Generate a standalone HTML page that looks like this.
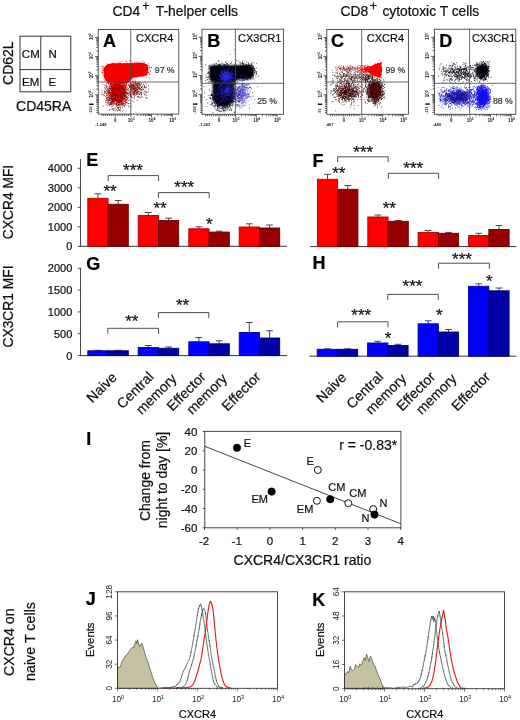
<!DOCTYPE html>
<html><head><meta charset="utf-8"><title>Figure</title>
<style>
html,body{margin:0;padding:0;background:#fff;}
body{width:520px;height:720px;overflow:hidden;font-family:"Liberation Sans",sans-serif;}
svg{display:block;font-family:"Liberation Sans",sans-serif;}
</style></head><body>
<svg width="520" height="720" viewBox="0 0 520 720">
<defs>
<filter id="b1" x="-10%" y="-10%" width="120%" height="120%"><feGaussianBlur stdDeviation="0.5"/></filter>
<filter id="b2" x="-10%" y="-10%" width="120%" height="120%"><feGaussianBlur stdDeviation="0.9"/></filter>
<filter id="soft" x="0" y="0" width="520" height="720" filterUnits="userSpaceOnUse"><feGaussianBlur stdDeviation="0.32"/></filter>
</defs>
<rect width="520" height="720" fill="#fff"/>
<g filter="url(#soft)">
<rect x="20" y="36.2" width="50.8" height="55.6" fill="none" stroke="#2a2a2a" stroke-width="0.95"/>
<line x1="40.8" y1="36.2" x2="40.8" y2="91.8" stroke="#2a2a2a" stroke-width="0.95"/>
<line x1="20" y1="69.6" x2="70.8" y2="69.6" stroke="#2a2a2a" stroke-width="0.95"/>
<text x="30.8" y="58.2" font-size="11.5" text-anchor="middle" fill="#111" stroke="#111" stroke-width="0.22">CM</text>
<text x="52.7" y="58.2" font-size="11.5" text-anchor="middle" fill="#111" stroke="#111" stroke-width="0.22">N</text>
<text x="30.7" y="85.9" font-size="11.5" text-anchor="middle" fill="#111" stroke="#111" stroke-width="0.22">EM</text>
<text x="52.4" y="85.9" font-size="11.5" text-anchor="middle" fill="#111" stroke="#111" stroke-width="0.22">E</text>
<text x="12.8" y="63.2" font-size="14" text-anchor="middle" fill="#111" transform="rotate(-90 12.8 63.2)" stroke="#111" stroke-width="0.22">CD62L</text>
<text x="43.7" y="110.6" font-size="14" text-anchor="middle" fill="#111" stroke="#111" stroke-width="0.22">CD45RA</text>
<text x="112.6" y="15.7" font-size="13.8" text-anchor="start" fill="#111" stroke="#111" stroke-width="0.22">CD4</text>
<text x="142.2" y="9.6" font-size="12.5" text-anchor="start" fill="#111" stroke="#111" stroke-width="0.3">+</text>
<text x="155.8" y="15.7" font-size="13.8" text-anchor="start" fill="#111" stroke="#111" stroke-width="0.22">T-helper cells</text>
<text x="340.6" y="15.7" font-size="13.8" text-anchor="start" fill="#111" stroke="#111" stroke-width="0.22">CD8</text>
<text x="369.8" y="9.6" font-size="12.5" text-anchor="start" fill="#111" stroke="#111" stroke-width="0.3">+</text>
<text x="382.4" y="15.7" font-size="13.8" text-anchor="start" fill="#111" stroke="#111" stroke-width="0.22">cytotoxic T cells</text>
<path transform="scale(.1)" d="m1015 903h8m-7 25h8m-7 18h8m3-3h8m-7 117h8m-1-103h8m-5-48h8m-5 6h8m-8 18h8m-7-56h8m-4 9h8m-6 38h8m-4 97h8m-6-107h8m-6-64h8m-8 43h8m-7 113h8m-8 22h8m-7-25h8m-7-100h8m-7 83h8m-7-217h8m-8 108h8m-8 55h8m-8 7h8m-7-76h8m-8 96h8m-7 30h8m-7-200h8m-7 76h8m-8 4h8m-8 85h8m-6-13h8m-7 89h8m-7 23h8m-6-42h8m-7-191h8m-8 92h8m-8 5h8m-6 74h8m-7-95h8m-8 17h8m-8 78h8m-6-77h8m-7 65h8m-8 28h8m-7-114h8m-8 127h8m-8 21h8m-7-42h8m-7-164h8m-8 73h8m-8 19h8m-6-99h8m-8 93h8m-8 15h8m-8 12h8m-8 81h8m-7-143h8m-8 90h8m-7-161h8m-8 136h8m-8 39h8m-6-62h8m-8 3h8m-8 73h8m-7-227h8m-8 114h8m-8 42h8m-7-110h8m-7 103h8m-8 172h8m-7-235h8m-8 121h8m-8 12h8m-6 9h8m-7-103h8m-8 20h8m-8 57h8m-8 62h8m-7-65h8m-8 123h8m-7-214h8m-8 66h8m-8 1h8m-7-109h8m-7-47h8m-8 137h8m-8 1h8m-7 23h8m-8 70h8m-7-181h8m-7 93h8m-8 20h8m-7-111h8m-8 99h8m-8 30h8m-8 54h8m-7-148h8m-8 47h8m-7-125h8m-8 146h8m-8 23h8m-8 26h8m-7-73h8m-7-165h8m-8 105h8m-8 154h8m-8 16h8m-6-176h8m-8 3h8m-8 30h8m-8 74h8m-8 8h8m-8 70h8m-7-247h8m-8 14h8m-8 60h8m-8 166h8m-7-201h8m-8 7h8m-8 13h8m-8 28h8m-8 25h8m-8 1h8m-8 46h8m-7-120h8m-8 148h8m-7-58h8m-8 5h8m-8 4h8m-8 32h8m-7-143h8m-8 11h8m-8 63h8m-7-104h8m-7 68h8m-8 48h8m-8 9h8m-8 60h8m-8 3h8m-7-176h8m-8 76h8m-8 45h8m-8 17h8m-7-42h8m-8 116h8m-8 18h8m-7-129h8m-8 24h8m-8 19h8m-8 25h8m-8 20h8m-8 91h8m-7-245h8m-8 36h8m-8 33h8m-8 98h8m-8 19h8m-6-83h8m-8 27h8m-8 19h8m-7-110h8m-8 52h8m-8 17h8m-8 1h8m-7-64h8m-8 19h8m-8 70h8m-7-66h8m-8 58h8m-8 82h8m-7-170h8m-8 7h8m-8 63h8m-8 40h8m-8 11h8m-7-85h8m-8 10h8m-8 6h8m-8 5h8m-8 46h8m-7-138h8m-8 70h8m-7-37h8m-8 19h8m-8 38h8m-8 28h8m-8 18h8m-7-95h8m-8 37h8m-8 10h8m-8 26h8m-8 13h8m-8 16h8m-8 4h8m-8 98h8m-7-276h8m-8 63h8m-8 30h8m-8 140h8m-7-241h8m-8 5h8m-8 78h8m-8 42h8m-8 4h8m-8 29h8m-8 12h8m-8 12h8m-7-147h8m-8 44h8m-8 2h8m-8 47h8m-8 23h8m-8 19h8m-7-31h8m-8 16h8m-7-67h8m-8 35h8m-8 20h8m-8 0h8m-8 28h8m-7-153h8m-8 86h8m-8 34h8m-8 9h8m-8 14h8m-7-155h8m-8 59h8m-8 23h8m-8 33h8m-8 15h8m-8 27h8m-8 24h8m-8 12h8m-7-173h8m-8 49h8m-8 82h8m-8 1h8m-8 56h8m-7-139h8m-8 9h8m-8 8h8m-8 47h8m-8 37h8m-8 33h8m-8 70h8m-7-239h8m-8 33h8m-8 45h8m-8 89h8m-7-72h8m-8 96h8m-7-149h8m-8 51h8m-8 37h8m-7-126h8m-8 1h8m-8 20h8m-8 126h8m-8 1h8m-7-197h8m-8 91h8m-8 6h8m-8 11h8m-8 58h8m-8 10h8m-8 2h8m-8 5h8m-7-123h8m-8 157h8m-7-148h8m-8 28h8m-8 52h8m-8 41h8m-7-284h8m-8 137h8m-8 16h8m-8 25h8m-7-85h8m-8 204h8m-8 1h8m-7-210h8m-8 132h8m-8 5h8m-8 3h8m-8 24h8m-8 16h8m-8 17h8m-8 7h8m-7-63h8m-8 29h8m-8 17h8m-8 4h8m-8 50h8m-7-133h8m-8 61h8m-8 8h8m-8 14h8m-8 19h8m-7-162h8m-8 50h8m-8 3h8m-8 16h8m-8 21h8m-7-69h8m-8 30h8m-8 11h8m-8 8h8m-7 0h8m-8 55h8m-8 7h8m-8 4h8m-7-139h8m-8 73h8m-8 17h8m-8 5h8m-8 23h8m-7-144h8m-8 138h8m-8 150h8m-7-251h8m-8 33h8m-8 29h8m-8 19h8m-8 13h8m-7-191h8m-8 60h8m-8 6h8m-8 132h8m-8 42h8m-8 7h8m-7-1h8m-8 92h8m-7-241h8m-8 63h8m-8 16h8m-8 17h8m-8 32h8m-8 3h8m-8 1h8m-8 45h8m-7-166h8m-8 61h8m-8 2h8m-8 3h8m-8 111h8m-7-175h8m-8 16h8m-8 64h8m-8 39h8m-8 65h8m-7-273h8m-8 115h8m-8 0h8m-8 4h8m-8 40h8m-8 101h8m-7-151h8m-8 63h8m-8 7h8m-8 14h8m-8 29h8m-7-135h8m-8 28h8m-8 23h8m-8 42h8m-8 14h8m-8 13h8m-8 21h8m-7-210h8m-8 67h8m-8 18h8m-8 43h8m-8 41h8m-8 61h8m-7-217h8m-8 69h8m-8 38h8m-8 20h8m-8 5h8m-8 35h8m-8 16h8m-8 6h8m-7-158h8m-8 22h8m-8 7h8m-8 51h8m-8 29h8m-8 12h8m-8 28h8m-8 1h8m-7-148h8m-8 56h8m-8 21h8m-8 56h8m-8 12h8m-8 9h8m-8 84h8m-7-238h8m-8 50h8m-8 15h8m-8 11h8m-8 23h8m-8 12h8m-8 1h8m-8 1h8m-7-73h8m-8 91h8m-8 15h8m-8 35h8m-7-55h8m-8 18h8m-8 39h8m-7-114h8m-8 197h8m-7-163h8m-8 8h8m-8 52h8m-8 5h8m-8 2h8m-7-161h8m-8 78h8m-8 55h8m-8 29h8m-7-190h8m-8 23h8m-8 81h8m-8 22h8m-8 132h8m-7-222h8m-8 32h8m-8 73h8m-8 5h8m-8 6h8m-7-102h8m-8 54h8m-8 78h8m-8 11h8m-8 35h8m-7-200h8m-8 76h8m-8 21h8m-8 6h8m-8 33h8m-8 12h8m-8 3h8m-7-247h8m-8 148h8m-8 24h8m-8 5h8m-8 9h8m-8 38h8m-8 8h8m-8 36h8m-7-187h8m-8 52h8m-8 11h8m-7 67h8m-8 111h8m-8 7h8m-7-184h8m-8 2h8m-8 7h8m-8 0h8m-8 96h8m-8 39h8m-7-185h8m-8 44h8m-8 4h8m-8 8h8m-8 25h8m-8 9h8m-8 4h8m-8 38h8m-7-97h8m-8 6h8m-8 34h8m-8 29h8m-8 8h8m-8 18h8m-8 58h8m-7-212h8m-8 0h8m-8 56h8m-8 0h8m-8 6h8m-8 22h8m-8 50h8m-8 11h8m-8 41h8m-7-228h8m-8 153h8m-8 50h8m-8 31h8m-7-170h8m-8 31h8m-8 54h8m-8 70h8m-8 41h8m-7-122h8m-8 24h8m-8 79h8m-7-146h8m-8 61h8m-8 4h8m-8 11h8m-8 141h8m-6-266h8m-8 86h8m-8 24h8m-8 23h8m-8 35h8m-8 16h8m-7-224h8m-8 15h8m-8 59h8m-8 18h8m-8 11h8m-8 25h8m-8 32h8m-8 2h8m-7-87h8m-8 10h8m-8 11h8m-8 27h8m-8 13h8m-8 27h8m-8 15h8m-8 31h8m-8 18h8m-8 71h8m-7-265h8m-8 1h8m-8 24h8m-8 21h8m-8 67h8m-8 21h8m-8 6h8m-7-44h8m-8 2h8m-8 3h8m-8 16h8m-8 21h8m-8 10h8m-8 53h8m-7-186h8m-8 3h8m-8 16h8m-8 29h8m-8 15h8m-8 7h8m-8 7h8m-8 2h8m-8 1h8m-8 46h8m-8 26h8m-7-164h8m-8 130h8m-8 0h8m-8 7h8m-8 1h8m-8 30h8m-8 38h8m-7-252h8m-8 116h8m-8 22h8m-8 18h8m-8 52h8m-8 19h8m-7-149h8m-8 52h8m-8 14h8m-8 4h8m-8 139h8m-7-92h8m-8 13h8m-8 28h8m-7-152h8m-8 24h8m-8 92h8m-8 102h8m-7-270h8m-8 126h8m-8 6h8m-8 16h8m-8 142h8m-7-345h8m-8 131h8m-8 8h8m-8 34h8m-8 12h8m-8 32h8m-7-56h8m-8 32h8m-8 40h8m-7-160h8m-8 66h8m-8 8h8m-8 14h8m-8 10h8m-7 23h8m-6-77h8m-8 36h8m-8 37h8m-8 19h8m-8 13h8m-7-60h8m-8 29h8m-7-130h8m-8 6h8m-8 2h8m-8 94h8m-8 15h8m-8 30h8m-8 26h8m-8 42h8m-7-103h8m-8 37h8m-8 10h8m-8 3h8m-8 10h8m-7-87h8m-8 34h8m-8 5h8m-8 3h8m-8 70h8m-7-161h8m-7-46h8m-8 70h8m-7 39h8m-8 36h8m-8 11h8m-8 4h8m-8 30h8m-8 28h8m-8 3h8m-7-263h8m-8 135h8m-7-99h8m-8 11h8m-8 55h8m-8 14h8m-8 8h8m-8 9h8m-8 33h8m-8 3h8m-8 41h8m-8 38h8m-7-166h8m-8 62h8m-8 57h8m-7-76h8m-8 38h8m-8 23h8m-8 30h8m-8 44h8m-8 44h8m-7-197h8m-8 20h8m-8 70h8m-7-80h8m-8 89h8m-7-56h8m-8 12h8m-8 6h8m-8 169h8m-7-252h8m-8 129h8m-7-123h8m-8 84h8m-7-11h8m-8 4h8m-8 10h8m-8 105h8m-7-220h8m-8 80h8m-8 70h8m-7-28h8m-8 82h8m-7-282h8m-8 81h8m-8 38h8m-8 118h8m-7-52h8m-8 2h8m-8 18h8m-7-185h8m-8 128h8m-8 20h8m-8 66h8m-7-109h8m-8 22h8m-8 128h8m-7-147h8m-8 31h8m-8 20h8m-8 0h8m-7-69h8m-8 37h8m-8 52h8m-8 27h8m-8 4h8m-8 60h8m-7-236h8m-8 40h8m-8 166h8m-8 13h8m-7-139h8m-8 63h8m-8 9h8m-7-76h8m-8 33h8m-8 32h8m-8 17h8m-7-13h8m-8 109h8m-7-215h8m-8 90h8m-8 2h8m-8 41h8m-7-183h8m-7 119h8m-8 10h8m-7 124h8m-7-143h8m-8 23h8m-8 45h8m-7-124h8m-8 96h8m-7-3h8m-7-37h8m-7-44h8m-8 21h8m-7 30h8m-8 24h8m-7-71h8m-8 52h8m-8 36h8m-8 14h8m-7-104h8m-8 4h8m-8 33h8m-7 76h8m-7-114h8m-8 26h8m-8 3h8m-8 115h8m-8 29h8m-7-131h8m-8 100h8m-7-54h8m-8 36h8m-7-31h8m-8 90h8m-6-133h8m-8 58h8m-7-39h8m-7 39h8m-6-123h8m-8 83h8m-8 63h8m-7-61h8m-8 25h8m-7 0h8m-8 37h8m-5-22h8m-7-99h8m-8 44h8m-7 15h8m-7 91h8m-7-60h8m-8 19h8m-7-222h8m-8 222h8m-7-90h8m-6 29h8m-7 13h8m-7 0h8m-7-121h8m-8 184h8m-5-26h8m-7-21h8m-6 80h8m-7-273h8m-8 91h8m-8 213h8m-5-64h8m-6-63h8m-5-173h8m-8 37h8m-2 110h8m-4-23h8m-6 67h8m-6-11h8m-6 115h8m-5-190h8m-2 138h8m-3-151h8m-6-47h8" stroke="#1a0000" stroke-width="8" fill="none"/>
<path transform="scale(.1)" d="m1290 924h8m-5-65h8m-8 5h8m-8 9h8m-6 0h8m-7-21h8m-8 22h8m-7-9h8m-7 84h8m-8 12h8m-7-64h8m-8 22h8m-7-64h8m-8 180h8m-6-70h8m-7-71h8m-6 5h8m-7-64h8m-8 29h8m-8 20h8m-7 78h8m-6-103h8m-8 99h8m-7-112h8m-8 32h8m-8 10h8m-8 85h8m-6-68h8m-5 7h8m-7-68h8m-8 26h8m-7-18h8m-8 27h8m-8 7h8m-7-32h8m-8 38h8m-7-32h8m-5-32h8m-7 97h8m-8 14h8m-6-32h8m-6-48h8m-8 30h8m-7-10h8m-8 9h8m-7 2h8m-8 36h8m-7-68h8m-7-9h8m-8 4h8m-7-4h8m-8 9h8m-8 10h8m-8 78h8m-7-107h8m-8 102h8m-7-26h8m-8 9h8m-6-66h8m-8 15h8m-8 10h8m-8 71h8m-8 65h8m-7-150h8m-8 104h8m-7-90h8m-8 41h8m-8 13h8m-7-77h8m-8 56h8m-7-12h8m-8 38h8m-8 40h8m-6-90h8m-8 26h8m-7-14h8m-8 31h8m-7-102h8m-8 54h8m-8 20h8m-6-53h8m-8 43h8m-7 11h8m-7-84h8m-8 38h8m-8 35h8m-7-52h8m-7 26h8m-8 6h8m-7 12h8m-8 13h8m-7-64h8m-8 43h8m-8 30h8m-8 9h8m-7-14h8m-8 43h8m-6-30h8m-8 1h8m-6-40h8m-8 18h8m-7-62h8m-8 16h8m-7 28h8m-8 11h8m-7-44h8m-7 1h8m-8 81h8m-6-29h8m-8 9h8m-5 19h8m-8 11h8m-7-45h8m-8 111h8m-7-128h8m-8 46h8m-8 1h8m-7 41h8m-7-113h8m-8 10h8m-7-33h8m-8 10h8m-8 58h8m-7-61h8m-8 91h8m-8 42h8m-7-69h8m-7-38h8m-8 32h8m-8 19h8m-6 28h8m-7-104h8m-8 35h8m-5-34h8m-7 37h8m-8 6h8m-8 79h8m-7-46h8m-7-31h8m-8 34h8m-8 15h8m-6-100h8m-8 136h8m-7-117h8m-8 126h8m-6-146h8m-8 16h8m-8 22h8m-8 21h8m-7-34h8m-8 21h8m-8 41h8m-8 24h8m-7 0h8m-5-51h8m-4-41h8m-8 39h8m-8 20h8m-7-16h8m-6-33h8m-8 29h8m-7 47h8m-7 40h8m-4-53h8m-7-91h8m-7 129h8m-7-88h8m-8 61h8m-7-57h8m-7 33h8m-8 34h8m-7-70h8m-5-31h8m-8 49h8m-6 78h8m-4-107h8m-6 35h8m-1-1h8m-4-48h8m-8 43h8m-6 45h8m-6-68h8m-6-7h8m-6-2h8m-8 57h8m-5-43h8m-7 69h8m-4-115h8m-5 87h8m-7 62h8m-7-100h8m-7 0h8m-7 51h8m-8 28h8m-8 24h8m-2-53h8m-1 54h8m0-65h8m-6-57h8m-7 30h8" stroke="#180404" stroke-width="8" fill="none"/>
<path transform="scale(.1)" d="m1035 682h7m3 170h7m-4-50h7m-5-12h7m27-11h7m-7 149h7m-4-97h7m-4-77h7m1 243h7m-2-243h7m1 236h7m-4-192h7m14-41h7m-3 59h7m-7 39h7m-2-133h7m-6 59h7m-5 79h7m-3-10h7m3-108h7m-4 79h7m4-96h7m-6-16h7m0 22h7m-7 213h7m10-114h7m-4-77h7m-7 74h7m-7 35h7m-5 37h7m2-187h7m-3 94h7m-1-61h7m1 10h7m-4 121h7m-1-154h7m-5 41h7m-4 106h7m-2-29h7m1-4h7m11 201h7m-5-193h7m1-155h7m4 96h7m0 145h7m17-208h7m24 209h7m44-4h7m-4-210h7m17 154h7" stroke="#200" stroke-width="7" fill="none"/>
<g filter="url(#b2)" fill="#e40000"><ellipse cx="117.2" cy="91" rx="6.4" ry="8"/></g>
<path transform="scale(.1)" d="m1039 929h8m-4 24h8m-1 11h8m-3-151h8m-7 232h8m-3-211h8m-4 141h8m-8 5h8m-7-86h8m-8 52h8m-6-37h8m-7 23h8m-7 40h8m-7-73h8m-8 99h8m-7-87h8m-6-25h8m-7-60h8m-7-66h8m-8 199h8m-6-142h8m-8 109h8m-6-97h8m-8 48h8m-8 41h8m-8 85h8m-8 0h8m-6-84h8m-8 12h8m-7 10h8m-7-92h8m-7 70h8m-6 12h8m-7-69h8m-8 56h8m-7 44h8m-6 30h8m-8 33h8m-7-113h8m-8 52h8m-8 8h8m-8 21h8m-7-89h8m-8 33h8m-7-76h8m-8 94h8m-8 18h8m-7-139h8m-8 148h8m-8 62h8m-8 4h8m-7-120h8m-8 7h8m-8 53h8m-7-106h8m-8 69h8m-8 81h8m-7-190h8m-8 45h8m-7-4h8m-7-43h8m-8 29h8m-8 17h8m-7 73h8m-8 57h8m-7-197h8m-8 16h8m-8 4h8m-8 136h8m-8 14h8m-7-193h8m-8 52h8m-8 13h8m-8 21h8m-8 8h8m-7 10h8m-8 36h8m-8 16h8m-7-11h8m-8 36h8m-7-33h8m-7-54h8m-7-38h8m-8 8h8m-8 47h8m-8 0h8m-8 13h8m-7-88h8m-8 47h8m-8 5h8m-8 70h8m-8 70h8m-7-163h8m-8 25h8m-8 47h8m-8 13h8m-8 13h8m-8 62h8m-8 1h8m-8 11h8m-7-130h8m-8 25h8m-7-40h8m-8 2h8m-8 29h8m-8 22h8m-8 15h8m-8 41h8m-8 19h8m-7-135h8m-8 9h8m-8 53h8m-8 43h8m-7-80h8m-8 134h8m-7-227h8m-8 101h8m-8 107h8m-8 42h8m-8 18h8m-7-251h8m-8 71h8m-8 8h8m-8 73h8m-7-110h8m-8 14h8m-8 39h8m-8 11h8m-8 6h8m-8 24h8m-8 37h8m-8 39h8m-7-175h8m-8 98h8m-8 1h8m-7-186h8m-8 61h8m-8 32h8m-8 49h8m-8 50h8m-7-198h8m-8 47h8m-8 36h8m-8 42h8m-8 10h8m-8 49h8m-8 7h8m-8 2h8m-7-61h8m-8 16h8m-8 112h8m-7-125h8m-8 20h8m-8 0h8m-8 30h8m-8 53h8m-8 12h8m-7-183h8m-8 17h8m-8 9h8m-8 45h8m-8 23h8m-8 30h8m-8 17h8m-7-71h8m-8 89h8m-7-173h8m-8 19h8m-8 4h8m-8 5h8m-8 37h8m-8 20h8m-8 24h8m-8 42h8m-7-65h8m-8 1h8m-8 32h8m-8 5h8m-8 4h8m-8 2h8m-8 5h8m-8 3h8m-8 36h8m-8 66h8m-7-306h8m-8 46h8m-8 12h8m-8 81h8m-8 14h8m-8 2h8m-8 23h8m-8 16h8m-8 19h8m-8 5h8m-8 14h8m-7-144h8m-8 2h8m-8 26h8m-8 107h8m-7-81h8m-8 4h8m-8 24h8m-7-157h8m-8 48h8m-8 27h8m-8 41h8m-8 11h8m-8 0h8m-8 33h8m-8 38h8m-8 27h8m-8 37h8m-7-208h8m-8 29h8m-8 29h8m-8 32h8m-8 9h8m-8 60h8m-8 7h8m-8 26h8m-8 84h8m-7-281h8m-8 73h8m-8 11h8m-8 5h8m-8 52h8m-8 42h8m-8 3h8m-8 6h8m-7-134h8m-8 1h8m-8 0h8m-8 3h8m-8 2h8m-8 57h8m-8 33h8m-8 40h8m-7-185h8m-8 22h8m-8 25h8m-8 28h8m-8 21h8m-8 12h8m-8 4h8m-8 64h8m-7-142h8m-8 23h8m-8 9h8m-8 57h8m-8 21h8m-8 11h8m-7-162h8m-8 89h8m-8 21h8m-8 10h8m-8 30h8m-8 58h8m-7-219h8m-8 58h8m-8 19h8m-8 8h8m-8 12h8m-8 34h8m-8 49h8m-8 17h8m-7-240h8m-8 47h8m-8 16h8m-8 65h8m-8 7h8m-8 2h8m-8 15h8m-7-63h8m-8 13h8m-8 21h8m-8 5h8m-8 26h8m-8 1h8m-8 8h8m-8 7h8m-8 11h8m-8 5h8m-8 17h8m-8 32h8m-8 2h8m-8 25h8m-7-197h8m-8 20h8m-8 55h8m-8 48h8m-8 8h8m-7-197h8m-8 83h8m-8 0h8m-8 14h8m-8 21h8m-8 20h8m-8 6h8m-8 5h8m-8 13h8m-8 24h8m-8 2h8m-8 14h8m-8 4h8m-8 4h8m-8 8h8m-7-153h8m-8 5h8m-8 21h8m-8 90h8m-8 61h8m-7-193h8m-8 35h8m-8 7h8m-8 87h8m-8 15h8m-7-220h8m-8 99h8m-8 9h8m-8 26h8m-8 8h8m-8 5h8m-8 9h8m-8 23h8m-8 5h8m-8 2h8m-8 31h8m-7-127h8m-8 47h8m-8 5h8m-8 1h8m-8 7h8m-8 23h8m-8 44h8m-8 3h8m-8 20h8m-8 5h8m-8 12h8m-8 8h8m-8 31h8m-7-259h8m-8 66h8m-8 25h8m-8 7h8m-8 0h8m-8 8h8m-8 21h8m-8 18h8m-8 9h8m-8 2h8m-8 0h8m-8 47h8m-7-197h8m-8 49h8m-8 69h8m-8 13h8m-8 8h8m-8 9h8m-8 7h8m-8 17h8m-8 8h8m-8 14h8m-7-141h8m-8 60h8m-8 54h8m-8 22h8m-8 23h8m-8 18h8m-7-244h8m-8 44h8m-8 35h8m-8 20h8m-8 15h8m-8 21h8m-8 17h8m-8 20h8m-8 7h8m-8 6h8m-8 13h8m-8 7h8m-7-127h8m-8 30h8m-8 2h8m-8 9h8m-8 7h8m-8 10h8m-8 24h8m-8 31h8m-8 8h8m-8 9h8m-8 19h8m-8 48h8m-7-203h8m-8 28h8m-8 15h8m-8 29h8m-8 4h8m-8 8h8m-8 15h8m-8 37h8m-7-119h8m-8 41h8m-8 27h8m-8 2h8m-8 7h8m-8 40h8m-8 4h8m-8 3h8m-7-186h8m-8 84h8m-8 9h8m-8 33h8m-8 8h8m-8 18h8m-8 24h8m-8 1h8m-7-155h8m-8 45h8m-8 40h8m-8 1h8m-8 3h8m-8 18h8m-8 4h8m-8 11h8m-7-123h8m-8 11h8m-8 3h8m-8 7h8m-8 16h8m-8 3h8m-8 8h8m-8 3h8m-8 2h8m-8 4h8m-8 3h8m-8 7h8m-8 1h8m-8 3h8m-8 40h8m-8 17h8m-8 10h8m-8 53h8m-7-183h8m-8 10h8m-8 20h8m-8 6h8m-8 14h8m-8 12h8m-8 13h8m-8 92h8m-8 14h8m-7-187h8m-8 42h8m-8 1h8m-8 14h8m-8 4h8m-8 2h8m-8 16h8m-8 6h8m-8 1h8m-8 20h8m-8 6h8m-8 0h8m-8 6h8m-8 5h8m-8 4h8m-8 3h8m-8 1h8m-8 3h8m-7-98h8m-8 30h8m-8 18h8m-8 24h8m-8 3h8m-8 3h8m-8 1h8m-8 6h8m-8 3h8m-8 14h8m-8 16h8m-8 2h8m-7-156h8m-8 48h8m-8 19h8m-8 18h8m-8 40h8m-8 0h8m-8 2h8m-8 5h8m-8 8h8m-8 20h8m-8 24h8m-7-180h8m-8 27h8m-8 3h8m-8 3h8m-8 18h8m-8 34h8m-8 13h8m-8 36h8m-8 9h8m-8 7h8m-8 57h8m-8 2h8m-8 11h8m-7-279h8m-8 70h8m-8 11h8m-8 40h8m-8 1h8m-8 21h8m-8 31h8m-8 8h8m-8 73h8m-8 4h8m-7-252h8m-8 30h8m-8 16h8m-8 42h8m-8 15h8m-8 10h8m-8 1h8m-8 42h8m-8 22h8m-8 12h8m-8 10h8m-7-94h8m-8 13h8m-8 12h8m-8 25h8m-8 3h8m-8 10h8m-8 7h8m-8 18h8m-8 9h8m-8 3h8m-8 42h8m-8 29h8m-7-276h8m-8 39h8m-8 31h8m-8 26h8m-8 25h8m-8 8h8m-8 17h8m-8 19h8m-8 20h8m-8 2h8m-8 11h8m-7-188h8m-8 40h8m-8 1h8m-8 47h8m-8 2h8m-8 9h8m-8 38h8m-8 68h8m-7-183h8m-8 50h8m-8 21h8m-8 50h8m-8 86h8m-8 12h8m-7-165h8m-8 5h8m-8 7h8m-8 25h8m-8 8h8m-8 12h8m-8 14h8m-8 6h8m-8 3h8m-8 0h8m-8 1h8m-8 24h8m-8 36h8m-7-193h8m-8 55h8m-8 35h8m-8 6h8m-8 12h8m-8 7h8m-8 2h8m-8 1h8m-8 4h8m-8 15h8m-8 9h8m-8 2h8m-8 4h8m-8 16h8m-8 7h8m-8 11h8m-8 3h8m-8 20h8m-8 32h8m-7-204h8m-8 3h8m-8 44h8m-8 40h8m-8 4h8m-8 5h8m-8 23h8m-8 11h8m-7-156h8m-8 23h8m-8 18h8m-8 13h8m-8 6h8m-8 3h8m-8 6h8m-8 8h8m-8 3h8m-8 2h8m-8 3h8m-8 31h8m-8 32h8m-8 15h8m-8 3h8m-8 1h8m-8 15h8m-7-201h8m-8 6h8m-8 81h8m-8 28h8m-8 4h8m-8 2h8m-8 21h8m-8 21h8m-8 7h8m-8 64h8m-7-185h8m-8 45h8m-8 9h8m-8 3h8m-8 26h8m-8 14h8m-8 1h8m-8 18h8m-8 10h8m-8 1h8m-8 5h8m-7-174h8m-8 27h8m-8 8h8m-8 6h8m-8 23h8m-8 0h8m-8 14h8m-8 4h8m-8 2h8m-8 2h8m-8 8h8m-8 11h8m-8 22h8m-8 2h8m-8 16h8m-8 7h8m-8 4h8m-8 55h8m-8 8h8m-7-197h8m-8 22h8m-8 9h8m-8 25h8m-8 8h8m-8 6h8m-8 3h8m-8 30h8m-8 3h8m-8 10h8m-8 11h8m-8 8h8m-8 36h8m-8 17h8m-7-148h8m-8 7h8m-8 11h8m-8 4h8m-8 0h8m-8 36h8m-8 14h8m-8 4h8m-8 10h8m-8 4h8m-8 0h8m-8 6h8m-8 11h8m-8 1h8m-8 77h8m-7-221h8m-8 54h8m-8 17h8m-8 15h8m-8 2h8m-8 4h8m-8 13h8m-8 14h8m-8 54h8m-7-208h8m-8 108h8m-8 20h8m-8 2h8m-8 3h8m-8 33h8m-8 18h8m-8 5h8m-8 2h8m-7-134h8m-8 8h8m-8 5h8m-8 7h8m-8 24h8m-8 16h8m-8 8h8m-8 3h8m-8 2h8m-8 15h8m-8 6h8m-8 19h8m-8 10h8m-8 5h8m-8 20h8m-8 37h8m-8 17h8m-7-197h8m-8 14h8m-8 42h8m-8 7h8m-8 4h8m-8 20h8m-8 18h8m-8 60h8m-7-219h8m-8 76h8m-8 36h8m-8 20h8m-8 1h8m-8 24h8m-8 1h8m-8 4h8m-8 28h8m-8 3h8m-7-193h8m-8 11h8m-8 61h8m-8 3h8m-8 10h8m-8 5h8m-8 9h8m-8 1h8m-8 38h8m-8 2h8m-8 16h8m-8 10h8m-8 21h8m-8 25h8m-8 77h8m-7-237h8m-8 6h8m-8 5h8m-8 10h8m-8 13h8m-8 20h8m-8 16h8m-8 13h8m-8 18h8m-8 0h8m-8 10h8m-8 31h8m-7-192h8m-8 58h8m-8 35h8m-8 5h8m-8 11h8m-8 1h8m-8 22h8m-8 10h8m-8 14h8m-8 4h8m-7-119h8m-8 29h8m-8 10h8m-8 4h8m-8 4h8m-8 13h8m-8 8h8m-8 6h8m-8 6h8m-8 5h8m-8 6h8m-8 55h8m-8 12h8m-8 10h8m-7-152h8m-8 12h8m-8 10h8m-8 3h8m-8 0h8m-8 6h8m-8 14h8m-8 13h8m-8 5h8m-8 5h8m-8 14h8m-8 32h8m-8 18h8m-8 41h8m-8 11h8m-7-254h8m-8 72h8m-8 36h8m-8 2h8m-8 19h8m-8 7h8m-8 9h8m-8 5h8m-8 18h8m-8 4h8m-8 10h8m-7-129h8m-8 8h8m-8 11h8m-8 14h8m-8 3h8m-8 33h8m-8 12h8m-8 5h8m-8 19h8m-8 70h8m-8 20h8m-7-204h8m-8 13h8m-8 5h8m-8 12h8m-8 29h8m-8 9h8m-8 10h8m-8 18h8m-8 1h8m-8 13h8m-8 6h8m-8 25h8m-8 90h8m-7-315h8m-8 35h8m-8 10h8m-8 50h8m-8 11h8m-8 8h8m-8 3h8m-8 11h8m-8 12h8m-8 1h8m-8 12h8m-8 1h8m-8 19h8m-8 20h8m-8 7h8m-8 5h8m-8 33h8m-8 2h8m-7-164h8m-8 26h8m-8 4h8m-8 29h8m-8 4h8m-8 42h8m-8 13h8m-8 55h8m-7-194h8m-8 1h8m-8 22h8m-8 10h8m-8 7h8m-8 26h8m-8 49h8m-8 7h8m-8 10h8m-8 11h8m-8 4h8m-8 1h8m-8 41h8m-8 44h8m-7-235h8m-8 66h8m-8 14h8m-8 17h8m-8 4h8m-8 27h8m-8 8h8m-8 4h8m-8 13h8m-8 8h8m-8 13h8m-8 6h8m-7-105h8m-8 16h8m-8 0h8m-8 15h8m-8 8h8m-8 18h8m-8 10h8m-8 3h8m-8 24h8m-8 12h8m-8 41h8m-7-196h8m-8 63h8m-8 51h8m-8 8h8m-8 33h8m-8 18h8m-8 1h8m-8 31h8m-7-264h8m-8 41h8m-8 57h8m-8 4h8m-8 7h8m-8 41h8m-8 1h8m-8 2h8m-8 22h8m-8 5h8m-8 16h8m-7-105h8m-8 3h8m-8 44h8m-8 4h8m-8 13h8m-8 7h8m-8 2h8m-8 7h8m-8 3h8m-8 49h8m-8 9h8m-8 4h8m-8 5h8m-8 32h8m-8 24h8m-7-270h8m-8 17h8m-8 27h8m-8 36h8m-8 11h8m-8 6h8m-8 2h8m-8 10h8m-8 21h8m-8 9h8m-8 23h8m-8 30h8m-7-144h8m-8 24h8m-8 26h8m-8 29h8m-8 19h8m-8 12h8m-8 52h8m-7-107h8m-8 5h8m-8 16h8m-8 9h8m-8 2h8m-8 15h8m-8 28h8m-8 2h8m-8 1h8m-8 62h8m-7-155h8m-8 18h8m-8 8h8m-8 5h8m-8 3h8m-8 28h8m-8 49h8m-7-204h8m-8 37h8m-8 62h8m-8 46h8m-8 2h8m-7-92h8m-8 1h8m-8 106h8m-8 8h8m-8 4h8m-8 48h8m-7-207h8m-8 50h8m-8 54h8m-8 4h8m-8 5h8m-8 7h8m-8 4h8m-8 56h8m-8 5h8m-8 4h8m-7-196h8m-8 86h8m-8 46h8m-8 16h8m-7-89h8m-8 42h8m-8 2h8m-8 15h8m-8 45h8m-8 7h8m-8 32h8m-8 7h8m-8 6h8m-7-195h8m-8 8h8m-8 37h8m-8 65h8m-8 7h8m-8 2h8m-8 52h8m-8 14h8m-8 21h8m-7-253h8m-8 82h8m-8 26h8m-8 6h8m-8 43h8m-8 0h8m-8 44h8m-8 3h8m-8 15h8m-8 8h8m-7-151h8m-8 42h8m-8 2h8m-8 34h8m-8 7h8m-8 25h8m-8 3h8m-7-208h8m-8 68h8m-8 33h8m-8 37h8m-8 6h8m-8 3h8m-8 10h8m-8 12h8m-8 22h8m-8 18h8m-8 24h8m-8 19h8m-8 6h8m-8 7h8m-7-201h8m-8 2h8m-8 4h8m-8 34h8m-8 3h8m-8 11h8m-8 13h8m-8 8h8m-8 42h8m-8 4h8m-8 21h8m-8 12h8m-8 84h8m-7-233h8m-8 76h8m-8 17h8m-8 34h8m-8 8h8m-8 3h8m-7-10h8m-7-116h8m-8 20h8m-8 11h8m-8 25h8m-8 1h8m-8 30h8m-8 17h8m-8 55h8m-7-168h8m-8 40h8m-8 9h8m-8 8h8m-8 25h8m-8 18h8m-8 10h8m-8 57h8m-8 7h8m-8 10h8m-7-208h8m-8 25h8m-8 32h8m-8 34h8m-8 44h8m-8 26h8m-8 33h8m-7-255h8m-8 113h8m-8 38h8m-8 46h8m-8 21h8m-8 85h8m-7-219h8m-8 4h8m-8 114h8m-7-128h8m-8 2h8m-8 7h8m-8 36h8m-8 13h8m-8 33h8m-8 57h8m-8 20h8m-8 30h8m-7-138h8m-8 7h8m-8 12h8m-8 20h8m-8 26h8m-8 18h8m-8 19h8m-8 37h8m-8 29h8m-7-253h8m-8 39h8m-8 17h8m-8 31h8m-8 47h8m-8 58h8m-8 18h8m-7-122h8m-8 1h8m-8 8h8m-8 2h8m-8 5h8m-8 13h8m-8 11h8m-8 15h8m-8 8h8m-8 5h8m-8 49h8m-8 17h8m-7-170h8m-8 17h8m-8 17h8m-8 5h8m-8 3h8m-8 22h8m-8 10h8m-8 11h8m-8 2h8m-8 22h8m-8 88h8m-7-224h8m-8 81h8m-8 68h8m-7-130h8m-8 6h8m-8 9h8m-8 93h8m-7-56h8m-8 17h8m-8 18h8m-8 32h8m-7-100h8m-8 19h8m-8 23h8m-8 64h8m-8 16h8m-7-127h8m-8 29h8m-8 27h8m-8 10h8m-8 28h8m-7-141h8m-8 77h8m-8 53h8m-7-75h8m-8 29h8m-8 32h8m-8 5h8m-8 5h8m-8 22h8m-8 17h8m-7-72h8m-8 44h8m-8 44h8m-7-127h8m-8 3h8m-8 56h8m-8 48h8m-8 21h8m-8 33h8m-7-141h8m-8 5h8m-8 15h8m-8 3h8m-8 81h8m-7-63h8m-8 29h8m-7-96h8m-8 9h8m-8 44h8m-8 2h8m-8 41h8m-8 1h8m-8 36h8m-7-148h8m-8 20h8m-8 41h8m-8 50h8m-8 13h8m-7-68h8m-8 7h8m-8 34h8m-8 52h8m-7-125h8m-8 13h8m-8 59h8m-8 26h8m-8 26h8m-8 9h8m-7-119h8m-8 5h8m-8 1h8m-8 31h8m-7-28h8m-8 16h8m-8 1h8m-8 110h8m-8 24h8m-7-99h8m-7-25h8m-7-54h8m-8 43h8m-8 69h8m-7-51h8m-8 87h8m-7-253h8m-8 83h8m-8 77h8m-8 45h8m-7-129h8m-8 62h8m-8 34h8m-8 11h8m-8 2h8m-7-105h8m-8 8h8m-8 56h8m-8 110h8m-7-129h8m-7-72h8m-8 52h8m-8 58h8m-8 42h8m-8 52h8m-8 20h8m-7-234h8m-8 106h8m-8 19h8m-8 1h8m-8 25h8m-7-32h8m-8 31h8m-7-29h8m-8 31h8m-8 75h8m-7-156h8m-8 10h8m-6 100h8m-7-23h8m-8 37h8m-7-71h8m-8 9h8m-7-36h8m-7-56h8m-8 91h8m-7-97h8m-8 50h8m-8 43h8m-7-84h8m-7 183h8m-7-166h8m-8 103h8m-6-189h8m-8 104h8m-8 129h8m-7-110h8m-8 41h8m-7-33h8m-7-22h8m-8 46h8m-3-134h8m-5 140h8m-7-2h8m-4-44h8m11-61h8m-6 100h8m-6 16h8m-1-54h8" stroke="#ee0000" stroke-width="8" fill="none"/>
<path transform="scale(.1)" d="m1049 860h7m-3 69h7m10 99h7m-3-54h7m-4 34h7m-5-42h7m3-15h7m-6-46h7m-6-27h7m-7 177h7m-5-14h7m-6-160h7m-1 160h7m-6-150h7m-6 152h7m-3 17h7m-5-65h7m-7 46h7m-4-25h7m-6-40h7m-6-72h7m-7 49h7m-7 9h7m-6-64h7m-6 57h7m-7 48h7m-5-23h7m-7 33h7m-7 7h7m-7 74h7m-6-156h7m-6-70h7m-5 96h7m-6-68h7m-7 23h7m-7 17h7m-7 9h7m-7 64h7m-6-87h7m-7 41h7m-5-17h7m-7 72h7m-6-136h7m-7 53h7m-7 70h7m-5-142h7m-7 19h7m-7 2h7m-7 109h7m-6-69h7m-7 13h7m-7 159h7m-5-166h7m-6 35h7m-7 56h7m-5-33h7m-5-12h7m-6-33h7m-7 76h7m-6-125h7m-7 13h7m-7 6h7m-7 13h7m-7 35h7m-5-109h7m-7 65h7m-7 20h7m-6 21h7m-6-82h7m-6 70h7m-7 10h7m-7 25h7m-6-99h7m-7 61h7m-7 12h7m-6-35h7m-7 19h7m-7 6h7m-5-46h7m-7 13h7m-7 197h7m-6-32h7m-5-95h7m-7 18h7m-5-131h7m-6 32h7m-7 9h7m-6-68h7m-7 64h7m-6 66h7m-7 20h7m-5 9h7m-6-84h7m-7 48h7m-7 0h7m-6 102h7m-6-115h7m-7 60h7m-7 34h7m-6-195h7m-7 11h7m-6 90h7m-6-31h7m-7 38h7m-7 52h7m-6-118h7m-7 5h7m-7 20h7m-7 19h7m-7 18h7m-6-45h7m-7 36h7m-7 53h7m-7 44h7m-6-201h7m-7 56h7m-7 44h7m-7 28h7m-7 5h7m-6-13h7m-6-55h7m-6-12h7m-7 41h7m-7 38h7m-6-69h7m-6 39h7m-7 32h7m-7 78h7m-7 27h7m-6-187h7m-6 2h7m-7 41h7m-7 85h7m-5 84h7m-6-163h7m-7 119h7m-6-181h7m-7 31h7m-7 53h7m-6-71h7m-7 17h7m-7 50h7m-6 41h7m-7 46h7m-6-204h7m-7 67h7m-7 19h7m-7 96h7m-6-55h7m-6-104h7m-7 31h7m-7 75h7m-6-4h7m-7 37h7m-5-114h7m-7 48h7m-6 30h7m-6-71h7m-7 43h7m-6 13h7m-5 56h7m-4-168h7m-7 164h7m-5-58h7m-7 21h7m-6-118h7m-6 44h7m-5 80h7m-6-134h7m-7 75h7m-7 139h7m-6-140h7m-6 86h7m-6-115h7m-7 61h7m-6-5h7m-5-42h7m-6-9h7m-5-31h7m-7 106h7m-7 45h7m-6 8h7m-6 26h7m-6-179h7m-7 136h7m-6-73h7m-6-52h7m-7 61h7m-5 21h7m-6-86h7m-7 103h7m-6-107h7m-7 57h7m-7 52h7m-7 3h7m-7 1h7m-6-35h7m-6-21h7m-7 33h7m-6-50h7m-2 45h7m-7 11h7m-6-73h7m-7 80h7m-7 71h7m-5-122h7m-6-21h7m-6 13h7m-7 74h7m-6-54h7m-5 72h7m-5-118h7m-5 106h7m-5-57h7m-6-14h7m-6-13h7m-5-29h7m-7 71h7m-6-17h7m-6 33h7m-4 63h7m-3-28h7m-6-109h7m-7 27h7m-1 99h7m-4 6h7m9 35h7m-6-154h7m-5 25h7m18-36h7" stroke="#300" stroke-width="7" fill="none"/>
<path transform="scale(.1)" d="m1102 970h8m-7-27h8m-4 23h8m-6-63h8m-5 27h8m-6-29h8m-8 37h8m-8 2h8m-7-63h8m-8 2h8m-6 56h8m-8 14h8m-8 6h8m-6-107h8m-7 55h8m-8 33h8m-8 2h8m-7-72h8m-7 5h8m-8 9h8m-8 43h8m-4 58h8m-7-69h8m-8 22h8m-8 43h8m-6-20h8m-7-110h8m-8 26h8m-8 10h8m-8 0h8m-7 38h8m-6 48h8m-7-68h8m-8 0h8m-7-71h8m-8 133h8m-7 15h8m-7-98h8m-8 21h8m-7-9h8m-8 7h8m-8 25h8m-7-48h8m-8 32h8m-7-54h8m-8 54h8m-7-46h8m-8 60h8m-7-66h8m-8 36h8m-8 49h8m-8 10h8m-8 20h8m-8 19h8m-7-147h8m-8 4h8m-8 60h8m-8 17h8m-8 66h8m-7-94h8m-7 6h8m-8 25h8m-7-83h8m-8 43h8m-8 12h8m-7-77h8m-8 124h8m-7-104h8m-8 20h8m-8 46h8m-8 13h8m-7-63h8m-8 25h8m-8 23h8m-8 36h8m-7 4h8m-7-95h8m-8 46h8m-8 35h8m-7-42h8m-8 16h8m-8 5h8m-8 8h8m-7-28h8m-8 74h8m-8 1h8m-7-102h8m-8 67h8m-7-108h8m-8 5h8m-8 20h8m-8 14h8m-8 39h8m-8 2h8m-8 37h8m-8 9h8m-7-96h8m-8 30h8m-8 19h8m-7-19h8m-8 14h8m-8 25h8m-8 58h8m-7-137h8m-8 5h8m-8 37h8m-7 33h8m-8 5h8m-8 5h8m-8 4h8m-8 36h8m-7-86h8m-8 134h8m-7-190h8m-8 43h8m-8 147h8m-7-164h8m-8 6h8m-8 29h8m-8 0h8m-8 62h8m-8 9h8m-7-74h8m-8 102h8m-6-117h8m-8 17h8m-8 6h8m-8 35h8m-8 15h8m-7-30h8m-8 13h8m-8 1h8m-8 50h8m-7-98h8m-8 19h8m-6-32h8m-8 36h8m-7-35h8m-8 3h8m-8 41h8m-7-41h8m-8 12h8m-8 7h8m-8 24h8m-8 14h8m-8 3h8m-8 4h8m-8 22h8m-8 42h8m-7-171h8m-8 173h8m-7-117h8m-8 24h8m-7 10h8m-8 10h8m-8 0h8m-8 16h8m-7-52h8m-8 21h8m-8 35h8m-8 23h8m-8 2h8m-7-110h8m-8 64h8m-8 23h8m-7-30h8m-8 51h8m-7-29h8m-7-100h8m-8 24h8m-7-1h8m-8 29h8m-8 12h8m-7-40h8m-8 94h8m-8 35h8m-7-153h8m-8 11h8m-8 15h8m-8 27h8m-7-43h8m-8 20h8m-8 20h8m-8 41h8m-7-17h8m-8 2h8m-7 85h8m-7-122h8m-8 5h8m-8 29h8m-8 27h8m-8 64h8m-7-132h8m-8 2h8m-8 50h8m-7-83h8m-8 117h8m-8 16h8m-7-116h8m-8 21h8m-8 15h8m-8 46h8m-8 11h8m-7-105h8m-8 35h8m-6 84h8m-8 16h8m-8 23h8m-7-171h8m-8 18h8m-8 4h8m-8 23h8m-8 30h8m-8 15h8m-8 14h8m-8 41h8m-7-42h8m-7-78h8m-8 22h8m-8 16h8m-8 4h8m-8 2h8m-8 12h8m-6-66h8m-8 56h8m-8 0h8m-8 23h8m-8 42h8m-7-73h8m-8 15h8m-8 45h8m-7-78h8m-8 54h8m-6-59h8m-8 72h8m-7-102h8m-8 92h8m-8 88h8m-7-139h8m-8 12h8m-7 16h8m-8 32h8m-8 27h8m-7-80h8m-8 1h8m-8 0h8m-8 48h8m-7-44h8m-8 122h8m-7-141h8m-8 11h8m-8 5h8m-8 2h8m-8 16h8m-8 19h8m-7 20h8m-6-96h8m-8 58h8m-8 7h8m-8 30h8m-7-47h8m-8 51h8m-7-51h8m-7-64h8m-8 73h8m-6 36h8m-8 12h8m-6-8h8m-7 3h8m-7-20h8m-6 39h8m-6-69h8m-7-18h8m-6 65h8m-8 11h8m-7-47h8m-7-43h8m-8 46h8m-7-56h8m-7 2h8m-8 55h8m-8 5h8m-7-76h8m-7 38h8m-6-17h8m-8 84h8m-7-47h8m-7-19h8m-5 80h8m-6-102h8m-8 48h8m-4-21h8m-8 6h8m-8 17h8m-6 39h8m-7 5h8m-4-42h8m-5-19h8m-6-47h8m18 1h8" stroke="#ee0000" stroke-width="8" fill="none"/>
<path transform="scale(.1)" d="m1064 972h6m6-46h6m14-60h6m0 53h6m-3 87h6m-1-103h6m-1 89h6m-3-86h6m-6 89h6m-3-154h6m-5 97h6m-6 5h6m-4-39h6m-1 37h6m-5-59h6m-5 121h6m-5-72h6m-6 31h6m-6 39h6m-5-87h6m-6 13h6m-5-37h6m-5 63h6m-1-85h6m-6 7h6m-6 41h6m-4-70h6m-5 56h6m-6 59h6m-4-27h6m-5 5h6m-4-34h6m-6 62h6m-6 14h6m-6 5h6m-5-34h6m-6 46h6m-5-110h6m-5 31h6m-3-78h6m-6 139h6m-5-101h6m-4-29h6m-6 37h6m-5 74h6m-3-21h6m-5 9h6m-3 15h6m-5-95h6m0 12h6m-6 15h6m-5 50h6m-6 44h6m-2-84h6m-6 69h6m-5-132h6m-6 29h6m-6 147h6m-4-161h6m-3 3h6m-6 36h6m-6 22h6m-5-29h6m-6 29h6m-6 34h6m-6 54h6m-5-125h6m-6 24h6m-3 5h6m-5-34h6m-6 48h6m-5 86h6m-4-114h6m-5-33h6m-4 23h6m-6 163h6m-5-137h6m-5 18h6m-5-38h6m-6 1h6m-6 61h6m-6 29h6m-5-14h6m-6 45h6m-4-74h6m-5 5h6m-5-31h6m-6 45h6m-5-82h6m-6 29h6m-5 45h6m-5-66h6m-5 39h6m-2-10h6m-6 9h6m-5 6h6m-5-70h6m-3 152h6m-5-121h6m-6 23h6m-6 62h6m-3-93h6m-6 65h6m-5-10h6m-6 99h6m-5-121h6m-5-28h6m-6 61h6m-3 16h6m-5-83h6m-6 105h6m-5 3h6m-5 13h6m-5-110h6m1 69h6m-2-23h6m-3-46h6m2-37h6m0 65h6m-2-64h6" stroke="#400" stroke-width="6" fill="none"/>
<path transform="scale(.1)" d="m1281 886h8m-7 13h8m-2-68h8m-6 36h8m-4 46h8m-7 28h8m-7-72h8m-8 6h8m-6-31h8m-5 103h8m-6 0h8m-7-135h8m-8 26h8m-8 30h8m-8 2h8m-5 61h8m-7 1h8m-7-64h8m-7-1h8m-7-13h8m-8 42h8m-8 21h8m-5-11h8m-7-25h8m-8 90h8m-6-85h8m-6 15h8m-6-78h8m-8 20h8m-7 32h8m-5-24h8m-8 94h8m-7-33h8m-7-25h8m-7-7h8m-8 11h8m-7 42h8m-7-121h8m-3 37h8m-8 85h8m-7-103h8m-8 11h8m-7-24h8m-8 43h8m-8 39h8m-8 1h8m-7-22h8m-8 25h8m-6-46h8m-8 14h8m-8 76h8m-5 16h8m-7-154h8m-7 86h8m-5-71h8m-8 85h8m-7-99h8m-8 123h8m-5-59h8m-7 22h8m-7-20h8m-7-2h8m-8 40h8m-8 39h8m-7-129h8m-8 20h8m-7 57h8m-7-25h8m-8 61h8m-7-77h8m-8 25h8m-3 58h8m-6-85h8m-5 5h8m-8 14h8m-6 25h8m-8 19h8m-7-74h8m-8 18h8m-8 77h8m-7-54h8m-8 14h8m-5-40h8m-5-43h8m-7 63h8m-8 1h8m-5-26h8m-7 18h8m-5-20h8m-7 25h8m-5 3h8m-6-51h8m-7 55h8m-6-65h8m-8 18h8m-5 88h8m-6-79h8m-1 98h8m-5-10h8m-6-69h8m-8 29h8m-6-4h8m-1-16h8m-3 44h8m-1-83h8m-7 54h8m-3 54h8m8-39h8m-1-62h8m-7 17h8" stroke="#d80000" stroke-width="8" fill="none"/>
<g filter="url(#b1)" fill="#f60000"><path d="M103.5 71 Q103.6 64 112 63.3 L143 62.9 Q148.2 63.4 148.3 68.5 L148 72 Q147.4 76 142 76.6 L134 77.4 Q130.6 78.2 129.6 81.6 L127 83.4 L110 82.8 Q104 81 103.6 75 Z"/></g>
<path transform="scale(.1)" d="m1016 664h8m-8 57h8m-7 10h8m-7-70h8m-7 183h8m-5-119h8m-7-20h8m-7-22h8m-7 18h8m-7 53h8m-5-94h8m-3 30h8m-7-17h8m-7 25h8m-3 39h8m-6 18h8m-7 12h8m-7-75h8m-8 55h8m-6 59h8m-7-129h8m-7 4h8m-7 15h8m-8 38h8m-8 29h8m-8 9h8m-3-60h8m-2-28h8m-8 30h8m-7-23h8m-8 3h8m-7-8h8m-8 43h8m-8 4h8m-7 13h8m-6-29h8m-7-81h8m-8 110h8m-8 52h8m-7-41h8m-7-46h8m-7-16h8m-7 25h8m-8 88h8m-5 9h8m-7-136h8m-7-32h8m-8 89h8m-8 89h8m-6-158h8m-8 29h8m-8 4h8m-7-16h8m-7 29h8m-8 23h8m-7-5h8m-8 29h8m-7-49h8m-7-33h8m-7 71h8m-8 13h8m-7-101h8m-8 112h8m-7 26h8m-6-5h8m-7-104h8m-8 4h8m-6 16h8m-8 1h8m-7 13h8m-7-30h8m-7 5h8m-8 19h8m-8 3h8m-8 7h8m-7 11h8m-8 12h8m-7-17h8m-7 1h8m-8 2h8m-7-32h8m-8 53h8m-8 61h8m-7-169h8m-8 26h8m-8 42h8m-8 90h8m-7-95h8m-8 7h8m-8 1h8m-8 35h8m-7-86h8m-8 32h8m-8 29h8m-8 85h8m-7-157h8m-8 19h8m-8 72h8m-7-65h8m-8 17h8m-8 53h8m-8 1h8m-6-29h8m-7-33h8m-8 23h8m-7-42h8m-8 15h8m-8 16h8m-7-30h8m-8 55h8m-8 4h8m-8 20h8m-8 15h8m-7-66h8m-8 4h8m-8 8h8m-8 62h8m-8 17h8m-7-116h8m-8 20h8m-8 10h8m-8 23h8m-7-61h8m-8 18h8m-8 54h8m-8 12h8m-8 7h8m-8 0h8m-8 15h8m-7 8h8m-7-110h8m-8 11h8m-8 69h8m-7-57h8m-8 1h8m-8 10h8m-8 2h8m-8 5h8m-8 52h8m-8 35h8m-8 5h8m-7-100h8m-8 46h8m-7 0h8m-7-77h8m-8 5h8m-8 28h8m-8 2h8m-8 25h8m-8 19h8m-7-110h8m-8 66h8m-8 5h8m-8 68h8m-7-158h8m-8 43h8m-8 24h8m-8 7h8m-8 31h8m-8 21h8m-8 1h8m-8 6h8m-7-87h8m-8 1h8m-8 17h8m-8 15h8m-8 10h8m-8 1h8m-8 23h8m-8 10h8m-8 23h8m-7-69h8m-8 9h8m-8 9h8m-8 60h8m-7-61h8m-8 39h8m-8 30h8m-7-101h8m-8 73h8m-7-41h8m-8 38h8m-8 47h8m-7-128h8m-8 40h8m-8 4h8m-8 69h8m-8 14h8m-7-155h8m-8 31h8m-8 21h8m-8 27h8m-8 38h8m-8 16h8m-8 20h8m-7-168h8m-8 32h8m-8 31h8m-8 10h8m-8 30h8m-8 0h8m-8 17h8m-7-50h8m-8 3h8m-8 102h8m-7-90h8m-8 2h8m-8 24h8m-8 8h8m-8 5h8m-7-125h8m-8 45h8m-8 47h8m-8 44h8m-8 30h8m-7-127h8m-8 11h8m-8 9h8m-8 2h8m-8 23h8m-7-70h8m-8 32h8m-8 68h8m-8 36h8m-7-106h8m-8 19h8m-8 14h8m-8 3h8m-8 41h8m-7-66h8m-8 38h8m-8 2h8m-8 1h8m-8 21h8m-8 42h8m-8 15h8m-7-163h8m-8 135h8m-7-67h8m-8 18h8m-7-84h8m-8 36h8m-8 10h8m-8 6h8m-8 16h8m-8 20h8m-8 3h8m-8 21h8m-8 4h8m-8 13h8m-8 5h8m-7-144h8m-8 52h8m-8 2h8m-8 14h8m-8 17h8m-8 6h8m-8 5h8m-8 18h8m-8 3h8m-8 3h8m-8 9h8m-8 17h8m-8 39h8m-8 11h8m-7-159h8m-8 0h8m-8 12h8m-8 16h8m-8 17h8m-8 46h8m-8 6h8m-7-117h8m-8 25h8m-8 9h8m-8 149h8m-7-151h8m-8 51h8m-8 24h8m-8 22h8m-7-119h8m-8 2h8m-8 17h8m-8 8h8m-8 11h8m-8 11h8m-8 12h8m-8 33h8m-8 19h8m-7-90h8m-8 24h8m-8 10h8m-8 5h8m-8 2h8m-8 2h8m-8 2h8m-8 15h8m-8 21h8m-8 4h8m-8 55h8m-7-155h8m-8 132h8m-7-123h8m-8 30h8m-8 12h8m-8 58h8m-8 62h8m-7-162h8m-8 14h8m-8 0h8m-8 13h8m-8 2h8m-8 28h8m-8 14h8m-8 3h8m-7-31h8m-8 84h8m-8 9h8m-7-156h8m-8 12h8m-8 0h8m-8 12h8m-8 38h8m-8 1h8m-8 3h8m-8 52h8m-7-119h8m-8 16h8m-8 10h8m-8 12h8m-8 8h8m-8 3h8m-8 15h8m-8 12h8m-8 4h8m-8 4h8m-8 2h8m-8 56h8m-7-133h8m-8 4h8m-8 5h8m-8 5h8m-8 25h8m-8 0h8m-8 30h8m-7-69h8m-8 5h8m-8 26h8m-8 38h8m-8 35h8m-8 13h8m-8 39h8m-7-160h8m-8 44h8m-8 0h8m-8 3h8m-8 35h8m-8 26h8m-7-102h8m-8 15h8m-8 2h8m-8 16h8m-8 6h8m-8 63h8m-8 5h8m-8 19h8m-7-139h8m-8 13h8m-8 14h8m-8 37h8m-8 23h8m-8 56h8m-8 24h8m-7-128h8m-8 5h8m-8 2h8m-8 0h8m-8 17h8m-8 3h8m-8 20h8m-8 21h8m-8 0h8m-8 5h8m-8 44h8m-7-152h8m-8 13h8m-8 17h8m-8 12h8m-8 19h8m-8 13h8m-8 2h8m-8 21h8m-8 17h8m-8 1h8m-8 4h8m-8 4h8m-8 37h8m-8 14h8m-7-182h8m-8 2h8m-8 1h8m-8 75h8m-8 10h8m-8 60h8m-8 9h8m-7-110h8m-8 30h8m-7-66h8m-8 59h8m-8 28h8m-8 76h8m-7-156h8m-8 49h8m-8 62h8m-7-136h8m-8 54h8m-8 22h8m-8 56h8m-8 19h8m-8 8h8m-8 1h8m-7-146h8m-8 1h8m-8 35h8m-8 14h8m-8 1h8m-8 17h8m-8 10h8m-8 19h8m-8 10h8m-8 10h8m-8 30h8m-7-119h8m-8 30h8m-8 7h8m-8 24h8m-8 6h8m-8 14h8m-8 14h8m-7-59h8m-8 50h8m-8 73h8m-7-204h8m-8 33h8m-8 15h8m-8 14h8m-8 4h8m-8 6h8m-8 3h8m-8 15h8m-8 17h8m-8 10h8m-8 66h8m-8 10h8m-7-144h8m-8 34h8m-8 5h8m-8 21h8m-8 40h8m-7-137h8m-8 7h8m-8 30h8m-8 41h8m-8 15h8m-8 9h8m-7-85h8m-8 24h8m-8 13h8m-8 18h8m-7-50h8m-8 3h8m-8 94h8m-7-137h8m-8 30h8m-8 5h8m-8 62h8m-8 0h8m-8 13h8m-8 36h8m-7-129h8m-8 16h8m-8 12h8m-8 16h8m-8 2h8m-8 40h8m-7-78h8m-8 6h8m-8 33h8m-8 13h8m-8 15h8m-8 17h8m-8 6h8m-8 12h8m-7-99h8m-8 36h8m-8 4h8m-8 18h8m-8 7h8m-8 53h8m-8 10h8m-7-126h8m-8 2h8m-8 17h8m-8 36h8m-8 35h8m-8 29h8m-7-107h8m-8 16h8m-8 8h8m-8 3h8m-8 1h8m-8 6h8m-8 2h8m-8 17h8m-8 18h8m-8 21h8m-8 9h8m-7-84h8m-8 10h8m-8 39h8m-8 6h8m-8 3h8m-8 20h8m-8 29h8m-7-89h8m-8 15h8m-8 39h8m-8 33h8m-7-91h8m-7-67h8m-8 14h8m-8 32h8m-8 48h8m-8 51h8m-7-129h8m-8 28h8m-8 62h8m-8 0h8m-8 14h8m-8 2h8m-7-60h8m-8 1h8m-8 5h8m-8 0h8m-8 9h8m-8 73h8m-7-159h8m-8 32h8m-8 51h8m-8 7h8m-8 68h8m-7-136h8m-8 21h8m-8 28h8m-8 52h8m-7-130h8m-8 26h8m-8 32h8m-8 15h8m-8 2h8m-8 5h8m-8 1h8m-8 7h8m-8 24h8m-8 9h8m-8 5h8m-7-132h8m-8 36h8m-8 19h8m-8 46h8m-8 0h8m-8 16h8m-7-69h8m-8 52h8m-8 0h8m-8 33h8m-8 32h8m-7-92h8m-8 29h8m-8 29h8m-8 5h8m-7-82h8m-8 26h8m-8 7h8m-8 1h8m-8 10h8m-8 8h8m-8 2h8m-8 3h8m-8 11h8m-8 17h8m-8 6h8m-8 55h8m-7-137h8m-8 3h8m-8 48h8m-8 4h8m-8 19h8m-7-112h8m-8 30h8m-8 39h8m-8 8h8m-8 2h8m-8 1h8m-8 12h8m-8 14h8m-8 8h8m-8 9h8m-8 23h8m-8 9h8m-8 3h8m-7-132h8m-8 37h8m-8 3h8m-8 44h8m-8 27h8m-7-106h8m-8 69h8m-8 5h8m-7-93h8m-8 62h8m-8 1h8m-8 8h8m-8 0h8m-7-29h8m-8 28h8m-8 16h8m-8 15h8m-8 7h8m-8 37h8m-7-117h8m-8 38h8m-8 26h8m-8 12h8m-7-104h8m-8 83h8m-8 3h8m-8 8h8m-7-92h8m-8 24h8m-8 19h8m-8 35h8m-8 8h8m-7-77h8m-8 10h8m-8 51h8m-7-96h8m-8 3h8m-8 90h8m-8 13h8m-8 4h8m-7-127h8m-8 88h8m-8 103h8m-8 0h8m-7-141h8m-8 7h8m-8 12h8m-8 12h8m-8 2h8m-8 9h8m-8 26h8m-8 31h8m-7-125h8m-8 8h8m-8 50h8m-8 19h8m-8 32h8m-8 1h8m-8 1h8m-7-37h8m-8 2h8m-8 36h8m-8 12h8m-8 23h8m-7-109h8m-8 16h8m-8 20h8m-8 22h8m-8 32h8m-8 22h8m-7-120h8m-8 39h8m-8 28h8m-8 46h8m-7-120h8m-8 32h8m-8 15h8m-8 55h8m-7-103h8m-8 48h8m-8 13h8m-8 1h8m-8 9h8m-8 23h8m-7-78h8m-8 18h8m-8 9h8m-8 18h8m-7-7h8m-8 2h8m-7-73h8m-8 65h8m-8 5h8m-8 8h8m-8 40h8m-7-18h8m-8 38h8m-7-134h8m-8 88h8m-8 4h8m-7-51h8m-8 20h8m-8 10h8m-8 50h8m-7-15h8m-7-102h8m-8 12h8m-8 25h8m-8 1h8m-8 28h8m-8 8h8m-8 16h8m-8 9h8m-7-71h8m-8 12h8m-8 1h8m-8 81h8m-8 44h8m-7-111h8m-8 3h8m-8 46h8m-7-51h8m-8 9h8m-8 8h8m-8 1h8m-8 4h8m-8 15h8m-8 33h8m-8 10h8m-8 11h8m-7-192h8m-8 87h8m-8 7h8m-8 8h8m-8 41h8m-8 19h8m-8 0h8m-7-89h8m-8 62h8m-8 8h8m-7-66h8m-8 8h8m-7 14h8m-8 18h8m-7-35h8m-8 17h8m-8 43h8m-8 15h8m-7-111h8m-8 39h8m-8 27h8m-8 6h8m-8 4h8m-8 6h8m-8 20h8m-7-41h8m-8 30h8m-8 59h8m-7-99h8m-8 31h8m-8 23h8m-8 36h8m-8 4h8m-7-132h8m-8 10h8m-8 50h8m-8 11h8m-7-56h8m-7-40h8m-8 17h8m-8 20h8m-8 32h8m-8 18h8m-8 34h8m-8 34h8m-6-105h8m-8 55h8m-8 5h8m-7-61h8m-8 33h8m-8 8h8m-8 15h8m-8 5h8m-8 77h8m-7-154h8m-8 33h8m-8 53h8m-8 36h8m-7-63h8m-7-45h8m-8 45h8m-8 38h8m-7-53h8m-8 77h8m-7-86h8m-8 71h8m-8 69h8m-7-142h8m-8 15h8m-8 30h8m-7-95h8m-7-4h8m-8 117h8m-7-117h8m-8 53h8m-8 35h8m-7-61h8m-8 15h8m-8 27h8m-8 53h8m-8 20h8m-7-91h8m-8 90h8m-7-73h8m-8 21h8m-7-5h8m-7-56h8m-8 92h8m-7-122h8m-8 2h8m-8 69h8m-7-60h8m-8 125h8m-7-139h8m-8 24h8m-8 48h8m-8 56h8m-8 4h8m-8 1h8m-7-110h8m-7 6h8m-8 69h8m-8 5h8m-8 3h8m-8 7h8m-7-71h8m-8 69h8m-7-55h8m-6-93h8m-8 106h8m-8 57h8m-7-97h8m-8 55h8m-5 26h8m-7-110h8m-8 67h8m-8 46h8m-8 16h8m-7-130h8m-7-29h8m-5 96h8m-8 26h8m-8 33h8m-6-90h8m-8 40h8m-8 42h8m-7-107h8m-7-28h8m-8 116h8m-8 6h8m-7-75h8m-8 31h8m-6 105h8m-7-96h8m-8 16h8m-8 1h8m-8 34h8m-8 10h8m-6-84h8m-8 58h8m-7-77h8m-8 63h8m-7-32h8m-7-19h8m-1-1h8m-7 42h8m-6 47h8m-7-13h8m-4-57h8m-4 25h8m-4 26h8m-7-53h8m-7 47h8m-6-1h8m-7-56h8m-8 98h8m-5-16h8m-6-81h8m-8 39h8" stroke="#f20000" stroke-width="8" fill="none"/>
<path transform="scale(.1)" d="m1260 751h8m-3-80h8m-7 49h8m-2 17h8m-1-68h8m-8 76h8m-6-51h8m-8 22h8m-7 22h8m-6-71h8m-5 1h8m-7-23h8m-2-36h8m-8 65h8m-4 13h8m-4-56h8m-8 71h8m-6-21h8m-8 32h8m-5-22h8m-7 1h8m-7 23h8m-7-79h8m-8 51h8m-8 20h8m-8 28h8m-7-45h8m-8 11h8m-7-33h8m-8 33h8m-8 1h8m-8 51h8m-7-59h8m-7 36h8m-8 57h8m-7-92h8m-8 73h8m-7-123h8m-7-27h8m-8 90h8m-8 16h8m-8 11h8m-7-80h8m-8 135h8m-7-97h8m-8 41h8m-8 11h8m-7-110h8m-8 38h8m-7-34h8m-6 15h8m-8 20h8m-8 16h8m-8 54h8m-7-8h8m-7-96h8m-6 71h8m-7-39h8m-7-19h8m-8 29h8m-8 12h8m-8 23h8m-7-31h8m-8 34h8m-7-39h8m-8 3h8m-8 5h8m-8 13h8m-8 17h8m-7-5h8m-6-49h8m-8 31h8m-7-22h8m-8 24h8m-8 3h8m-8 8h8m-8 52h8m-7-30h8m-7-84h8m-8 55h8m-8 5h8m-8 5h8m-8 14h8m-7-107h8m-8 92h8m-8 25h8m-8 5h8m-7-43h8m-8 35h8m-8 9h8m-7-55h8m-8 44h8m-8 2h8m-7-61h8m-8 64h8m-8 14h8m-7-74h8m-7-2h8m-8 3h8m-8 33h8m-7-53h8m-8 4h8m-8 14h8m-8 3h8m-8 8h8m-8 4h8m-8 22h8m-8 2h8m-8 4h8m-8 6h8m-7-89h8m-8 42h8m-8 20h8m-8 3h8m-8 63h8m-7-134h8m-8 96h8m-7-94h8m-8 25h8m-8 32h8m-7 36h8m-8 21h8m-7-96h8m-8 60h8m-8 13h8m-8 27h8m-7-51h8m-7-7h8m-8 35h8m-8 4h8m-8 39h8m-7-65h8m-8 8h8m-7-7h8m-7-32h8m-8 19h8m-8 33h8m-8 9h8m-8 3h8m-7-65h8m-8 35h8m-8 21h8m-7-35h8m-8 60h8m-8 3h8m-8 6h8m-7-118h8m-8 8h8m-8 22h8m-8 24h8m-8 19h8m-8 5h8m-7-59h8m-7-19h8m-8 20h8m-8 34h8m-8 4h8m-8 7h8m-7-88h8m-8 97h8m-8 56h8m-7-102h8m-8 9h8m-8 13h8m-8 31h8m-8 20h8m-7-99h8m-8 26h8m-8 69h8m-7-89h8m-8 46h8m-8 4h8m-8 7h8m-8 16h8m-7-88h8m-8 34h8m-8 3h8m-8 27h8m-7-64h8m-8 16h8m-8 12h8m-8 48h8m-8 11h8m-8 8h8m-7-79h8m-7 6h8m-8 50h8m-8 37h8m-7-101h8m-8 52h8m-8 1h8m-8 6h8m-7-47h8m-8 10h8m-7-42h8m-8 86h8m-8 46h8m-7-94h8m-8 11h8m-8 19h8m-8 39h8m-8 2h8m-7-65h8m-8 35h8m-8 15h8m-8 5h8m-8 14h8m-7-96h8m-8 47h8m-7-43h8m-8 42h8m-8 5h8m-8 6h8m-8 29h8m-7-86h8m-8 5h8m-8 36h8m-8 19h8m-8 17h8m-8 5h8m-8 14h8m-7-104h8m-8 27h8m-8 19h8m-8 10h8m-8 2h8m-8 5h8m-7-19h8m-8 17h8m-8 32h8m-7-73h8m-8 24h8m-8 5h8m-8 38h8m-8 9h8m-7-73h8m-8 43h8m-8 33h8m-8 2h8m-7-67h8m-8 10h8m-8 24h8m-8 36h8m-8 16h8m-7-117h8m-8 54h8m-8 6h8m-8 11h8m-7-66h8m-8 11h8m-8 20h8m-8 1h8m-8 9h8m-8 15h8m-8 20h8m-8 18h8m-7-75h8m-8 12h8m-8 17h8m-8 3h8m-8 23h8m-8 7h8m-7-82h8m-8 1h8m-8 22h8m-8 15h8m-8 17h8m-8 3h8m-7-60h8m-8 26h8m-8 28h8m-8 4h8m-8 24h8m-8 1h8m-8 30h8m-7-125h8m-8 25h8m-8 8h8m-8 8h8m-8 38h8m-7-71h8m-8 26h8m-8 28h8m-8 8h8m-8 1h8m-8 1h8m-8 36h8m-7-85h8m-8 5h8m-8 49h8m-7-55h8m-8 8h8m-8 2h8m-8 4h8m-8 21h8m-8 15h8m-8 1h8m-8 1h8m-7-73h8m-8 27h8m-8 3h8m-8 16h8m-8 25h8m-8 5h8m-8 22h8m-8 12h8m-7-64h8m-8 2h8m-8 4h8m-8 0h8m-8 29h8m-7-32h8m-8 3h8m-8 25h8m-8 11h8m-8 3h8m-7-33h8m-7-53h8m-8 31h8m-8 50h8m-8 6h8m-7-38h8m-8 7h8m-8 5h8m-8 15h8m-8 1h8m-8 3h8m-8 8h8m-8 3h8m-7-95h8m-8 27h8m-8 25h8m-8 27h8m-7-38h8m-8 19h8m-8 10h8m-8 21h8m-8 10h8m-7-73h8m-7 1h8m-8 30h8m-8 2h8m-7-26h8m-8 3h8m-8 15h8m-8 4h8m-7-37h8m-8 19h8m-8 1h8m-8 19h8m-8 14h8m-8 3h8m-8 20h8m-7-78h8m-8 6h8m-8 3h8m-8 30h8m-8 2h8m-8 5h8m-8 3h8m-8 4h8m-8 18h8m-7-63h8m-8 36h8m-7-30h8m-7-32h8m-8 31h8m-8 51h8m-7 0h8m-8 20h8m-7-54h8m-8 46h8m-8 16h8m-7-55h8m-8 6h8m-8 10h8m-8 28h8m-8 2h8m-8 1h8m-8 9h8m-7-40h8m-7-36h8m-8 70h8m-7-4h8m-8 9h8m-7-54h8m-8 2h8m-8 7h8m-8 4h8m-8 1h8m-8 14h8m-8 17h8m-7-36h8m-8 2h8m-8 10h8m-8 7h8m-8 3h8m-8 12h8m-8 7h8m-8 13h8m-7-78h8m-8 19h8m-8 3h8m-8 12h8m-8 47h8m-7-112h8m-8 84h8m-7-77h8m-8 24h8m-8 5h8m-8 0h8m-8 46h8m-7-76h8m-8 53h8m-8 58h8m-7-143h8m-8 28h8m-8 73h8m-8 2h8m-7-55h8m-8 17h8m-8 24h8m-7-45h8m-8 65h8m-8 0h8m-8 15h8m-7-52h8m-8 14h8m-8 1h8m-8 36h8m-7-61h8m-8 2h8m-8 1h8m-8 13h8m-8 14h8m-8 10h8m-8 8h8m-7-69h8m-8 9h8m-8 21h8m-7 28h8m-7-65h8m-7 38h8m-8 21h8m-8 8h8m-8 10h8m-8 18h8m-7-84h8m-8 26h8m-8 11h8m-7-45h8m-8 19h8m-8 13h8m-8 32h8m-7-59h8m-8 11h8m-8 60h8m-8 14h8m-7-50h8m-8 5h8m-8 34h8m-6-67h8m-8 2h8m-8 7h8m-8 21h8m-8 32h8m-8 7h8m-7-62h8m-8 24h8m-8 0h8m-8 40h8m-7-50h8m-8 12h8m-8 67h8m-7-66h8m-8 20h8m-7-90h8m-7-6h8m-8 85h8m-8 24h8m-7-37h8m-8 51h8m-7-30h8m-8 3h8m-7-5h8m-8 17h8m-6-2h8m-7-52h8m-8 24h8m-8 7h8m-8 1h8m-7-63h8m-8 77h8m-8 5h8m-7-59h8m-8 19h8m-8 16h8m-8 7h8m-8 5h8m-8 7h8m-7-45h8m-8 7h8m-7 31h8m-8 17h8m-8 13h8m-7-58h8m-7-9h8m-7 32h8m-8 29h8m-7-37h8m-8 52h8m-7-66h8m-8 25h8m-7 1h8m-7-36h8m-8 27h8m-8 23h8m-8 22h8m-6-13h8m-7 1h8m-7-86h8m-8 7h8m-8 32h8m-8 82h8m-7-125h8m-8 54h8m-8 43h8m-7-89h8m-8 41h8m-7-20h8m-8 11h8m-8 9h8m-7-9h8m-8 40h8m-5-72h8m-8 98h8m-6-101h8m-7 6h8m-7 84h8m-7-39h8m-5 3h8m-7-5h8m-7 22h8m-7-49h8m-4-35h8m-6 87h8m-8 1h8m-8 0h8m-5-70h8m-5 19h8m-8 103h8m-6-89h8m-6-18h8m-7 62h8m-7 13h8m-6-72h8m-4 41h8m-2-14h8m-5-27h8m-8 3h8" stroke="#f20000" stroke-width="8" fill="none"/>
<rect x="98.25" y="29.4" width="80.5" height="84.69999999999999" fill="none" stroke="#3c3c3c" stroke-width="0.85"/>
<line x1="130.75" y1="29.4" x2="130.75" y2="114.1" stroke="#444" stroke-width="0.8"/>
<line x1="98.25" y1="82" x2="178.75" y2="82" stroke="#444" stroke-width="0.8"/>
<path d="M95.0 37.5h3.3M95.0 56.6h3.3M95.0 75.7h3.3M95.0 94.8h3.3M96.3 50.9h1.9M96.3 47.5h1.9M96.3 45.1h1.9M96.3 43.2h1.9M96.3 41.7h1.9M96.3 40.5h1.9M96.3 39.4h1.9M96.3 38.4h1.9M96.3 70.0h1.9M96.3 66.6h1.9M96.3 64.2h1.9M96.3 62.3h1.9M96.3 60.8h1.9M96.3 59.6h1.9M96.3 58.5h1.9M96.3 57.5h1.9M96.3 89.1h1.9M96.3 85.7h1.9M96.3 83.3h1.9M96.3 81.4h1.9M96.3 79.9h1.9M96.3 78.7h1.9M96.3 77.6h1.9M96.3 76.6h1.9M96.3 102.4h1.9M96.3 100.5h1.9M96.3 99.0h1.9M96.3 97.8h1.9M96.3 96.7h1.9M96.3 95.7h1.9M96.3 100.0h1.9M96.3 102.1h1.9M96.3 104.2h1.9M96.3 106.3h1.9M96.3 108.4h1.9M96.3 110.5h1.9M96.3 112.6h1.9" stroke="#222" stroke-width="0.7" fill="none"/>
<text x="93.0" y="40.1" font-size="4.6" fill="#111" font-weight="bold" transform="rotate(-90 93.0 40.1)">10<tspan dy="-1.6" font-size="3">5</tspan></text>
<text x="93.0" y="59.2" font-size="4.6" fill="#111" font-weight="bold" transform="rotate(-90 93.0 59.2)">10<tspan dy="-1.6" font-size="3">4</tspan></text>
<text x="93.0" y="78.3" font-size="4.6" fill="#111" font-weight="bold" transform="rotate(-90 93.0 78.3)">10<tspan dy="-1.6" font-size="3">3</tspan></text>
<text x="93.0" y="97.4" font-size="4.6" fill="#111" font-weight="bold" transform="rotate(-90 93.0 97.4)">10<tspan dy="-1.6" font-size="3">2</tspan></text>
<rect x="89.2" y="103.5" width="4.4" height="1.5" fill="#111"/>
<text x="92.0" y="113.6" font-size="3.6" fill="#333" font-weight="bold" transform="rotate(-90 92.0 113.6)">-155</text>
<path d="M115.2 114.1v3.3M130.9 114.1v3.3M151.6 114.1v3.3M172.3 114.1v3.3M137.2 114.1v1.9M140.8 114.1v1.9M143.4 114.1v1.9M145.4 114.1v1.9M147.1 114.1v1.9M148.4 114.1v1.9M149.6 114.1v1.9M150.7 114.1v1.9M157.9 114.1v1.9M161.5 114.1v1.9M164.1 114.1v1.9M166.1 114.1v1.9M167.8 114.1v1.9M169.1 114.1v1.9M170.3 114.1v1.9M171.4 114.1v1.9M102.0 114.1v1.9M103.8 114.1v1.9M105.8 114.1v1.9M107.7 114.1v1.9M109.5 114.1v1.9M111.5 114.1v1.9M113.3 114.1v1.9M117.2 114.1v1.9M119.0 114.1v1.9M121.0 114.1v1.9M122.8 114.1v1.9M124.8 114.1v1.9M126.7 114.1v1.9M128.6 114.1v1.9" stroke="#222" stroke-width="0.7" fill="none"/>
<text x="115.2" y="121.5" font-size="4.6" fill="#111" text-anchor="middle" font-weight="bold">0</text>
<text x="131.2" y="121.7" font-size="4.6" fill="#111" text-anchor="middle" font-weight="bold">10<tspan dy="-1.6" font-size="3">3</tspan></text>
<text x="151.9" y="121.7" font-size="4.6" fill="#111" text-anchor="middle" font-weight="bold">10<tspan dy="-1.6" font-size="3">4</tspan></text>
<text x="172.7" y="121.7" font-size="4.6" fill="#111" text-anchor="middle" font-weight="bold">10<tspan dy="-1.6" font-size="3">5</tspan></text>
<text x="100.8" y="125.7" font-size="4" fill="#222" text-anchor="middle" font-weight="bold">-1,248</text>
<text x="103" y="46.8" font-size="18" text-anchor="start" font-weight="bold" fill="#000" stroke="#000" stroke-width="0.22">A</text>
<text x="136" y="41.7" font-size="11" text-anchor="start" fill="#111" stroke="#111" stroke-width="0.22">CXCR4</text>
<text x="154.79999999999998" y="73.39999999999999" font-size="8.7" text-anchor="start" fill="#333" stroke="#333" stroke-width="0.22">97 %</text>
<g filter="url(#b2)" fill="#04030c"><path d="M209.5 66.5 Q209 65 212 65.2 L250 65 Q253.6 65.4 253.4 70 L253 76 Q252.5 79 248 79.2 L238 79.6 Q235.5 80 235 82.6 L212.5 82.6 Q209.4 80 209.4 75 Z"/><path d="M212.6 83 L234.4 83 L234.6 96 Q234 105 225 106.6 Q214 106.8 212.8 98 Z"/></g>
<path transform="scale(.1)" d="m2051 647h8m-7 157h8m-6-53h8m-6 24h8m5-43h8m-4 41h8m-5 22h8m-4-74h8m-6 5h8m-8 88h8m-6-129h8m-8 83h8m-6-38h8m-5 4h8m-7-53h8m-8 106h8m-7-24h8m-5-108h8m-7 78h8m-8 16h8m-7-80h8m-6 83h8m-7 26h8m-7-62h8m-7-33h8m-7 112h8m-7-96h8m-8 14h8m-8 109h8m-7-68h8m-8 6h8m-6 8h8m-7 42h8m-7-138h8m-8 97h8m-8 8h8m-7-40h8m-8 16h8m-7-16h8m-8 24h8m-7-38h8m-7-19h8m-8 8h8m-8 35h8m-8 62h8m-7-43h8m-7 1h8m-7-87h8m-8 48h8m-7 28h8m-8 12h8m-7-49h8m-8 35h8m-8 44h8m-7-116h8m-8 33h8m-7-18h8m-8 68h8m-7-47h8m-8 36h8m-7-54h8m-8 9h8m-8 19h8m-8 52h8m-7-4h8m-7-41h8m-8 41h8m-7-40h8m-8 3h8m-8 21h8m-7-77h8m-7 28h8m-8 59h8m-6-112h8m-8 52h8m-8 57h8m-7-39h8m-8 18h8m-7-65h8m-8 106h8m-7-109h8m-8 56h8m-7-20h8m-8 14h8m-8 49h8m-8 4h8m-7-43h8m-7-63h8m-8 66h8m-8 1h8m-8 82h8m-7-126h8m-8 46h8m-7 17h8m-7-112h8m-8 47h8m-8 12h8m-8 31h8m-7-29h8m-8 13h8m-8 26h8m-8 30h8m-8 82h8m-7-208h8m-8 56h8m-8 56h8m-8 11h8m-7 1h8m-7-84h8m-8 36h8m-8 2h8m-8 36h8m-7-129h8m-8 54h8m-8 10h8m-8 14h8m-8 40h8m-8 102h8m-7-83h8m-8 7h8m-7-71h8m-8 17h8m-8 56h8m-8 7h8m-7-83h8m-8 13h8m-8 32h8m-8 84h8m-7-171h8m-8 27h8m-8 55h8m-8 8h8m-8 14h8m-7-82h8m-8 14h8m-8 9h8m-8 0h8m-8 32h8m-8 34h8m-7-120h8m-8 41h8m-8 21h8m-8 21h8m-8 23h8m-7-2h8m-8 17h8m-8 38h8m-7-108h8m-8 5h8m-8 18h8m-8 3h8m-8 20h8m-8 22h8m-7-56h8m-8 5h8m-8 45h8m-8 26h8m-8 30h8m-7-145h8m-8 22h8m-8 4h8m-8 1h8m-8 7h8m-7 7h8m-8 5h8m-8 11h8m-7-8h8m-8 32h8m-8 4h8m-8 36h8m-7-87h8m-8 19h8m-8 43h8m-8 3h8m-7-111h8m-8 39h8m-8 9h8m-8 26h8m-8 15h8m-7-85h8m-8 69h8m-8 8h8m-8 33h8m-8 6h8m-7-156h8m-8 38h8m-8 15h8m-7-6h8m-8 63h8m-8 13h8m-7 30h8m-8 17h8m-7-69h8m-8 3h8m-8 29h8m-8 3h8m-7-64h8m-8 2h8m-8 34h8m-8 8h8m-8 21h8m-8 4h8m-8 8h8m-7-57h8m-8 16h8m-7-78h8m-8 93h8m-8 2h8m-8 2h8m-7-65h8m-8 39h8m-8 13h8m-8 60h8m-7-105h8m-8 14h8m-8 1h8m-8 9h8m-8 3h8m-8 5h8m-8 14h8m-8 3h8m-8 1h8m-8 16h8m-8 19h8m-8 50h8m-7-84h8m-8 4h8m-8 23h8m-8 15h8m-7-129h8m-8 8h8m-8 11h8m-8 1h8m-8 3h8m-8 37h8m-8 30h8m-8 16h8m-8 6h8m-7-118h8m-8 21h8m-8 33h8m-8 1h8m-8 0h8m-8 48h8m-8 14h8m-7-80h8m-8 13h8m-8 11h8m-8 25h8m-8 32h8m-8 30h8m-7-139h8m-8 29h8m-8 38h8m-8 9h8m-8 25h8m-8 8h8m-8 7h8m-8 6h8m-8 39h8m-7-142h8m-8 22h8m-8 16h8m-8 13h8m-8 7h8m-8 24h8m-8 15h8m-8 1h8m-8 4h8m-7-139h8m-8 71h8m-8 8h8m-8 8h8m-8 17h8m-8 9h8m-8 20h8m-8 6h8m-7-61h8m-8 2h8m-8 26h8m-8 7h8m-8 3h8m-8 9h8m-8 15h8m-7-71h8m-8 8h8m-8 19h8m-8 20h8m-8 1h8m-7-91h8m-8 31h8m-8 2h8m-8 23h8m-8 11h8m-8 1h8m-8 44h8m-8 7h8m-7-111h8m-8 4h8m-8 55h8m-8 8h8m-8 11h8m-8 7h8m-8 8h8m-8 5h8m-8 7h8m-8 0h8m-7-177h8m-8 98h8m-8 10h8m-8 1h8m-8 12h8m-8 44h8m-7-51h8m-8 11h8m-8 8h8m-8 33h8m-8 5h8m-8 13h8m-8 7h8m-7-148h8m-8 49h8m-8 17h8m-8 5h8m-8 9h8m-8 41h8m-8 7h8m-7-65h8m-8 6h8m-8 4h8m-8 17h8m-8 5h8m-8 15h8m-8 21h8m-8 47h8m-7-131h8m-8 21h8m-8 6h8m-8 3h8m-8 8h8m-8 2h8m-7-86h8m-8 3h8m-8 73h8m-8 5h8m-8 85h8m-7-153h8m-8 42h8m-8 41h8m-8 8h8m-8 15h8m-8 21h8m-7-189h8m-8 87h8m-8 34h8m-8 4h8m-8 13h8m-8 15h8m-8 6h8m-8 17h8m-7-124h8m-8 70h8m-8 5h8m-8 5h8m-8 2h8m-8 7h8m-8 13h8m-7-120h8m-8 39h8m-8 16h8m-8 13h8m-8 38h8m-8 5h8m-7-107h8m-8 2h8m-8 53h8m-8 12h8m-8 7h8m-8 15h8m-8 0h8m-8 13h8m-8 3h8m-8 6h8m-8 5h8m-8 1h8m-8 23h8m-7-97h8m-8 20h8m-8 33h8m-8 2h8m-8 38h8m-7-63h8m-8 10h8m-8 21h8m-8 8h8m-8 24h8m-8 9h8m-8 14h8m-7-130h8m-8 24h8m-8 22h8m-8 4h8m-8 1h8m-8 17h8m-8 19h8m-8 51h8m-8 11h8m-8 7h8m-7-179h8m-8 34h8m-8 11h8m-8 33h8m-8 18h8m-8 30h8m-8 11h8m-8 9h8m-7-154h8m-8 56h8m-8 7h8m-8 6h8m-8 11h8m-8 2h8m-8 28h8m-8 83h8m-7-170h8m-8 28h8m-8 0h8m-8 9h8m-8 3h8m-8 12h8m-8 10h8m-8 8h8m-8 22h8m-8 5h8m-8 10h8m-7-118h8m-8 22h8m-8 9h8m-8 6h8m-8 29h8m-8 33h8m-8 10h8m-8 9h8m-8 8h8m-8 3h8m-8 32h8m-8 39h8m-7-212h8m-8 41h8m-8 8h8m-8 2h8m-8 2h8m-8 26h8m-8 14h8m-8 23h8m-7-117h8m-8 45h8m-8 0h8m-8 40h8m-8 16h8m-8 18h8m-8 9h8m-8 17h8m-7-82h8m-8 14h8m-8 1h8m-8 6h8m-8 2h8m-8 10h8m-8 5h8m-8 35h8m-8 22h8m-8 27h8m-7-136h8m-8 7h8m-8 1h8m-8 8h8m-8 0h8m-8 17h8m-8 12h8m-8 12h8m-8 30h8m-8 1h8m-8 11h8m-8 23h8m-7-156h8m-8 27h8m-8 18h8m-8 4h8m-8 5h8m-8 34h8m-8 37h8m-8 42h8m-8 38h8m-7-201h8m-8 31h8m-8 18h8m-8 4h8m-8 7h8m-8 25h8m-8 2h8m-8 1h8m-7-69h8m-8 4h8m-8 25h8m-8 5h8m-8 1h8m-8 2h8m-8 7h8m-8 0h8m-8 35h8m-8 8h8m-8 13h8m-8 7h8m-7-125h8m-8 22h8m-8 12h8m-8 17h8m-8 14h8m-8 30h8m-8 5h8m-8 2h8m-8 4h8m-8 15h8m-8 4h8m-8 16h8m-8 4h8m-7-93h8m-8 0h8m-8 32h8m-8 6h8m-8 28h8m-8 12h8m-8 35h8m-7-139h8m-8 0h8m-8 4h8m-8 2h8m-8 23h8m-8 23h8m-8 1h8m-8 0h8m-8 9h8m-8 0h8m-8 2h8m-8 2h8m-8 1h8m-8 24h8m-8 5h8m-8 5h8m-8 3h8m-7-115h8m-8 26h8m-8 10h8m-8 4h8m-8 8h8m-8 2h8m-8 18h8m-8 36h8m-8 15h8m-7-123h8m-8 25h8m-8 9h8m-8 11h8m-8 45h8m-8 10h8m-8 4h8m-8 28h8m-7-109h8m-8 7h8m-8 9h8m-8 8h8m-8 4h8m-8 14h8m-8 15h8m-8 3h8m-8 0h8m-8 10h8m-8 6h8m-7-66h8m-8 2h8m-8 6h8m-8 7h8m-8 1h8m-8 7h8m-8 9h8m-8 8h8m-8 2h8m-8 32h8m-8 1h8m-8 15h8m-8 8h8m-8 24h8m-7-149h8m-8 64h8m-8 13h8m-8 0h8m-8 48h8m-7-132h8m-8 3h8m-8 1h8m-8 8h8m-8 23h8m-8 6h8m-8 15h8m-8 6h8m-8 13h8m-8 32h8m-8 8h8m-8 11h8m-8 15h8m-7-134h8m-8 19h8m-8 24h8m-8 9h8m-8 6h8m-8 8h8m-8 6h8m-8 1h8m-8 2h8m-8 14h8m-8 1h8m-8 59h8m-7-165h8m-8 36h8m-8 17h8m-8 16h8m-8 12h8m-8 14h8m-8 6h8m-8 1h8m-8 25h8m-8 8h8m-7-166h8m-8 33h8m-8 18h8m-8 54h8m-8 12h8m-8 11h8m-8 3h8m-8 23h8m-8 28h8m-7-127h8m-8 26h8m-8 27h8m-8 22h8m-8 3h8m-8 12h8m-8 29h8m-7-130h8m-8 34h8m-8 7h8m-8 13h8m-8 2h8m-8 3h8m-8 22h8m-8 3h8m-8 13h8m-8 5h8m-8 8h8m-7-100h8m-8 10h8m-8 3h8m-8 5h8m-8 4h8m-8 31h8m-8 26h8m-8 71h8m-7-151h8m-8 19h8m-8 55h8m-8 37h8m-8 5h8m-7-107h8m-8 20h8m-8 7h8m-8 9h8m-8 11h8m-8 3h8m-8 3h8m-8 4h8m-8 5h8m-7-69h8m-8 43h8m-8 4h8m-8 4h8m-8 4h8m-8 2h8m-8 4h8m-8 3h8m-8 4h8m-8 14h8m-7-109h8m-8 74h8m-8 23h8m-8 14h8m-8 5h8m-8 0h8m-8 27h8m-7-121h8m-8 2h8m-8 7h8m-8 11h8m-8 35h8m-8 12h8m-8 13h8m-8 17h8m-8 4h8m-8 2h8m-8 23h8m-7-115h8m-8 15h8m-8 13h8m-8 21h8m-8 8h8m-8 10h8m-8 1h8m-8 10h8m-8 11h8m-8 38h8m-7-135h8m-8 21h8m-8 49h8m-8 17h8m-8 23h8m-8 5h8m-8 22h8m-7-154h8m-8 30h8m-8 6h8m-8 24h8m-8 9h8m-8 2h8m-8 3h8m-8 10h8m-8 0h8m-8 14h8m-8 3h8m-8 1h8m-8 3h8m-8 34h8m-8 12h8m-7-130h8m-8 5h8m-8 5h8m-8 22h8m-8 18h8m-8 20h8m-8 12h8m-7-125h8m-8 39h8m-8 16h8m-8 6h8m-8 34h8m-8 22h8m-8 3h8m-8 15h8m-8 5h8m-8 20h8m-7-125h8m-8 24h8m-8 6h8m-8 43h8m-8 8h8m-8 20h8m-7-93h8m-8 7h8m-8 19h8m-8 0h8m-8 25h8m-8 7h8m-8 50h8m-7-124h8m-8 18h8m-8 3h8m-8 21h8m-8 24h8m-8 8h8m-8 4h8m-8 14h8m-8 2h8m-8 17h8m-8 5h8m-8 62h8m-7-160h8m-8 18h8m-8 21h8m-8 7h8m-8 0h8m-8 42h8m-8 10h8m-8 41h8m-7-159h8m-8 3h8m-8 55h8m-8 53h8m-8 26h8m-7-113h8m-8 1h8m-8 12h8m-8 13h8m-8 3h8m-8 2h8m-8 12h8m-8 14h8m-8 4h8m-8 11h8m-8 1h8m-8 26h8m-7-113h8m-8 24h8m-8 1h8m-8 17h8m-8 6h8m-8 2h8m-8 64h8m-7-153h8m-8 74h8m-8 26h8m-8 1h8m-8 31h8m-8 16h8m-8 25h8m-7-143h8m-8 52h8m-8 14h8m-8 3h8m-8 19h8m-8 30h8m-8 36h8m-7-134h8m-8 19h8m-8 24h8m-8 27h8m-8 22h8m-8 11h8m-7-140h8m-8 40h8m-8 32h8m-8 12h8m-8 25h8m-8 21h8m-8 20h8m-7-120h8m-8 13h8m-8 9h8m-8 11h8m-8 7h8m-8 1h8m-8 14h8m-8 18h8m-8 2h8m-8 16h8m-8 3h8m-7-64h8m-8 11h8m-8 26h8m-8 5h8m-8 4h8m-8 15h8m-8 8h8m-8 1h8m-7-116h8m-8 27h8m-8 1h8m-8 22h8m-8 24h8m-8 0h8m-8 25h8m-8 12h8m-8 28h8m-8 9h8m-8 26h8m-7-159h8m-8 21h8m-8 5h8m-8 11h8m-8 11h8m-8 11h8m-8 9h8m-8 5h8m-8 3h8m-8 0h8m-8 0h8m-8 18h8m-8 8h8m-7-142h8m-8 38h8m-8 5h8m-8 8h8m-8 16h8m-8 6h8m-8 5h8m-8 2h8m-8 11h8m-8 75h8m-8 13h8m-7-111h8m-8 25h8m-8 1h8m-8 5h8m-8 34h8m-7-73h8m-8 1h8m-8 29h8m-8 46h8m-8 2h8m-8 4h8m-8 4h8m-8 1h8m-7-129h8m-8 35h8m-8 13h8m-8 16h8m-8 17h8m-8 11h8m-8 16h8m-8 33h8m-7-149h8m-8 63h8m-8 8h8m-8 5h8m-8 3h8m-8 2h8m-8 42h8m-7-97h8m-8 44h8m-8 1h8m-8 17h8m-8 3h8m-8 34h8m-8 85h8m-7-241h8m-8 66h8m-8 48h8m-8 8h8m-8 55h8m-7-139h8m-8 50h8m-8 8h8m-8 76h8m-7-146h8m-8 38h8m-8 8h8m-8 8h8m-8 23h8m-8 13h8m-8 2h8m-8 40h8m-7-92h8m-8 51h8m-8 20h8m-7-91h8m-8 44h8m-8 14h8m-8 5h8m-8 16h8m-8 1h8m-8 33h8m-8 59h8m-7-135h8m-8 9h8m-8 3h8m-8 2h8m-8 8h8m-8 27h8m-8 34h8m-7-102h8m-8 16h8m-8 3h8m-8 6h8m-8 4h8m-8 16h8m-8 18h8m-8 6h8m-8 15h8m-8 8h8m-7-78h8m-8 1h8m-8 9h8m-8 6h8m-8 6h8m-8 18h8m-8 13h8m-8 12h8m-7-83h8m-8 24h8m-8 7h8m-8 9h8m-8 6h8m-8 2h8m-8 11h8m-8 21h8m-8 2h8m-8 78h8m-7-187h8m-8 10h8m-8 17h8m-8 5h8m-8 27h8m-8 16h8m-8 8h8m-8 16h8m-8 37h8m-8 1h8m-8 4h8m-8 7h8m-8 11h8m-7-165h8m-8 29h8m-8 26h8m-8 7h8m-8 1h8m-8 0h8m-8 3h8m-8 6h8m-8 32h8m-8 54h8m-8 0h8m-7-110h8m-8 30h8m-8 26h8m-8 7h8m-8 1h8m-8 28h8m-7-160h8m-8 8h8m-8 49h8m-8 22h8m-8 9h8m-8 7h8m-8 16h8m-7-58h8m-8 55h8m-8 27h8m-8 2h8m-8 16h8m-8 17h8m-7-92h8m-8 7h8m-8 10h8m-8 4h8m-8 34h8m-7-64h8m-8 10h8m-8 65h8m-7-93h8m-8 5h8m-8 19h8m-8 5h8m-8 6h8m-8 31h8m-8 5h8m-8 52h8m-7-116h8m-8 29h8m-8 15h8m-8 4h8m-8 5h8m-8 28h8m-8 15h8m-8 36h8m-7-98h8m-8 5h8m-8 3h8m-8 24h8m-7-25h8m-8 22h8m-8 13h8m-8 21h8m-8 14h8m-7-87h8m-8 23h8m-8 2h8m-8 9h8m-8 7h8m-8 14h8m-8 2h8m-8 9h8m-8 3h8m-8 38h8m-7-169h8m-8 20h8m-8 59h8m-8 6h8m-8 2h8m-7-105h8m-8 82h8m-8 14h8m-7 17h8m-8 32h8m-7-65h8m-8 66h8m-7-81h8m-8 23h8m-8 18h8m-8 13h8m-8 17h8m-8 20h8m-8 9h8m-8 26h8m-7-140h8m-8 60h8m-8 21h8m-8 11h8m-8 1h8m-8 6h8m-7-76h8m-8 70h8m-7-58h8m-8 2h8m-8 23h8m-8 1h8m-8 9h8m-8 17h8m-8 1h8m-7-126h8m-8 14h8m-8 40h8m-8 11h8m-8 98h8m-7-157h8m-8 39h8m-8 29h8m-8 14h8m-8 7h8m-8 4h8m-8 28h8m-8 25h8m-8 1h8m-7-89h8m-8 7h8m-8 13h8m-8 23h8m-8 23h8m-7-63h8m-8 13h8m-8 20h8m-8 4h8m-8 4h8m-8 2h8m-8 15h8m-8 6h8m-8 18h8m-7-85h8m-8 0h8m-8 77h8m-7-89h8m-8 7h8m-7-7h8m-8 7h8m-7 17h8m-7-29h8m-8 86h8m-8 4h8m-7-88h8m-8 2h8m-8 16h8m-8 17h8m-7-45h8m-8 11h8m-8 3h8m-8 32h8m-8 6h8m-8 8h8m-8 58h8m-7-101h8m-8 20h8m-8 6h8m-8 3h8m-8 11h8m-8 12h8m-8 31h8m-8 16h8m-7-78h8m-8 1h8m-8 4h8m-8 2h8m-8 11h8m-8 7h8m-8 38h8m-7-116h8m-8 37h8m-8 42h8m-7-69h8m-7 1h8m-8 10h8m-8 17h8m-8 7h8m-8 32h8m-8 40h8m-8 19h8m-7-86h8m-7-25h8m-7-8h8m-8 21h8m-8 37h8m-7-41h8m-8 88h8m-7-82h8m-8 44h8m-8 34h8m-7-86h8m-8 34h8m-8 38h8m-7-139h8m-8 128h8m-8 43h8m-7-96h8m-8 21h8m-7-12h8m-8 17h8m-8 23h8m-7-96h8m-8 25h8m-8 36h8m-8 16h8m-7-14h8m-7-55h8m-8 93h8m-8 32h8m-7-106h8m-8 40h8m-8 6h8m-8 11h8m-7-52h8m-8 5h8m-8 5h8m-8 0h8m-8 8h8m-8 106h8m-7-139h8m-8 27h8m-8 11h8m-8 1h8m-8 7h8m-8 23h8m-8 13h8m-7-65h8m-7 85h8m-7-73h8m-8 17h8m-7-98h8m-8 128h8m-8 53h8m-7-135h8m-8 39h8m-8 17h8m-8 29h8m-7-54h8m-8 70h8m-7-81h8m-8 51h8m-7 9h8m-8 0h8m-8 42h8m-7-123h8m-6 58h8m-8 29h8m-7-21h8m-8 14h8m-7-29h8m-8 1h8m-8 63h8m-7-22h8m-8 7h8m-8 1h8m-6-108h8m-8 71h8m-7 18h8m-6 12h8m-8 13h8m-6-30h8m-8 10h8m-4 4h8m-7-66h8m-7 25h8m-5 32h8m-6-37h8m-7-66h8m-7 83h8m-7-11h8m-8 8h8m-7-23h8m-7 44h8m-8 4h8m-7 3h8m-7-22h8m-7-18h8m-6 43h8m-6-134h8m-6 94h8m-8 7h8m-6-40h8m-6 105h8m-7-85h8m-5-5h8m-7 9h8m-5 52h8m-1-78h8" stroke="#04030c" stroke-width="8" fill="none"/>
<path transform="scale(.1)" d="m2320 751h8m-4-24h8m7 21h8m-8 19h8m-7-31h8m-5-56h8m-8 35h8m-4-45h8m-8 10h8m-7 37h8m-6 31h8m-7-52h8m-8 32h8m-6-33h8m-6-51h8m-7 61h8m-8 13h8m-6-56h8m-7 5h8m-8 86h8m-7-43h8m-8 10h8m-6-33h8m-8 12h8m-7 28h8m-8 64h8m-7-185h8m-8 73h8m-6-9h8m-6 14h8m-8 16h8m-7-14h8m-8 21h8m-8 3h8m-8 25h8m-6-16h8m-8 8h8m-7-22h8m-7 22h8m-8 43h8m-8 48h8m-7-114h8m-8 24h8m-7 10h8m-8 27h8m-7-85h8m-8 52h8m-7-11h8m-8 10h8m-7-66h8m-8 75h8m-7-79h8m-8 39h8m-7 40h8m-7-45h8m-8 10h8m-8 3h8m-8 16h8m-7-27h8m-8 38h8m-8 17h8m-8 15h8m-7-158h8m-8 60h8m-8 20h8m-8 61h8m-8 37h8m-7-77h8m-7-8h8m-8 81h8m-7-84h8m-8 9h8m-8 31h8m-8 24h8m-7-66h8m-8 36h8m-7-9h8m-8 1h8m-8 29h8m-7-55h8m-8 8h8m-7-5h8m-8 23h8m-7-55h8m-8 23h8m-8 22h8m-8 41h8m-7-70h8m-8 23h8m-8 24h8m-8 4h8m-7-109h8m-8 112h8m-8 5h8m-8 6h8m-7-82h8m-8 50h8m-8 40h8m-7-80h8m-8 22h8m-8 33h8m-8 4h8m-8 4h8m-7-36h8m-8 4h8m-8 0h8m-8 54h8m-7-90h8m-8 19h8m-8 112h8m-7-99h8m-8 10h8m-8 7h8m-8 1h8m-8 4h8m-8 32h8m-7-110h8m-8 79h8m-8 10h8m-8 10h8m-8 13h8m-7-100h8m-8 19h8m-8 29h8m-8 31h8m-8 11h8m-7-23h8m-8 5h8m-7-32h8m-8 22h8m-8 14h8m-8 21h8m-7-133h8m-8 97h8m-8 32h8m-8 18h8m-7-54h8m-8 30h8m-7-75h8m-8 22h8m-8 13h8m-8 26h8m-8 39h8m-7-137h8m-8 60h8m-8 2h8m-8 60h8m-7-85h8m-8 34h8m-8 1h8m-8 28h8m-7-43h8m-8 6h8m-8 30h8m-7-37h8m-8 14h8m-8 1h8m-8 1h8m-7-46h8m-8 48h8m-8 67h8m-7-112h8m-8 3h8m-8 32h8m-8 18h8m-7-34h8m-8 3h8m-8 63h8m-7-67h8m-8 20h8m-8 30h8m-8 7h8m-8 2h8m-7-67h8m-8 22h8m-8 3h8m-7-65h8m-8 48h8m-8 10h8m-8 5h8m-8 16h8m-8 16h8m-8 3h8m-8 48h8m-7-82h8m-8 16h8m-8 6h8m-7-57h8m-8 1h8m-8 17h8m-8 17h8m-8 12h8m-8 13h8m-8 11h8m-8 28h8m-8 46h8m-7-122h8m-8 6h8m-8 3h8m-8 3h8m-8 0h8m-8 9h8m-8 5h8m-8 12h8m-8 10h8m-8 0h8m-8 23h8m-8 18h8m-8 6h8m-7-126h8m-8 46h8m-8 8h8m-8 58h8m-8 16h8m-7-96h8m-8 11h8m-8 19h8m-8 6h8m-8 8h8m-8 21h8m-8 31h8m-7-154h8m-8 47h8m-8 3h8m-8 2h8m-8 4h8m-8 24h8m-8 10h8m-8 0h8m-8 6h8m-8 14h8m-7-81h8m-8 33h8m-8 7h8m-8 58h8m-7-145h8m-8 14h8m-8 37h8m-8 18h8m-8 1h8m-8 17h8m-8 9h8m-8 4h8m-8 22h8m-7-74h8m-8 16h8m-8 19h8m-8 0h8m-8 17h8m-7-76h8m-8 60h8m-8 1h8m-8 16h8m-8 3h8m-8 26h8m-8 44h8m-7-100h8m-8 46h8m-8 6h8m-8 4h8m-7-53h8m-7-43h8m-8 38h8m-8 14h8m-8 1h8m-8 6h8m-8 17h8m-8 5h8m-8 12h8m-8 19h8m-7-107h8m-8 16h8m-8 10h8m-8 3h8m-8 0h8m-8 10h8m-8 48h8m-8 6h8m-8 2h8m-7-65h8m-8 10h8m-8 24h8m-8 1h8m-8 3h8m-8 4h8m-8 22h8m-8 1h8m-8 22h8m-7-102h8m-8 17h8m-8 2h8m-8 13h8m-8 1h8m-8 5h8m-8 2h8m-8 9h8m-8 13h8m-8 20h8m-8 4h8m-8 7h8m-7-72h8m-8 1h8m-8 21h8m-8 5h8m-8 20h8m-8 2h8m-8 11h8m-8 13h8m-7-126h8m-8 39h8m-8 1h8m-8 46h8m-8 10h8m-8 14h8m-8 0h8m-8 58h8m-7-162h8m-8 27h8m-8 23h8m-8 1h8m-8 7h8m-8 10h8m-8 27h8m-8 4h8m-8 3h8m-7-69h8m-8 40h8m-8 2h8m-8 4h8m-8 0h8m-8 12h8m-8 19h8m-8 10h8m-7-64h8m-8 8h8m-8 6h8m-8 23h8m-8 14h8m-7-106h8m-8 27h8m-8 2h8m-8 0h8m-8 24h8m-8 4h8m-8 14h8m-8 4h8m-8 24h8m-8 16h8m-8 48h8m-7-113h8m-8 5h8m-8 37h8m-8 57h8m-7-125h8m-8 35h8m-8 18h8m-8 7h8m-8 3h8m-8 6h8m-8 4h8m-8 12h8m-7-72h8m-8 14h8m-8 33h8m-8 1h8m-8 28h8m-8 20h8m-7-94h8m-8 13h8m-8 6h8m-8 12h8m-8 5h8m-8 8h8m-8 1h8m-8 1h8m-8 3h8m-8 28h8m-7-91h8m-8 37h8m-8 38h8m-8 15h8m-7-48h8m-8 14h8m-8 36h8m-8 5h8m-7-85h8m-8 13h8m-8 1h8m-8 21h8m-8 55h8m-7-115h8m-8 17h8m-8 30h8m-8 17h8m-8 17h8m-8 7h8m-8 5h8m-8 35h8m-7-106h8m-8 17h8m-8 15h8m-8 2h8m-7-26h8m-8 44h8m-8 7h8m-8 7h8m-7-43h8m-8 32h8m-8 6h8m-8 14h8m-8 8h8m-7-101h8m-8 23h8m-8 14h8m-8 24h8m-7-65h8m-8 4h8m-8 31h8m-8 10h8m-8 4h8m-8 7h8m-8 2h8m-8 6h8m-8 2h8m-8 4h8m-7-25h8m-8 30h8m-8 14h8m-8 10h8m-7-101h8m-8 3h8m-8 11h8m-8 3h8m-8 24h8m-8 3h8m-8 7h8m-8 31h8m-8 4h8m-8 9h8m-8 8h8m-8 36h8m-7-108h8m-8 55h8m-8 10h8m-8 2h8m-8 7h8m-8 16h8m-8 3h8m-7-81h8m-8 4h8m-8 8h8m-8 9h8m-8 42h8m-7-67h8m-8 15h8m-8 19h8m-8 3h8m-8 1h8m-8 26h8m-8 7h8m-8 7h8m-7-106h8m-8 12h8m-8 16h8m-8 21h8m-8 0h8m-8 16h8m-8 10h8m-8 8h8m-7-76h8m-8 7h8m-8 5h8m-8 23h8m-8 9h8m-8 10h8m-8 15h8m-8 1h8m-7-55h8m-8 16h8m-8 3h8m-8 11h8m-7-33h8m-8 28h8m-8 11h8m-8 2h8m-8 27h8m-8 5h8m-8 2h8m-8 12h8m-7-123h8m-8 48h8m-8 17h8m-8 29h8m-8 9h8m-8 0h8m-7-97h8m-8 42h8m-8 4h8m-8 3h8m-8 31h8m-8 14h8m-8 26h8m-8 19h8m-7-124h8m-8 56h8m-8 26h8m-8 34h8m-7-114h8m-8 16h8m-8 25h8m-8 18h8m-8 7h8m-7-67h8m-8 60h8m-8 8h8m-8 1h8m-8 1h8m-8 2h8m-8 38h8m-8 11h8m-7-170h8m-8 64h8m-8 66h8m-7-90h8m-8 39h8m-8 6h8m-8 31h8m-8 7h8m-8 23h8m-8 4h8m-8 19h8m-7-98h8m-8 37h8m-8 5h8m-8 13h8m-7-92h8m-8 14h8m-8 35h8m-8 3h8m-8 10h8m-8 11h8m-8 0h8m-8 10h8m-8 29h8m-8 1h8m-7-66h8m-8 7h8m-8 2h8m-8 21h8m-8 1h8m-8 11h8m-7-21h8m-8 60h8m-7-110h8m-8 2h8m-8 7h8m-8 6h8m-8 4h8m-8 23h8m-8 4h8m-8 5h8m-8 8h8m-8 18h8m-7-56h8m-8 15h8m-8 3h8m-8 28h8m-8 24h8m-7-97h8m-8 4h8m-8 43h8m-8 1h8m-8 9h8m-8 6h8m-8 45h8m-7-80h8m-8 25h8m-8 5h8m-8 5h8m-7-74h8m-8 2h8m-8 26h8m-8 13h8m-8 15h8m-8 3h8m-8 5h8m-8 12h8m-8 11h8m-8 14h8m-8 47h8m-7-99h8m-8 3h8m-8 28h8m-8 37h8m-8 3h8m-7-65h8m-8 11h8m-8 2h8m-8 18h8m-8 7h8m-7-35h8m-8 2h8m-8 1h8m-8 9h8m-8 6h8m-7-101h8m-8 79h8m-7-56h8m-8 4h8m-8 8h8m-8 4h8m-8 78h8m-7-61h8m-8 19h8m-8 29h8m-8 11h8m-7-60h8m-8 23h8m-8 7h8m-7-77h8m-8 24h8m-8 1h8m-8 14h8m-8 28h8m-8 1h8m-8 63h8m-7-118h8m-8 23h8m-8 22h8m-8 12h8m-8 0h8m-8 28h8m-8 20h8m-7-75h8m-8 1h8m-8 6h8m-8 28h8m-8 1h8m-8 14h8m-7-83h8m-7 50h8m-8 38h8m-8 15h8m-8 6h8m-8 7h8m-7-58h8m-7-14h8m-8 8h8m-8 18h8m-8 12h8m-8 57h8m-7-111h8m-8 1h8m-8 13h8m-8 19h8m-8 8h8m-8 10h8m-8 4h8m-8 5h8m-8 6h8m-8 6h8m-7-54h8m-8 17h8m-8 5h8m-8 31h8m-8 6h8m-8 18h8m-7-115h8m-8 4h8m-8 19h8m-8 13h8m-8 48h8m-8 24h8m-7-108h8m-8 110h8m-7-82h8m-8 10h8m-8 10h8m-8 17h8m-8 8h8m-7-45h8m-8 20h8m-8 8h8m-8 20h8m-8 18h8m-7-46h8m-8 48h8m-7-94h8m-8 14h8m-8 78h8m-8 5h8m-7-83h8m-8 42h8m-8 39h8m-8 2h8m-7-37h8m-8 4h8m-7-22h8m-8 20h8m-6-45h8m-8 33h8m-8 28h8m-7-54h8m-8 35h8m-8 20h8m-8 51h8m-8 1h8m-7-122h8m-8 37h8m-8 22h8m-7-34h8m-8 15h8m-8 12h8m-8 8h8m-8 13h8m-8 7h8m-7-108h8m-8 17h8m-7 81h8m-7-23h8m-8 7h8m-8 45h8m-7-79h8m-7-45h8m-8 92h8m-8 18h8m-7-43h8m-8 18h8m-8 11h8m-8 5h8m-7-56h8m-7-30h8m-8 98h8m-8 26h8m-7-149h8m-8 51h8m-8 52h8m-8 7h8m-7-58h8m-8 46h8m-8 3h8m-7-37h8m-8 25h8m-8 2h8m-8 4h8m-7-76h8m-8 23h8m-8 10h8m-7 22h8m-8 43h8m-8 14h8m-7-56h8m-8 12h8m-7 23h8m-8 3h8m-7-36h8m-8 20h8m-8 3h8m-8 0h8m-7-19h8m-8 45h8m-6-11h8m-8 8h8m-7-94h8m-8 3h8m-8 39h8m-7 32h8m-7-14h8m-8 35h8m-8 14h8m-7-143h8m-8 118h8m-7-71h8m-8 39h8m-8 9h8m-6-49h8m-8 17h8m-8 60h8m-7-62h8m-8 62h8m-4-65h8m-8 4h8m-8 30h8m-7-22h8m-7-8h8m-7 40h8m-7-25h8m-8 27h8m-7-43h8m-5 23h8m-6 16h8m-6-18h8m-3 1h8m-5 60h8m-6-88h8m-6 45h8m-7 9h8m-6-20h8m-8 29h8m7 16h8" stroke="#04030c" stroke-width="8" fill="none"/>
<path transform="scale(.1)" d="m2041 930h8m12 65h8m5 34h8m3-75h8m0 24h8m-7-70h8m-5 76h8m-7 61h8m-5-62h8m-6-26h8m-7 30h8m-4-33h8m-7-10h8m-8 97h8m-6-98h8m-8 76h8m-7-64h8m-6 36h8m-6-77h8m-7-129h8m-8 250h8m-7-82h8m-8 94h8m-8 7h8m-7-99h8m-6 7h8m-7-20h8m-8 16h8m-8 25h8m-7-27h8m-8 15h8m-8 63h8m-5-52h8m-7 143h8m-7-431h8m-7 175h8m-7 29h8m-8 22h8m-7 47h8m-7-74h8m-8 6h8m-8 81h8m-8 19h8m-8 1h8m-7-21h8m-8 10h8m-7-25h8m-8 24h8m-8 36h8m-6 36h8m-7 1h8m-7-57h8m-7-75h8m-8 132h8m-7-146h8m-8 14h8m-7 33h8m-8 6h8m-8 29h8m-7-55h8m-8 92h8m-7-125h8m-8 170h8m-7-99h8m-8 39h8m-7-54h8m-7-45h8m-8 13h8m-8 67h8m-8 16h8m-8 9h8m-7-97h8m-8 25h8m-8 20h8m-8 15h8m-8 25h8m-7-63h8m-7 19h8m-8 75h8m-7-173h8m-8 36h8m-8 1h8m-8 24h8m-8 13h8m-8 13h8m-8 20h8m-8 78h8m-7-166h8m-8 40h8m-8 5h8m-8 6h8m-8 7h8m-8 10h8m-8 104h8m-7-161h8m-8 38h8m-8 47h8m-8 42h8m-7-112h8m-8 37h8m-8 12h8m-7-67h8m-8 73h8m-8 3h8m-7-127h8m-8 244h8m-7-212h8m-8 115h8m-7-38h8m-8 0h8m-8 10h8m-8 35h8m-8 27h8m-8 28h8m-7-102h8m-8 16h8m-8 9h8m-8 11h8m-7-124h8m-8 7h8m-8 51h8m-8 59h8m-8 7h8m-8 18h8m-7-22h8m-8 25h8m-7-207h8m-8 118h8m-8 6h8m-8 27h8m-8 14h8m-8 6h8m-8 19h8m-7-123h8m-8 6h8m-8 54h8m-8 13h8m-8 38h8m-8 1h8m-8 53h8m-7-167h8m-8 100h8m-8 3h8m-8 59h8m-8 71h8m-6-170h8m-8 7h8m-8 27h8m-8 25h8m-7-135h8m-8 67h8m-8 25h8m-8 4h8m-8 14h8m-8 63h8m-7-137h8m-8 62h8m-8 9h8m-8 4h8m-8 34h8m-8 59h8m-7-126h8m-8 39h8m-8 32h8m-8 3h8m-8 38h8m-7-161h8m-8 46h8m-8 16h8m-8 9h8m-8 0h8m-8 107h8m-7-240h8m-8 107h8m-8 68h8m-8 70h8m-7-153h8m-8 6h8m-8 21h8m-8 40h8m-8 16h8m-8 70h8m-7-226h8m-8 133h8m-8 20h8m-8 48h8m-8 6h8m-8 13h8m-8 42h8m-7-197h8m-8 50h8m-8 99h8m-8 33h8m-7-232h8m-8 77h8m-8 15h8m-8 50h8m-8 28h8m-8 19h8m-7-128h8m-8 31h8m-8 6h8m-8 2h8m-8 22h8m-8 101h8m-8 3h8m-8 7h8m-7-229h8m-8 25h8m-8 100h8m-7-126h8m-8 45h8m-8 2h8m-8 21h8m-8 25h8m-8 11h8m-8 31h8m-8 2h8m-8 18h8m-7-173h8m-8 96h8m-8 16h8m-8 7h8m-8 0h8m-8 3h8m-8 8h8m-8 11h8m-7-102h8m-8 0h8m-8 20h8m-8 1h8m-8 6h8m-8 60h8m-8 0h8m-8 56h8m-8 7h8m-8 33h8m-7-208h8m-8 61h8m-8 9h8m-8 57h8m-8 27h8m-8 38h8m-8 11h8m-7-158h8m-8 37h8m-8 130h8m-7-279h8m-8 99h8m-8 109h8m-8 108h8m-7-217h8m-8 38h8m-8 35h8m-8 13h8m-8 55h8m-7-145h8m-8 13h8m-8 14h8m-8 27h8m-8 1h8m-8 6h8m-8 42h8m-8 26h8m-8 6h8m-8 9h8m-8 21h8m-7-147h8m-8 1h8m-8 25h8m-8 8h8m-8 18h8m-8 74h8m-8 0h8m-8 26h8m-7-197h8m-8 79h8m-8 59h8m-8 11h8m-8 1h8m-7-206h8m-8 43h8m-8 44h8m-8 14h8m-8 12h8m-8 33h8m-8 22h8m-7-116h8m-8 65h8m-8 2h8m-8 22h8m-8 8h8m-8 31h8m-8 1h8m-8 27h8m-8 22h8m-8 81h8m-7-250h8m-8 39h8m-8 53h8m-8 20h8m-8 36h8m-8 11h8m-7-150h8m-8 30h8m-8 12h8m-8 39h8m-8 20h8m-8 16h8m-8 13h8m-8 59h8m-7-226h8m-8 25h8m-8 2h8m-8 18h8m-8 44h8m-8 17h8m-8 7h8m-8 20h8m-8 3h8m-8 42h8m-8 28h8m-8 9h8m-7-131h8m-8 17h8m-8 8h8m-8 57h8m-8 32h8m-7-148h8m-8 21h8m-8 4h8m-8 42h8m-8 16h8m-8 13h8m-8 7h8m-8 6h8m-8 1h8m-8 15h8m-8 35h8m-8 3h8m-8 3h8m-7-159h8m-8 21h8m-8 15h8m-8 90h8m-8 61h8m-7-200h8m-8 33h8m-8 15h8m-8 5h8m-8 93h8m-8 2h8m-8 17h8m-7-195h8m-8 13h8m-8 61h8m-8 10h8m-8 42h8m-8 3h8m-8 17h8m-8 6h8m-8 17h8m-8 9h8m-8 60h8m-7-216h8m-8 44h8m-8 50h8m-8 1h8m-8 5h8m-8 41h8m-8 106h8m-7-297h8m-8 60h8m-8 39h8m-8 14h8m-8 9h8m-8 34h8m-8 31h8m-8 25h8m-8 4h8m-8 75h8m-7-266h8m-8 33h8m-8 27h8m-8 51h8m-8 23h8m-8 5h8m-8 2h8m-8 53h8m-8 3h8m-7-198h8m-8 5h8m-8 30h8m-8 50h8m-8 0h8m-8 107h8m-7-147h8m-8 40h8m-8 15h8m-8 12h8m-8 2h8m-8 0h8m-8 10h8m-8 4h8m-8 3h8m-8 33h8m-8 10h8m-7-179h8m-8 59h8m-8 13h8m-8 6h8m-8 20h8m-8 6h8m-8 25h8m-8 41h8m-8 48h8m-7-117h8m-8 20h8m-8 15h8m-8 2h8m-8 9h8m-8 2h8m-8 17h8m-8 24h8m-7-163h8m-8 87h8m-8 3h8m-8 40h8m-8 21h8m-7-86h8m-8 24h8m-8 5h8m-8 13h8m-8 31h8m-8 5h8m-8 0h8m-7-137h8m-8 56h8m-8 15h8m-8 12h8m-8 49h8m-8 26h8m-8 2h8m-8 80h8m-7-151h8m-8 17h8m-8 25h8m-7-84h8m-8 22h8m-8 11h8m-8 17h8m-8 4h8m-8 15h8m-8 2h8m-8 15h8m-8 16h8m-8 22h8m-8 12h8m-7-160h8m-8 86h8m-8 42h8m-8 8h8m-8 11h8m-8 12h8m-7-149h8m-8 13h8m-8 43h8m-8 47h8m-8 23h8m-8 11h8m-7-206h8m-8 100h8m-8 96h8m-8 52h8m-7-211h8m-8 78h8m-8 5h8m-8 0h8m-8 47h8m-8 3h8m-8 8h8m-8 5h8m-8 7h8m-8 11h8m-7-222h8m-8 77h8m-8 3h8m-8 42h8m-8 2h8m-8 12h8m-8 30h8m-7-102h8m-8 41h8m-8 12h8m-8 19h8m-8 10h8m-8 25h8m-8 19h8m-8 62h8m-7-256h8m-8 21h8m-8 31h8m-8 57h8m-8 50h8m-8 16h8m-8 1h8m-8 4h8m-8 2h8m-8 3h8m-8 5h8m-8 0h8m-8 37h8m-8 18h8m-8 56h8m-7-265h8m-8 58h8m-8 25h8m-8 0h8m-8 11h8m-8 6h8m-8 5h8m-8 45h8m-7-103h8m-8 25h8m-8 3h8m-8 38h8m-8 33h8m-8 9h8m-8 2h8m-8 20h8m-8 1h8m-8 10h8m-8 16h8m-7-190h8m-8 25h8m-8 29h8m-8 9h8m-8 31h8m-8 1h8m-8 23h8m-8 9h8m-8 2h8m-8 4h8m-8 93h8m-7-198h8m-8 22h8m-8 18h8m-8 45h8m-8 4h8m-8 26h8m-8 5h8m-8 90h8m-7-254h8m-8 13h8m-8 17h8m-8 69h8m-8 9h8m-8 1h8m-8 6h8m-8 31h8m-7-87h8m-8 46h8m-8 13h8m-8 21h8m-8 39h8m-8 3h8m-8 27h8m-7-199h8m-8 80h8m-8 29h8m-8 1h8m-8 16h8m-8 3h8m-8 18h8m-8 1h8m-8 0h8m-8 1h8m-8 5h8m-8 37h8m-8 32h8m-7-218h8m-8 23h8m-8 4h8m-8 19h8m-8 26h8m-8 48h8m-8 4h8m-8 8h8m-8 79h8m-7-195h8m-8 21h8m-8 14h8m-8 13h8m-8 8h8m-8 16h8m-8 13h8m-8 6h8m-8 9h8m-8 11h8m-8 20h8m-8 19h8m-8 5h8m-8 2h8m-7-65h8m-8 19h8m-8 7h8m-8 1h8m-8 1h8m-8 44h8m-8 0h8m-8 8h8m-8 16h8m-8 18h8m-7-231h8m-8 42h8m-8 52h8m-8 20h8m-8 61h8m-8 28h8m-7-182h8m-8 32h8m-8 5h8m-8 6h8m-8 16h8m-8 11h8m-8 34h8m-8 12h8m-8 96h8m-7-277h8m-8 36h8m-8 5h8m-8 45h8m-8 30h8m-8 35h8m-8 12h8m-8 6h8m-8 10h8m-8 21h8m-8 60h8m-7-165h8m-8 22h8m-8 0h8m-8 3h8m-8 12h8m-8 18h8m-8 1h8m-8 31h8m-8 10h8m-8 5h8m-8 44h8m-8 35h8m-7-229h8m-8 11h8m-8 38h8m-8 11h8m-8 66h8m-8 12h8m-8 13h8m-7-181h8m-8 35h8m-8 72h8m-8 16h8m-8 26h8m-8 3h8m-8 14h8m-8 119h8m-7-290h8m-8 62h8m-8 12h8m-8 14h8m-8 9h8m-8 6h8m-8 37h8m-8 15h8m-8 3h8m-8 52h8m-8 70h8m-7-302h8m-8 67h8m-8 100h8m-8 11h8m-8 2h8m-8 26h8m-8 19h8m-8 35h8m-8 46h8m-7-230h8m-8 31h8m-8 42h8m-7-46h8m-8 1h8m-8 45h8m-8 4h8m-8 6h8m-8 10h8m-8 2h8m-8 34h8m-8 22h8m-7-192h8m-8 8h8m-8 31h8m-8 6h8m-8 33h8m-8 57h8m-8 27h8m-8 4h8m-8 17h8m-8 4h8m-8 4h8m-8 23h8m-7-188h8m-8 18h8m-8 26h8m-8 12h8m-8 18h8m-8 26h8m-8 15h8m-8 37h8m-8 24h8m-8 37h8m-8 50h8m-7-301h8m-8 60h8m-8 14h8m-8 14h8m-8 4h8m-8 12h8m-8 16h8m-8 15h8m-8 20h8m-8 19h8m-8 12h8m-8 3h8m-8 25h8m-8 31h8m-8 41h8m-7-264h8m-8 33h8m-8 21h8m-8 44h8m-8 0h8m-8 3h8m-8 13h8m-8 70h8m-8 46h8m-7-194h8m-8 13h8m-8 43h8m-8 14h8m-8 10h8m-8 12h8m-8 76h8m-8 4h8m-7-213h8m-8 43h8m-8 7h8m-8 89h8m-8 20h8m-8 1h8m-8 23h8m-8 14h8m-8 5h8m-8 15h8m-7-138h8m-8 17h8m-8 46h8m-8 18h8m-8 20h8m-7-151h8m-8 7h8m-8 43h8m-8 31h8m-8 6h8m-8 1h8m-8 5h8m-8 12h8m-8 2h8m-8 30h8m-8 1h8m-8 21h8m-8 2h8m-7-153h8m-8 21h8m-8 4h8m-8 15h8m-8 8h8m-8 11h8m-8 1h8m-8 2h8m-8 32h8m-8 57h8m-8 35h8m-8 47h8m-7-240h8m-8 32h8m-8 59h8m-8 44h8m-8 13h8m-8 10h8m-8 8h8m-8 60h8m-7-296h8m-8 60h8m-8 22h8m-8 18h8m-8 2h8m-8 28h8m-8 23h8m-8 72h8m-8 10h8m-8 37h8m-8 18h8m-7-220h8m-8 29h8m-8 28h8m-8 10h8m-8 18h8m-8 3h8m-8 47h8m-7-94h8m-8 8h8m-8 33h8m-8 2h8m-8 8h8m-8 17h8m-8 6h8m-8 1h8m-8 47h8m-8 6h8m-8 2h8m-7-153h8m-8 3h8m-8 30h8m-8 15h8m-8 16h8m-8 23h8m-8 8h8m-8 77h8m-7-261h8m-8 118h8m-8 7h8m-8 9h8m-8 8h8m-8 26h8m-8 5h8m-8 21h8m-8 0h8m-8 8h8m-8 38h8m-8 33h8m-7-203h8m-8 7h8m-8 17h8m-8 17h8m-8 5h8m-8 37h8m-8 26h8m-8 35h8m-8 7h8m-8 2h8m-8 8h8m-7-165h8m-8 8h8m-8 25h8m-8 10h8m-8 15h8m-8 3h8m-8 21h8m-8 65h8m-7-166h8m-8 13h8m-8 10h8m-8 9h8m-8 47h8m-8 0h8m-8 88h8m-8 1h8m-8 16h8m-8 51h8m-8 23h8m-7-235h8m-8 130h8m-8 45h8m-7-147h8m-8 33h8m-8 39h8m-8 3h8m-8 15h8m-8 8h8m-8 16h8m-8 12h8m-8 9h8m-8 52h8m-7-219h8m-8 10h8m-8 82h8m-8 7h8m-8 31h8m-8 10h8m-8 16h8m-8 11h8m-8 81h8m-7-220h8m-8 10h8m-8 19h8m-8 17h8m-8 15h8m-8 16h8m-8 13h8m-8 66h8m-8 3h8m-7-212h8m-8 16h8m-8 53h8m-8 40h8m-8 13h8m-8 0h8m-8 33h8m-8 9h8m-8 10h8m-8 15h8m-8 27h8m-7-140h8m-8 10h8m-8 8h8m-8 45h8m-8 22h8m-8 21h8m-8 4h8m-8 1h8m-7-143h8m-8 66h8m-8 25h8m-8 2h8m-8 9h8m-8 0h8m-8 70h8m-7-256h8m-8 19h8m-8 70h8m-8 1h8m-8 23h8m-8 1h8m-8 5h8m-8 10h8m-8 24h8m-8 22h8m-8 12h8m-8 64h8m-7-97h8m-8 6h8m-8 16h8m-8 3h8m-8 19h8m-8 1h8m-8 7h8m-8 3h8m-8 47h8m-7-223h8m-8 34h8m-8 64h8m-8 15h8m-8 57h8m-8 1h8m-8 3h8m-7-155h8m-8 16h8m-8 32h8m-8 7h8m-8 89h8m-8 22h8m-8 5h8m-7-129h8m-8 39h8m-8 13h8m-8 12h8m-8 13h8m-8 19h8m-8 57h8m-8 20h8m-7-188h8m-8 49h8m-8 59h8m-8 37h8m-8 12h8m-8 44h8m-8 13h8m-7-276h8m-8 45h8m-8 59h8m-8 11h8m-8 33h8m-8 7h8m-8 113h8m-7-141h8m-8 19h8m-8 36h8m-8 9h8m-8 15h8m-7-220h8m-8 172h8m-7-184h8m-8 104h8m-8 2h8m-8 60h8m-8 19h8m-8 18h8m-8 20h8m-8 31h8m-8 7h8m-8 16h8m-8 5h8m-8 30h8m-7-237h8m-8 4h8m-8 89h8m-8 3h8m-8 40h8m-8 50h8m-7-133h8m-7-48h8m-8 22h8m-8 28h8m-8 15h8m-8 0h8m-8 46h8m-8 27h8m-7-101h8m-8 17h8m-8 17h8m-8 33h8m-8 1h8m-8 10h8m-8 12h8m-8 3h8m-8 16h8m-7-132h8m-8 12h8m-8 4h8m-8 10h8m-8 19h8m-8 15h8m-8 108h8m-7-192h8m-8 76h8m-8 5h8m-8 12h8m-8 21h8m-8 35h8m-8 7h8m-8 1h8m-8 49h8m-7-175h8m-8 12h8m-8 48h8m-8 5h8m-8 13h8m-8 8h8m-7-83h8m-8 51h8m-8 2h8m-8 17h8m-8 2h8m-8 29h8m-8 27h8m-7-119h8m-8 1h8m-8 10h8m-8 19h8m-8 9h8m-8 18h8m-8 41h8m-8 83h8m-7-157h8m-8 4h8m-8 12h8m-8 10h8m-8 4h8m-8 28h8m-8 59h8m-7-109h8m-8 8h8m-8 10h8m-8 5h8m-8 6h8m-7-137h8m-8 46h8m-8 36h8m-8 24h8m-8 9h8m-8 24h8m-8 31h8m-7-130h8m-8 99h8m-8 8h8m-8 25h8m-8 2h8m-8 17h8m-7-128h8m-8 64h8m-8 46h8m-7-67h8m-8 23h8m-8 6h8m-8 10h8m-8 14h8m-8 90h8m-7-107h8m-8 12h8m-8 43h8m-7-199h8m-8 65h8m-8 46h8m-8 16h8m-8 7h8m-8 41h8m-8 97h8m-7-231h8m-8 124h8m-8 8h8m-8 36h8m-7-123h8m-8 32h8m-8 88h8m-8 26h8m-8 11h8m-7-166h8m-8 23h8m-8 2h8m-8 25h8m-8 12h8m-8 1h8m-8 5h8m-8 8h8m-8 12h8m-8 3h8m-7-125h8m-8 97h8m-8 9h8m-8 73h8m-7-165h8m-8 9h8m-8 81h8m-8 10h8m-8 44h8m-8 30h8m-7-71h8m-7-164h8m-8 18h8m-8 150h8m-8 0h8m-8 1h8m-8 57h8m-8 4h8m-8 56h8m-7-229h8m-8 167h8m-7-56h8m-8 1h8m-7-127h8m-8 81h8m-8 4h8m-8 21h8m-8 61h8m-7-46h8m-7-145h8m-8 78h8m-8 24h8m-8 15h8m-8 9h8m-7 10h8m-8 34h8m-8 47h8m-7-202h8m-8 80h8m-7 52h8m-8 17h8m-8 70h8m-7-175h8m-8 2h8m-8 24h8m-8 7h8m-8 21h8m-8 2h8m-7-47h8m-8 13h8m-8 25h8m-8 11h8m-8 133h8m-7-206h8m-8 114h8m-7-112h8m-8 98h8m-7-111h8m-8 80h8m-7-60h8m-7 55h8m-8 43h8m-8 6h8m-8 103h8m-7-260h8m-8 101h8m-8 14h8m-8 51h8m-8 99h8m-7-352h8m-8 79h8m-8 73h8m-7-17h8m-8 32h8m-8 24h8m-7-84h8m-8 57h8m-8 91h8m-8 16h8m-8 80h8m-7-244h8m-8 11h8m-8 53h8m-7-57h8m-8 109h8m-8 35h8m-8 12h8m-7-82h8m-8 53h8m-8 38h8m-8 27h8m-7-150h8m-8 50h8m-8 109h8m-7-180h8m-8 41h8m-8 28h8m-8 59h8m-8 26h8m-8 11h8m-7-84h8m-7-49h8m-8 38h8m-8 48h8m-8 11h8m-7-112h8m-7 56h8m-7-78h8m-8 29h8m-7 10h8m-6-33h8m-8 86h8m-8 55h8m-7-82h8m-8 4h8m-7 31h8m-8 37h8m-8 32h8m-7-20h8m-6-132h8m-8 77h8m-6 13h8m-7-196h8m-7 194h8m-7 27h8m-7-171h8m-8 104h8m-8 30h8m-8 24h8m-7-84h8m-8 206h8m-7-218h8m-8 6h8m-8 13h8m-8 61h8m-8 143h8m-7-290h8m-8 88h8m-7-102h8m-8 20h8m-8 175h8m-7-83h8m-7 28h8m-6-131h8m-8 135h8m-7-86h8m-8 56h8m-4 60h8m-7-101h8m-7 77h8m-2-45h8m-8 68h8m-7-67h8m-8 121h8m-6-123h8m-6-24h8m-6 17h8m-7 30h8m-5 21h8m-3-5h8m-7 104h8m-6-87h8m3-29h8m-8 67h8" stroke="#05040e" stroke-width="8" fill="none"/>
<path transform="scale(.1)" d="m2362 931h8m-4-1h8m-8 21h8m-8 17h8m-8 36h8m-7-111h8m-7 3h8m-7 6h8m-4-24h8m-8 75h8m-7-18h8m-8 48h8m-6-21h8m-8 51h8m-7-81h8m-8 47h8m-8 25h8m-7 41h8m-6-163h8m-8 105h8m-8 27h8m-7-78h8m-8 9h8m-7-64h8m-8 80h8m-8 52h8m-6-133h8m-8 46h8m-7-11h8m-8 92h8m-7-100h8m-7 32h8m-8 119h8m-7-189h8m-8 81h8m-7-22h8m-8 28h8m-7-88h8m-8 12h8m-8 99h8m-8 32h8m-7-62h8m-8 27h8m-7 1h8m-8 15h8m-4-80h8m-7 21h8m-8 13h8m-7-41h8m-8 4h8m-8 18h8m-7 80h8m-5-78h8m-8 16h8m-7-34h8m-8 92h8m-6-133h8m-8 137h8m-7-32h8m-7-135h8m-8 57h8m-8 71h8m-7-74h8m-8 164h8m-7-98h8m-8 1h8m-7-64h8m-7 87h8m-7-24h8m-5-75h8m-8 104h8m-7-144h8m-8 168h8m-7-161h8m-8 79h8m-8 24h8m-7-74h8m-7-6h8m-8 56h8m-7-30h8m-8 3h8m-8 95h8m-7-101h8m-8 8h8m-8 7h8m-8 40h8m-7-89h8m-7-32h8m-8 194h8m-7-159h8m-8 93h8m-8 97h8m-7-89h8m-8 0h8m-7-67h8m-7-4h8m-8 78h8m-6-124h8m-7 87h8m-8 10h8m-4-50h8m-8 41h8m-7 50h8m-8 16h8m-8 23h8m-7-104h8m-8 12h8m-8 17h8m-6 99h8m-6-161h8m-7-57h8m-7 29h8m-8 9h8m-5 130h8m-6-65h8m-7 91h8m-4-152h8m-7 0h8m-6-5h8m-6-18h8m-2 99h8m-6-73h8m-7 61h8m-6-97h8m-8 91h8m-8 46h8m-5-11h8m-1-120h8m-3 38h8m-8 53h8m-6 1h8m-7 23h8m-6-92h8m-6 0h8m-8 208h8m3-205h8m0 9h8m2 45h8m-2 34h8m8 34h8" stroke="#0a0818" stroke-width="8" fill="none"/>
<path transform="scale(.1)" d="m2036 865h7m0 104h7m-5 92h7m8-291h7m1 25h7m-7 271h7m-2-268h7m-4-64h7m-5 41h7m0-111h7m1 160h7m-7 68h7m-1 86h7m1-31h7m4-132h7m6-29h7m-6-102h7m9 265h7m-2-40h7m4-270h7m-3 248h7m1 171h7m-3-289h7m-2-52h7m-7 219h7m6-63h7m-3 25h7m-6-89h7m-4-21h7m-5-96h7m-6 17h7m-3 132h7m-1 134h7m-6-99h7m-4-52h7m-5-193h7m-6 307h7m-6-39h7m-7 91h7m-2 76h7m-6-85h7m1 94h7m-5-209h7m-2-34h7m-6-23h7m2-56h7m-5 38h7m-6-107h7m0 17h7m-1 49h7m0 172h7m-7 4h7m-3-155h7m-4 95h7m-6-9h7m-6 199h7m0-71h7m-6-441h7m-1 367h7m-4-21h7m-5-127h7m-6 3h7m2 144h7m0-199h7m7 127h7m-4-340h7m-4 387h7m-6-123h7m-4 313h7m-6-180h7m-5 99h7m-6-164h7m-6-45h7m-6-108h7m-3 32h7m-5 249h7m-6-128h7m7-3h7m-1-111h7m0 235h7m-6-112h7m-6 221h7m10-144h7m-6-210h7m6 86h7m3 81h7m24 5h7m52-179h7m32-64h7m5 235h7" stroke="#111" stroke-width="7" fill="none"/>
<path transform="scale(.1)" d="m2155 747h8m-5-40h8m20 38h8m-2 6h8m-6-18h8m-7 32h8m-8 0h8m-5-65h8m-8 52h8m-1-25h8m-8 23h8m-7-35h8m-6 28h8m-7-7h8m-8 64h8m-7-45h8m-8 95h8m-7-125h8m-8 2h8m-8 29h8m-7 11h8m-6 12h8m-7-31h8m-8 31h8m-8 11h8m-7-52h8m-8 36h8m-7 0h8m-7-10h8m-8 3h8m-8 52h8m-7-111h8m-8 99h8m-8 4h8m-7-92h8m-8 24h8m-8 42h8m-7-52h8m-7-4h8m-8 21h8m-8 4h8m-8 21h8m-7-33h8m-7 54h8m-7-45h8m-8 32h8m-6-20h8m-8 4h8m-7-11h8m-8 25h8m-7-35h8m-8 6h8m-8 29h8m-8 12h8m-8 6h8m-7-99h8m-8 58h8m-7-6h8m-8 30h8m-8 14h8m-7-46h8m-8 10h8m-7-47h8m-8 39h8m-8 35h8m-8 21h8m-7-89h8m-8 38h8m-8 20h8m-8 1h8m-8 44h8m-7-87h8m-8 9h8m-8 33h8m-8 44h8m-7-69h8m-8 21h8m-8 21h8m-7-52h8m-8 4h8m-8 7h8m-7-22h8m-8 27h8m-8 0h8m-7 5h8m-8 8h8m-8 29h8m-7-52h8m-8 10h8m-8 9h8m-8 2h8m-8 20h8m-7-59h8m-8 1h8m-8 52h8m-7-23h8m-8 3h8m-8 0h8m-8 0h8m-8 48h8m-8 2h8m-7-111h8m-8 17h8m-8 40h8m-8 24h8m-8 22h8m-7-115h8m-8 9h8m-8 24h8m-8 4h8m-8 46h8m-8 7h8m-8 25h8m-7-60h8m-8 31h8m-7-20h8m-8 7h8m-8 13h8m-8 20h8m-7-61h8m-8 25h8m-8 6h8m-8 18h8m-7-60h8m-8 15h8m-8 13h8m-8 2h8m-8 15h8m-8 12h8m-8 9h8m-7-118h8m-8 55h8m-8 41h8m-8 4h8m-7-20h8m-8 2h8m-8 19h8m-7-15h8m-8 9h8m-8 30h8m-8 3h8m-7-61h8m-7-19h8m-8 31h8m-8 68h8m-7-100h8m-8 36h8m-7-31h8m-8 29h8m-8 20h8m-8 21h8m-8 14h8m-7-51h8m-8 24h8m-7 22h8m-7-56h8m-8 7h8m-8 18h8m-7-27h8m-8 25h8m-8 28h8m-8 17h8m-7-81h8m-8 34h8m-8 5h8m-8 37h8m-7-49h8m-7-26h8m-8 12h8m-8 2h8m-8 1h8m-8 2h8m-8 40h8m-8 14h8m-8 31h8m-7-101h8m-8 2h8m-8 48h8m-8 0h8m-8 3h8m-8 6h8m-7-66h8m-8 14h8m-8 5h8m-8 9h8m-8 12h8m-8 26h8m-8 3h8m-8 34h8m-7-56h8m-8 11h8m-8 10h8m-8 5h8m-8 11h8m-7-115h8m-8 40h8m-7-19h8m-8 9h8m-8 30h8m-8 7h8m-8 32h8m-8 6h8m-7-53h8m-8 13h8m-7-26h8m-8 25h8m-8 40h8m-8 1h8m-6-52h8m-8 5h8m-8 24h8m-7-44h8m-8 4h8m-8 10h8m-6-18h8m-8 9h8m-8 47h8m-7-84h8m-8 61h8m-7-25h8m-8 21h8m-7 0h8m-8 0h8m-8 30h8m-8 2h8m-8 23h8m-7-119h8m-8 46h8m-8 18h8m-8 4h8m-8 11h8m-6-63h8m-8 35h8m-8 12h8m-8 27h8m-8 5h8m-8 0h8m-8 7h8m-7-19h8m-8 7h8m-8 24h8m-7-126h8m-8 74h8m-8 1h8m-8 15h8m-8 3h8m-7-2h8m-8 16h8m-8 1h8m-8 10h8m-7-52h8m-8 10h8m-8 31h8m-8 23h8m-7-88h8m-8 20h8m-7-18h8m-8 21h8m-8 24h8m-8 17h8m-7-55h8m-8 82h8m-6-72h8m-8 11h8m-6-28h8m-8 11h8m-8 3h8m-8 9h8m-7 4h8m-8 4h8m-8 9h8m-7-21h8m-8 31h8m-7-28h8m-8 38h8m-7-32h8m-7-68h8m-8 116h8m-7-78h8m-8 35h8m-8 44h8m-7-62h8m-7 19h8m-8 14h8m-8 14h8m-7-56h8m-8 15h8m-8 13h8m-6 5h8m-8 24h8m-7-113h8m-8 55h8m-8 38h8m-7-9h8m-8 26h8m-7-52h8m-8 3h8m-8 9h8m-8 8h8m-7 8h8m-8 31h8m-7-52h8m-7 35h8m-6-64h8m-8 35h8m-7-6h8m-8 30h8m-7 44h8m-6-93h8m-7 31h8m-8 53h8m-7-46h8m-8 23h8m-7-6h8m-6-12h8m-7-24h8m-6 27h8m-7-45h8m-5 52h8m-7-34h8m-8 30h8m-7-29h8m-4 2h8m-5 25h8m-5 10h8m-5-44h8m-6 4h8m-7 49h8m-4-27h8m3-18h8" stroke="#2622c4" stroke-width="8" fill="none"/>
<path transform="scale(.1)" d="m2175 737h7m2 56h7m2 25h7m-1-61h7m-5 23h7m-5 14h7m-5-31h7m-7 43h7m-6-19h7m-3-75h7m-6 15h7m-6 65h7m-6-19h7m-7 20h7m-5-54h7m0-1h7m-5 9h7m-6-38h7m-7 37h7m-6 6h7m-6-16h7m-7 15h7m-7 31h7m-6-23h7m-6-9h7m-4 19h7m-7 57h7m-6-83h7m-5 40h7m-6-28h7m-7 4h7m-7 39h7m-6-13h7m-6-64h7m-5 39h7m-7 38h7m-6-21h7m-6-7h7m-6-17h7m-7 15h7m-7 60h7m-6-75h7m-5-28h7m-6 11h7m-7 36h7m-7 23h7m-6-41h7m-6-36h7m-7 42h7m-6 15h7m-7 22h7m-7 16h7m-6-72h7m-7 33h7m-7 46h7m-6-45h7m-6 18h7m-6-15h7m-6-24h7m-6 7h7m-7 12h7m-6-51h7m-7 20h7m-5 48h7m-6-7h7m-7 3h7m-5-34h7m-7 9h7m-6 10h7m-6-35h7m-7 37h7m-7 2h7m-7 10h7m-6-65h7m-7 58h7m-6-60h7m-7 35h7m-6 16h7m-7 3h7m-6-64h7m-7 14h7m-7 58h7m-6-55h7m-6 49h7m-6-24h7m-7 21h7m-7 2h7m-5-22h7m-7 93h7m-6-52h7m-6-35h7m-7 24h7m-5-2h7m-6-21h7m-6-40h7m-7 42h7m-6-10h7m-6 24h7m-7 9h7m-6-45h7m-7 17h7m-6-7h7m-7 38h7m-6-34h7m-5 23h7m-7 28h7m0-55h7m-5 25h7m-5 9h7m-2-29h7m-7 16h7m-6 10h7m-3-58h7m-6 86h7m-6-35h7m-3 59h7m-5-65h7m-3 19h7m-6-92h7m4 102h7" stroke="#3a36ee" stroke-width="7" fill="none"/>
<path transform="scale(.1)" d="m2112 937h8m-3-99h8m-2 162h8m-6 25h8m-7-66h8m-6-29h8m-7 18h8m-7-76h8m-6 88h8m-3-41h8m-5 39h8m-7 58h8m-2-176h8m-8 89h8m-7-60h8m-7 38h8m-4-36h8m-8 144h8m-7-73h8m-8 19h8m-7-59h8m-8 38h8m-8 27h8m-7-85h8m-5 41h8m-6 71h8m-7-40h8m-8 33h8m-8 6h8m-7-11h8m-7 48h8m-7-96h8m-8 47h8m-7-142h8m-6 114h8m-8 29h8m-8 8h8m-6-81h8m-8 124h8m-5-146h8m-7-28h8m-7 69h8m-7-24h8m-8 40h8m-8 8h8m-7-56h8m-8 25h8m-7 65h8m-6-42h8m-7-16h8m-7 6h8m-5-70h8m-8 15h8m-8 144h8m-5-145h8m-8 19h8m-6 177h8m-6-125h8m-7 87h8m-7-110h8m-7-61h8m-7 81h8m-8 75h8m-7-156h8m-8 21h8m-8 30h8m-8 93h8m-8 4h8m-8 12h8m-7-173h8m-7 23h8m-8 4h8m-8 20h8m-7-55h8m-8 32h8m-8 61h8m-7-100h8m-8 7h8m-8 162h8m-7-132h8m-8 30h8m-8 45h8m-8 23h8m-7-27h8m-7-29h8m-8 19h8m-8 3h8m-7-37h8m-8 46h8m-7-64h8m-8 12h8m-8 18h8m-8 4h8m-8 50h8m-7-46h8m-7-9h8m-8 47h8m-8 19h8m-8 8h8m-7 18h8m-7-149h8m-8 164h8m-7-171h8m-7 14h8m-8 37h8m-8 17h8m-7-27h8m-7 40h8m-8 15h8m-8 27h8m-7-132h8m-8 13h8m-8 113h8m-8 4h8m-8 9h8m-6-74h8m-8 35h8m-7 65h8m-7-6h8m-7-160h8m-8 17h8m-7 44h8m-8 14h8m-8 8h8m-8 158h8m-7-209h8m-8 59h8m-8 45h8m-7-53h8m-8 14h8m-8 26h8m-8 53h8m-7-150h8m-8 18h8m-8 1h8m-8 56h8m-8 12h8m-8 9h8m-8 62h8m-7-100h8m-8 56h8m-8 33h8m-7-147h8m-8 45h8m-7 93h8m-7-145h8m-8 53h8m-8 30h8m-8 44h8m-8 63h8m-7-151h8m-8 19h8m-8 11h8m-8 70h8m-7-59h8m-8 0h8m-8 19h8m-8 29h8m-7-74h8m-8 61h8m-7-26h8m-8 22h8m-7-135h8m-8 24h8m-8 100h8m-7-5h8m-8 31h8m-7-44h8m-8 39h8m-7-67h8m-8 51h8m-7-102h8m-8 45h8m-7-42h8m-8 3h8m-8 42h8m-8 69h8m-7-61h8m-7-46h8m-8 124h8m-7-157h8m-8 44h8m-8 120h8m-7-93h8m-7-21h8m-8 16h8m-8 13h8m-8 4h8m-8 0h8m-8 97h8m-6-102h8m-8 47h8m-8 4h8m-7-115h8m-8 78h8m-8 17h8m-8 51h8m-7-91h8m-8 20h8m-8 9h8m-7-51h8m-8 83h8m-8 12h8m-7-102h8m-8 19h8m-8 12h8m-8 47h8m-6-102h8m-8 26h8m-8 4h8m-8 15h8m-8 59h8m-7-45h8m-8 43h8m-7-77h8m-8 139h8m-7-130h8m-8 7h8m-8 16h8m-7-34h8m-8 9h8m-8 22h8m-8 79h8m-7-14h8m-7-34h8m-8 6h8m-8 51h8m-7-128h8m-8 14h8m-8 51h8m-8 44h8m-6-130h8m-8 42h8m-8 62h8m-8 35h8m-7-30h8m-8 28h8m-7-55h8m-8 1h8m-8 10h8m-8 45h8m-8 72h8m-7-165h8m-8 17h8m-8 71h8m-7-145h8m-8 56h8m-8 28h8m-8 37h8m-8 7h8m-8 37h8m-8 60h8m-7-153h8m-8 22h8m-8 25h8m-7-85h8m-8 51h8m-8 69h8m-7-140h8m-8 22h8m-8 76h8m-8 34h8m-7-142h8m-8 91h8m-8 22h8m-8 90h8m-7-135h8m-8 21h8m-8 31h8m-8 32h8m-7-91h8m-8 21h8m-8 9h8m-7-44h8m-8 23h8m-8 143h8m-7-185h8m-8 79h8m-8 71h8m-6-171h8m-8 53h8m-8 42h8m-8 64h8m-7-117h8m-8 19h8m-8 5h8m-8 14h8m-8 32h8m-6-70h8m-8 30h8m-8 3h8m-8 5h8m-8 3h8m-8 14h8m-8 28h8m-7-72h8m-7 12h8m-8 13h8m-7-35h8m-8 29h8m-8 12h8m-7-40h8m-8 36h8m-8 31h8m-8 4h8m-7-78h8m-8 10h8m-8 42h8m-8 29h8m-7-111h8m-8 99h8m-8 42h8m-8 3h8m-7-133h8m-8 21h8m-8 43h8m-8 22h8m-4-77h8m-7 19h8m-8 39h8m-7-6h8m-8 35h8m-7-114h8m-8 70h8m-8 15h8m-8 80h8m-7-124h8m-8 29h8m-7 0h8m-8 7h8m-8 104h8m-7-150h8m-8 6h8m-8 43h8m-8 15h8m-8 16h8m-8 68h8m-8 47h8m-7-154h8m-8 35h8m-8 45h8m-7-125h8m-7 20h8m-7 4h8m-7-20h8m-8 7h8m-8 48h8m-8 14h8m-7-104h8m-8 48h8m-8 51h8m-7 0h8m-8 2h8m-7-33h8m-7 29h8m-8 89h8m-7-162h8m-8 88h8m-8 10h8m-7 12h8m-8 20h8m-7-60h8m-7-74h8m-8 65h8m-8 59h8m-8 12h8m-7-118h8m-8 98h8m-7-74h8m-7 54h8m-7-53h8m-7 57h8m-7-76h8m-8 15h8m-7 26h8m-8 10h8m-7 5h8m-7-17h8m-7 87h8m-7-113h8m-8 4h8m-6-26h8m-8 83h8m-7-114h8m-7-1h8m-8 134h8m-7-64h8m-8 41h8m-7-36h8m-4-43h8m-8 26h8m-8 47h8m-8 10h8m-7 11h8m-7 11h8m-7-89h8m-8 29h8m-4 14h8m-8 15h8m-7-2h8m-7-43h8m-8 34h8m-5 38h8m-5-2h8m-7-35h8m-6 12h8m-6 99h8m-6-111h8m-6 70h8m-5-17h8m-7-101h8m-7 121h8m-7 10h8m-7-39h8m2 66h8m-8 4h8m-5-148h8m-7-2h8m-3 49h8m-7-73h8" stroke="#18147c" stroke-width="8" fill="none"/>
<path transform="scale(.1)" d="m2139 880h7m24 56h7m2-37h7m1-22h7m-3-28h7m3 7h7m-7 27h7m-3-13h7m-7 76h7m-5-24h7m-6-1h7m-1-73h7m-5-27h7m-7 9h7m-7 74h7m-7 57h7m-3-32h7m-6-3h7m-7 73h7m-5-65h7m-3-55h7m-6 13h7m-7 5h7m-2-63h7m-7 61h7m0 13h7m-6-67h7m-7 78h7m-4 16h7m-7 21h7m-5-56h7m-7 16h7m-6 45h7m-6-57h7m-4 21h7m-6-20h7m-6 3h7m-7 9h7m-6-51h7m-7 35h7m-7 39h7m-4-52h7m-7 67h7m-6-94h7m-6-32h7m-7 71h7m-7 9h7m-7 2h7m-6-20h7m-7 23h7m-7 29h7m-6-31h7m-3-25h7m-6 45h7m-6 9h7m-6-52h7m-7 7h7m-6-33h7m-7 18h7m-7 12h7m-7 16h7m-5-54h7m-7 25h7m-7 16h7m-7 30h7m-6-49h7m-7 29h7m-7 19h7m-6-78h7m-6 65h7m-7 8h7m-6-38h7m-4 15h7m-7 17h7m-6 7h7m-6-44h7m-7 6h7m-7 12h7m-7 10h7m-6-34h7m-7 31h7m-4 49h7m-6-103h7m-6 62h7m-6-36h7m-6 51h7m-6 13h7m-7 17h7m-6-109h7m-7 142h7m-4-106h7m-6 2h7m-5-18h7m-7 17h7m-6 12h7m-5 18h7m-6-9h7m0-73h7m-7 19h7m-7 97h7m-4 45h7m-4-77h7m-6-44h7m-7 25h7m-2-21h7m-7 73h7m-7 40h7m-3-21h7m-6-20h7m-6-63h7m-6-60h7m-7 86h7m-6-34h7m-7 28h7m-6-2h7m-6 20h7m-5-46h7m-7 54h7m-5-22h7m-4 6h7m-7 11h7m-2-30h7m2 13h7m-4-71h7m-7 1h7m-4 41h7m-5 33h7m14 72h7m-5-94h7m-2 0h7" stroke="#3a36e0" stroke-width="7" fill="none"/>
<path transform="scale(.1)" d="m2354 854h8m-7 10h8m-8 61h8m-8 64h8m-7-42h8m-5-107h8m-8 97h8m-5 26h8m-7-97h8m-8 64h8m-8 131h8m-7-117h8m-7-59h8m-6-46h8m-6 39h8m-7 18h8m-7 42h8m-7-41h8m-8 159h8m-3-102h8m-8 42h8m-6-63h8m-8 12h8m-6-25h8m-7 102h8m-7-117h8m-7-15h8m-8 40h8m-6-56h8m-8 45h8m-8 106h8m-7-98h8m-8 125h8m-7-125h8m-8 8h8m-7-28h8m-8 18h8m-8 24h8m-7-112h8m-8 41h8m-8 4h8m-8 19h8m-8 111h8m-7-31h8m-7-48h8m-8 64h8m-7 83h8m-7-157h8m-8 94h8m-7-97h8m-8 85h8m-6-107h8m-7 101h8m-7-80h8m-8 3h8m-8 6h8m-8 34h8m-7-81h8m-8 23h8m-8 39h8m-8 7h8m-8 133h8m-7-202h8m-8 24h8m-8 31h8m-8 6h8m-8 44h8m-7-64h8m-8 83h8m-7-27h8m-8 8h8m-7-62h8m-8 36h8m-8 18h8m-7-116h8m-8 21h8m-8 0h8m-8 17h8m-8 64h8m-8 17h8m-8 4h8m-8 17h8m-7-137h8m-8 133h8m-8 35h8m-6-173h8m-8 159h8m-8 56h8m-7-227h8m-7 48h8m-8 21h8m-8 21h8m-7 4h8m-8 8h8m-8 26h8m-8 41h8m-7-166h8m-8 75h8m-7-57h8m-7 37h8m-8 50h8m-7-26h8m-7-51h8m-7 25h8m-8 103h8m-7-48h8m-7-105h8m-8 65h8m-7-43h8m-8 18h8m-8 2h8m-8 32h8m-8 102h8m-7-135h8m-8 42h8m-8 62h8m-7-92h8m-8 19h8m-8 61h8m-8 0h8m-7-55h8m-8 26h8m-8 1h8m-8 71h8m-7-165h8m-8 55h8m-8 21h8m-7-14h8m-7 14h8m-8 40h8m-7-51h8m-8 30h8m-7-115h8m-8 12h8m-8 1h8m-8 216h8m-7-149h8m-8 78h8m-8 21h8m-7-152h8m-8 9h8m-8 41h8m-8 2h8m-8 4h8m-8 12h8m-8 37h8m-6-71h8m-8 55h8m-8 46h8m-7-123h8m-7-44h8m-8 86h8m-6 4h8m-8 2h8m-8 32h8m-7-68h8m-8 34h8m-7-89h8m-8 41h8m-7 31h8m-8 6h8m-6 20h8m-7-30h8m-8 13h8m-8 9h8m-8 82h8m-7-73h8m-8 4h8m-8 55h8m-7-107h8m-8 93h8m-7-108h8m-8 81h8m-8 6h8m-6-72h8m-8 27h8m-7-47h8m-8 106h8m-8 8h8m-8 13h8m-8 61h8m-7-206h8m-8 103h8m-7-21h8m-7-26h8m-7 1h8m-8 11h8m-7 8h8m-8 21h8m-8 7h8m-8 16h8m-7-80h8m-8 65h8m-8 3h8m-8 7h8m-8 1h8m-7 13h8m-6-92h8m-6 80h8m-8 15h8m-7-143h8m-6 104h8m-8 28h8m-7-20h8m-8 85h8m-7-93h8m-7-96h8m-8 18h8m-6 92h8m-7-113h8m-5 64h8m-7-36h8m-8 71h8m-7-76h8m-8 44h8m-5 61h8m-7-59h8m-7 34h8m-4 15h8m-5-128h8m-6 112h8m-8 9h8m-7 42h8m-7-72h8m-6-31h8m-4 3h8m-5-40h8m-6 110h8m-3-5h8m-4 26h8" stroke="#7670f0" stroke-width="8" fill="none"/>
<path transform="scale(.1)" d="m2358 864h7m-7 168h7m-6-104h7m-3 4h7m-7 12h7m0 17h7m-6-72h7m-6-12h7m-1 42h7m-7 25h7m-4 19h7m-4-125h7m-6 26h7m-5 46h7m-7 35h7m-7 55h7m-6-91h7m-7 113h7m-1-84h7m-5-13h7m-6 59h7m-7 59h7m-6-182h7m-7 44h7m-7 46h7m-6-24h7m-6 2h7m-5-21h7m-4 9h7m-7 33h7m-7 15h7m-7 35h7m-5-106h7m-6 60h7m-4 10h7m-6-51h7m-7 2h7m-6 64h7m-6 14h7m-7 41h7m-5-199h7m-6 7h7m-7 105h7m-7 7h7m-4-103h7m-4 83h7m-6 50h7m-6-90h7m-7 15h7m-5 132h7m-6-137h7m-7 114h7m-5-155h7m-7 93h7m-5-29h7m-6-28h7m-7 38h7m-5-81h7m-4 71h7m-2-81h7m-7 111h7m-4-53h7m-6 42h7m-4-57h7m-5 45h7m-5 14h7m-6-96h7m-7 159h7m-2-165h7m-2 179h7m-5-128h7m-7 7h7m-5-21h7m2 84h7m-7 47h7m-1-69h7m-3-102h7m-6 202h7m-4-74h7m-1-53h7" stroke="#2a24c0" stroke-width="7" fill="none"/>
<path transform="scale(.1)" d="m2340 763h7m14 15h7m-4-39h7m-7 20h7m-6-4h7m14 34h7m-7 10h7m-4-43h7m-1 53h7m-4-29h7m-6-29h7m-3 16h7m-6-4h7m-6-20h7m-7 2h7m-2 63h7m-5-50h7m-5 26h7m-2 22h7m-1-62h7m-6-4h7m-4 49h7m-4-5h7m-3 12h7m-2-37h7m-7 2h7m-2-6h7m0 7h7m-5 11h7m1-1h7m0-2h7m-6 25h7m-4-44h7m-5 27h7m-5 5h7m17-25h7m18 32h7m-5-5h7m8 13h7m-2-50h7" stroke="#1c188c" stroke-width="7" fill="none"/>
<rect x="202" y="29.2" width="81.60000000000002" height="85.1" fill="none" stroke="#3c3c3c" stroke-width="0.85"/>
<line x1="235.4" y1="29.2" x2="235.4" y2="114.3" stroke="#444" stroke-width="0.8"/>
<line x1="202" y1="83.3" x2="283.6" y2="83.3" stroke="#444" stroke-width="0.8"/>
<path d="M198.7 37.3h3.3M198.7 56.4h3.3M198.7 75.5h3.3M198.7 94.6h3.3M200.1 50.7h1.9M200.1 47.3h1.9M200.1 44.9h1.9M200.1 43.0h1.9M200.1 41.5h1.9M200.1 40.3h1.9M200.1 39.2h1.9M200.1 38.2h1.9M200.1 69.8h1.9M200.1 66.4h1.9M200.1 64.0h1.9M200.1 62.1h1.9M200.1 60.6h1.9M200.1 59.4h1.9M200.1 58.3h1.9M200.1 57.3h1.9M200.1 88.9h1.9M200.1 85.5h1.9M200.1 83.1h1.9M200.1 81.2h1.9M200.1 79.7h1.9M200.1 78.5h1.9M200.1 77.4h1.9M200.1 76.4h1.9M200.1 102.2h1.9M200.1 100.3h1.9M200.1 98.8h1.9M200.1 97.6h1.9M200.1 96.5h1.9M200.1 95.5h1.9M200.1 99.8h1.9M200.1 101.9h1.9M200.1 104.0h1.9M200.1 106.1h1.9M200.1 108.2h1.9M200.1 110.3h1.9M200.1 112.4h1.9" stroke="#222" stroke-width="0.7" fill="none"/>
<text x="196.8" y="39.9" font-size="4.6" fill="#111" font-weight="bold" transform="rotate(-90 196.8 39.9)">10<tspan dy="-1.6" font-size="3">5</tspan></text>
<text x="196.8" y="59.0" font-size="4.6" fill="#111" font-weight="bold" transform="rotate(-90 196.8 59.0)">10<tspan dy="-1.6" font-size="3">4</tspan></text>
<text x="196.8" y="78.1" font-size="4.6" fill="#111" font-weight="bold" transform="rotate(-90 196.8 78.1)">10<tspan dy="-1.6" font-size="3">3</tspan></text>
<text x="196.8" y="97.2" font-size="4.6" fill="#111" font-weight="bold" transform="rotate(-90 196.8 97.2)">10<tspan dy="-1.6" font-size="3">2</tspan></text>
<rect x="193.0" y="103.3" width="4.4" height="1.5" fill="#111"/>
<text x="195.8" y="113.8" font-size="3.6" fill="#333" font-weight="bold" transform="rotate(-90 195.8 113.8)">-204</text>
<path d="M219.0 114.3v3.3M235.6 114.3v3.3M256.3 114.3v3.3M277.0 114.3v3.3M241.8 114.3v1.9M245.5 114.3v1.9M248.1 114.3v1.9M250.1 114.3v1.9M251.7 114.3v1.9M253.1 114.3v1.9M254.3 114.3v1.9M255.4 114.3v1.9M262.5 114.3v1.9M266.2 114.3v1.9M268.8 114.3v1.9M270.8 114.3v1.9M272.4 114.3v1.9M273.8 114.3v1.9M275.0 114.3v1.9M276.1 114.3v1.9M205.7 114.3v1.9M207.6 114.3v1.9M209.5 114.3v1.9M211.4 114.3v1.9M213.3 114.3v1.9M215.2 114.3v1.9M217.1 114.3v1.9M220.9 114.3v1.9M222.8 114.3v1.9M224.7 114.3v1.9M226.6 114.3v1.9M228.5 114.3v1.9M230.4 114.3v1.9M232.3 114.3v1.9M234.2 114.3v1.9" stroke="#222" stroke-width="0.7" fill="none"/>
<text x="219.0" y="121.7" font-size="4.6" fill="#111" text-anchor="middle" font-weight="bold">0</text>
<text x="235.9" y="121.9" font-size="4.6" fill="#111" text-anchor="middle" font-weight="bold">10<tspan dy="-1.6" font-size="3">3</tspan></text>
<text x="256.6" y="121.9" font-size="4.6" fill="#111" text-anchor="middle" font-weight="bold">10<tspan dy="-1.6" font-size="3">4</tspan></text>
<text x="277.3" y="121.9" font-size="4.6" fill="#111" text-anchor="middle" font-weight="bold">10<tspan dy="-1.6" font-size="3">5</tspan></text>
<text x="204.6" y="125.9" font-size="4" fill="#222" text-anchor="middle" font-weight="bold">-1,262</text>
<text x="207.3" y="46.599999999999994" font-size="18" text-anchor="start" font-weight="bold" fill="#000" stroke="#000" stroke-width="0.22">B</text>
<text x="238" y="41.5" font-size="11" text-anchor="start" fill="#111" stroke="#111" stroke-width="0.22">CX3CR1</text>
<text x="257.20000000000005" y="103.5" font-size="8.7" text-anchor="start" fill="#333" stroke="#333" stroke-width="0.22">25 %</text>
<path transform="scale(.1)" d="m3304 842h8m-5 8h8m-8 79h8m-7-21h8m-3 5h8m-4 104h8m-3-66h8m-4-1h8m-7 66h8m-6-186h8m-7 109h8m-7-31h8m-5-14h8m-5-5h8m-8 84h8m-7-1h8m-7-63h8m-7 26h8m0-9h8m-6 47h8m-5-73h8m-7-53h8m-7 69h8m-8 83h8m-7-126h8m-8 13h8m-8 34h8m-7-65h8m-7 92h8m-5-42h8m-6-34h8m-8 16h8m-6 56h8m-7-9h8m-7-93h8m-6-5h8m-8 22h8m-7 43h8m-8 19h8m-6-55h8m-8 74h8m-7-80h8m-7 54h8m-7-15h8m-8 14h8m-8 39h8m-7-128h8m-8 74h8m-8 66h8m-7-61h8m-7 0h8m-8 29h8m-8 25h8m-8 53h8m-7-136h8m-6 132h8m-7-57h8m-7-44h8m-8 59h8m-7 26h8m-7-101h8m-7-3h8m-8 2h8m-8 43h8m-8 29h8m-7-5h8m-7-85h8m-8 60h8m-7-113h8m-8 55h8m-8 43h8m-8 36h8m-7 18h8m-7-75h8m-8 56h8m-8 47h8m-7 17h8m-7-176h8m-8 146h8m-8 43h8m-7-101h8m-8 36h8m-6-22h8m-7-59h8m-7-7h8m-8 34h8m-8 14h8m-8 9h8m-8 19h8m-6-114h8m-8 47h8m-7 17h8m-8 31h8m-8 45h8m-7-72h8m-7-67h8m-7 86h8m-8 32h8m-8 1h8m-8 1h8m-7 14h8m-7-34h8m-7 3h8m-7-79h8m-8 55h8m-8 66h8m-7-120h8m-8 41h8m-8 7h8m-8 26h8m-8 23h8m-8 82h8m-7-264h8m-7 109h8m-8 3h8m-8 16h8m-8 40h8m-8 4h8m-7-112h8m-8 91h8m-8 24h8m-7-13h8m-8 13h8m-7-33h8m-8 47h8m-7-61h8m-8 88h8m-7-125h8m-8 56h8m-8 5h8m-7-64h8m-8 133h8m-6-108h8m-8 5h8m-8 74h8m-8 10h8m-8 31h8m-7-130h8m-8 15h8m-8 31h8m-8 46h8m-8 20h8m-6-1h8m-7-147h8m-8 92h8m-8 25h8m-6-93h8m-8 24h8m-8 38h8m-8 41h8m-7-112h8m-8 122h8m-7-169h8m-8 88h8m-8 123h8m-7-137h8m-8 43h8m-8 46h8m-7-92h8m-8 16h8m-8 83h8m-7-142h8m-8 100h8m-8 40h8m-7-64h8m-7 5h8m-8 13h8m-8 47h8m-7-29h8m-8 98h8m-7-128h8m-8 41h8m-7-66h8m-8 28h8m-7-54h8m-8 52h8m-8 28h8m-7-69h8m-8 2h8m-8 81h8m-8 10h8m-7-119h8m-8 164h8m-7-113h8m-8 3h8m-8 14h8m-8 62h8m-7-130h8m-8 2h8m-8 67h8m-8 72h8m-7-88h8m-8 18h8m-8 5h8m-8 63h8m-7-80h8m-8 17h8m-8 9h8m-8 49h8m-7-121h8m-7 70h8m-8 26h8m-8 3h8m-7-34h8m-8 7h8m-7-60h8m-8 25h8m-8 5h8m-8 55h8m-8 36h8m-7-79h8m-8 24h8m-8 36h8m-7-56h8m-8 42h8m-8 3h8m-8 34h8m-7-103h8m-8 41h8m-7-38h8m-8 23h8m-8 83h8m-7-130h8m-8 3h8m-8 13h8m-8 10h8m-8 1h8m-8 1h8m-8 26h8m-8 10h8m-7-41h8m-7 10h8m-8 69h8m-8 17h8m-7-117h8m-8 32h8m-7-42h8m-8 25h8m-8 4h8m-8 9h8m-8 13h8m-8 18h8m-8 18h8m-8 18h8m-7-87h8m-8 1h8m-8 28h8m-8 6h8m-8 1h8m-7-55h8m-8 33h8m-8 59h8m-7-136h8m-8 39h8m-8 39h8m-8 3h8m-7-90h8m-8 97h8m-8 20h8m-8 4h8m-8 56h8m-7-144h8m-8 62h8m-8 6h8m-7 0h8m-8 12h8m-8 13h8m-7-140h8m-8 67h8m-8 59h8m-8 22h8m-7-96h8m-7-23h8m-8 1h8m-8 12h8m-8 105h8m-8 15h8m-5-72h8m-8 57h8m-8 7h8m-8 21h8m-8 36h8m-7-84h8m-8 15h8m-8 23h8m-8 5h8m-7-100h8m-8 21h8m-8 52h8m-7-134h8m-7 175h8m-7-84h8m-8 16h8m-8 1h8m-7-107h8m-8 70h8m-7-25h8m-8 64h8m-7-13h8m-8 69h8m-7-144h8m-8 36h8m-8 115h8m-7-155h8m-8 30h8m-8 37h8m-8 21h8m-7 52h8m-7-78h8m-8 28h8m-8 28h8m-8 46h8m-7-167h8m-8 80h8m-8 36h8m-7-34h8m-8 60h8m-7-120h8m-8 12h8m-8 98h8m-7-112h8m-8 39h8m-8 22h8m-8 45h8m-8 42h8m-7-160h8m-8 0h8m-8 20h8m-8 51h8m-8 65h8m-7-110h8m-8 30h8m-8 97h8m-7-154h8m-8 1h8m-8 2h8m-8 53h8m-7-22h8m-8 7h8m-8 81h8m-8 37h8m-8 4h8m-7-159h8m-8 9h8m-8 161h8m-7-126h8m-8 5h8m-8 15h8m-8 2h8m-7-11h8m-8 6h8m-8 65h8m-8 28h8m-7-156h8m-8 60h8m-8 2h8m-8 26h8m-7-65h8m-8 37h8m-8 4h8m-7-30h8m-8 83h8m-7-57h8m-8 12h8m-8 19h8m-7-64h8m-8 19h8m-8 54h8m-7-42h8m-8 48h8m-8 9h8m-7-96h8m-8 16h8m-7 42h8m-8 22h8m-8 19h8m-7-4h8m-8 34h8m-7-93h8m-8 6h8m-8 40h8m-8 16h8m-7-19h8m-8 17h8m-7-89h8m-8 37h8m-8 46h8m-8 16h8m-7-28h8m-8 5h8m-7-27h8m-7 11h8m-8 29h8m-7-153h8m-8 54h8m-7 66h8m-8 9h8m-8 115h8m-7-126h8m-8 62h8m-6-110h8m-8 25h8m-8 112h8m-7-166h8m-8 100h8m-8 19h8m-8 71h8m-7-236h8m-8 96h8m-8 28h8m-7 14h8m-8 34h8m-8 1h8m-7-88h8m-8 66h8m-8 48h8m-7-133h8m-7 85h8m-8 17h8m-7-29h8m-8 29h8m-7-72h8m-8 10h8m-6 13h8m-7-90h8m-8 109h8m-8 45h8m-7-211h8m-8 137h8m-8 8h8m-8 25h8m-7-54h8m-8 52h8m-8 2h8m-7-114h8m-7 70h8m-8 31h8m-8 3h8m-8 22h8m-7-43h8m-8 7h8m-8 31h8m-8 14h8m-8 30h8m-7-25h8m-7 4h8m-7-119h8m-8 14h8m-8 50h8m-7-70h8m-8 52h8m-8 70h8m-7 27h8m-7-92h8m-8 13h8m-7-91h8m-8 200h8m-7-167h8m-8 28h8m-8 65h8m-8 18h8m-7-40h8m-7 29h8m-7-48h8m-7-88h8m-8 95h8m-8 55h8m-7-86h8m-8 48h8m-8 24h8m-8 11h8m-6-87h8m-6 75h8m-6-90h8m-8 61h8m-8 1h8m-5-7h8m-8 1h8m-8 21h8m-8 11h8m-6-49h8m-8 10h8m-6-2h8m-8 42h8m-6-85h8m-8 57h8m-8 22h8m-8 15h8m-5-98h8m-8 12h8m-8 94h8m-7-26h8m-8 6h8m-7 15h8m-7-77h8m-6 17h8m-8 9h8m-8 13h8m-7 5h8m-5-51h8m-7-57h8m-8 75h8m-7 22h8m-8 12h8m-7-36h8m-8 2h8m-8 32h8m-6-83h8m-8 90h8m-7-146h8m-8 75h8m-7 50h8m-6 28h8m-7-16h8m-7-34h8m-8 48h8m-7-69h8m-7 96h8m-6-17h8m-7-5h8m-7 10h8m-7-18h8m-7-13h8m-6-19h8m-6 24h8m-7-46h8m-4 28h8m-4 81h8m-6-27h8m-7-101h8m-5 65h8m-7-14h8m-3-45h8m0 47h8m-5 30h8m-7-72h8m0 44h8m-4-34h8m3-18h8m6 109h8" stroke="#200505" stroke-width="8" fill="none"/>
<path transform="scale(.1)" d="m3319 808h8m-3 31h8m-7 70h8m-2-22h8m4 29h8m0-55h8m-8 60h8m-7-26h8m-4-26h8m-3 36h8m-6-51h8m-7 112h8m-6-43h8m-3-60h8m-4 39h8m-6-37h8m-3 119h8m-7 23h8m-6-78h8m-5 17h8m-6-22h8m-7-72h8m-8 72h8m-6-58h8m-7 24h8m-8 61h8m-6-63h8m-8 36h8m-2 23h8m-7-37h8m-8 47h8m-6-140h8m-8 88h8m-2 40h8m-7 1h8m-8 31h8m-7-170h8m-8 143h8m-7-122h8m-8 84h8m-6-67h8m-7 73h8m-8 19h8m-7-4h8m-7 43h8m-6-71h8m-8 22h8m-6-38h8m-8 16h8m-8 63h8m-7-27h8m-4-45h8m-6 53h8m-8 6h8m-8 4h8m-6 2h8m-4-113h8m-7 62h8m-8 44h8m-5-32h8m-7-55h8m-7-3h8m-7-28h8m-8 51h8m-7-11h8m-8 54h8m-6 19h8m-7-48h8m-6-28h8m-8 96h8m-8 1h8m-7-122h8m-7 17h8m-7 17h8m-8 87h8m-8 2h8m-7-131h8m-8 45h8m-7 27h8m-7-70h8m-8 93h8m-7-16h8m-8 62h8m-6-112h8m-8 39h8m-8 68h8m-7-98h8m-7-24h8m-7 14h8m-8 45h8m-8 4h8m-7-12h8m-8 23h8m-7-15h8m-8 20h8m-8 75h8m-7-173h8m-8 142h8m-7-86h8m-3 8h8m-6 7h8m-8 83h8m-6-107h8m-8 17h8m-6-62h8m-8 142h8m-7-173h8m-8 114h8m-8 5h8m-7-38h8m-8 58h8m-7-122h8m-7 100h8m-7-9h8m-8 16h8m-7 63h8m-7-23h8m-7 1h8m-8 9h8m-7-99h8m-8 54h8m-7-31h8m-8 37h8m-8 6h8m-8 44h8m-7 23h8m-7-115h8m-8 5h8m-8 40h8m-8 19h8m-6-30h8m-7-156h8m-7 152h8m-7-37h8m-7 36h8m-7-24h8m-7 22h8m-8 28h8m-8 30h8m-7-142h8m-8 26h8m-6 96h8m-7-2h8m-4 28h8m-7 61h8m-5-147h8m-8 42h8m-7-34h8m-7 65h8m-7-127h8m-8 32h8m-8 74h8m-4-59h8m-8 130h8m-6-88h8m-6-1h8m-7-107h8m-8 48h8m-6 25h8m-7 45h8m-7-35h8m-5 4h8m-7-16h8m-6-14h8m-8 16h8m-8 35h8m-7-81h8m-8 14h8m-7 71h8m-8 47h8m-7-58h8m-7 78h8m-7-97h8m-8 54h8m-6-27h8m-7-91h8m-7 67h8m-8 54h8m-2-57h8m-8 85h8m-7-118h8m-7 69h8m-7-121h8m-8 50h8m-7 62h8m-7-53h8m-6 82h8m-6-121h8m-7 15h8m-2 49h8m-6 8h8m8-69h8m-5 119h8m-7-89h8m-6-43h8m1 73h8m3 10h8m-6 48h8m-4-23h8m39-34h8" stroke="#5a0c0c" stroke-width="8" fill="none"/>
<g filter="url(#b2)" fill="#2a0505"><ellipse cx="375" cy="90.5" rx="4.6" ry="6.6"/></g>
<path transform="scale(.1)" d="m3631 914h8m-5-19h8m-4 101h8m-4-112h8m-3 129h8m-5-183h8m-8 26h8m-8 171h8m-6-169h8m-7 5h8m-8 6h8m-5-25h8m-7 52h8m-6 50h8m-7-19h8m-5-54h8m-8 3h8m-8 21h8m-6 25h8m-8 14h8m-6-121h8m-8 85h8m-7 18h8m-8 116h8m-7-163h8m-8 20h8m-8 52h8m-8 5h8m-7-44h8m-8 19h8m-8 80h8m-7-118h8m-8 32h8m-7-32h8m-8 42h8m-7-68h8m-8 45h8m-8 20h8m-8 7h8m-6 37h8m-8 28h8m-8 1h8m-7-96h8m-6-61h8m-8 92h8m-8 7h8m-8 16h8m-7-161h8m-8 61h8m-8 14h8m-8 97h8m-8 45h8m-8 0h8m-7-169h8m-8 13h8m-8 47h8m-8 55h8m-8 54h8m-7-120h8m-8 27h8m-8 6h8m-8 41h8m-8 13h8m-8 13h8m-7-47h8m-8 24h8m-7-99h8m-8 11h8m-8 1h8m-8 0h8m-8 43h8m-7 21h8m-7-95h8m-8 116h8m-7-122h8m-8 34h8m-8 41h8m-8 13h8m-8 35h8m-8 41h8m-7-190h8m-8 81h8m-7-8h8m-8 29h8m-8 21h8m-8 13h8m-7-166h8m-8 51h8m-8 56h8m-7-18h8m-8 23h8m-8 58h8m-8 58h8m-7-177h8m-8 8h8m-8 125h8m-8 8h8m-7-157h8m-8 42h8m-8 3h8m-8 15h8m-8 74h8m-8 3h8m-7-106h8m-8 125h8m-7-137h8m-8 59h8m-8 14h8m-7-101h8m-8 45h8m-8 64h8m-8 7h8m-8 2h8m-7-47h8m-8 1h8m-8 20h8m-8 37h8m-8 34h8m-7-115h8m-8 7h8m-8 17h8m-8 131h8m-7-212h8m-8 115h8m-8 8h8m-8 8h8m-8 10h8m-7-138h8m-8 18h8m-8 50h8m-8 42h8m-8 1h8m-8 10h8m-8 13h8m-8 1h8m-8 22h8m-8 8h8m-7-105h8m-8 72h8m-7-93h8m-8 22h8m-8 65h8m-7-49h8m-8 26h8m-8 10h8m-8 23h8m-7-94h8m-8 10h8m-8 34h8m-8 1h8m-8 21h8m-8 3h8m-8 15h8m-8 17h8m-8 15h8m-8 4h8m-7-114h8m-8 5h8m-8 25h8m-8 12h8m-8 2h8m-8 3h8m-8 56h8m-7-107h8m-8 38h8m-8 1h8m-8 0h8m-8 58h8m-7-85h8m-8 40h8m-8 1h8m-8 26h8m-8 29h8m-7-124h8m-8 5h8m-8 23h8m-8 16h8m-8 12h8m-8 3h8m-8 21h8m-8 14h8m-8 66h8m-7-159h8m-8 8h8m-8 31h8m-8 3h8m-8 2h8m-8 25h8m-8 18h8m-8 39h8m-7-91h8m-8 6h8m-8 1h8m-8 8h8m-8 7h8m-8 14h8m-8 1h8m-8 9h8m-8 13h8m-8 10h8m-8 22h8m-8 12h8m-7-72h8m-8 7h8m-8 20h8m-8 1h8m-8 1h8m-8 2h8m-8 13h8m-7-79h8m-8 11h8m-8 7h8m-8 2h8m-8 16h8m-8 17h8m-8 33h8m-7-106h8m-8 44h8m-8 3h8m-8 1h8m-8 29h8m-8 11h8m-8 34h8m-7-172h8m-8 17h8m-8 49h8m-8 17h8m-8 1h8m-8 4h8m-8 16h8m-8 6h8m-8 42h8m-8 11h8m-8 2h8m-8 42h8m-7-124h8m-8 0h8m-8 5h8m-8 4h8m-8 4h8m-8 1h8m-8 63h8m-7-167h8m-8 61h8m-8 33h8m-8 11h8m-8 22h8m-8 22h8m-8 36h8m-8 8h8m-8 11h8m-8 16h8m-7-150h8m-8 43h8m-8 9h8m-8 28h8m-8 13h8m-8 5h8m-8 4h8m-7-142h8m-8 61h8m-8 43h8m-8 14h8m-8 11h8m-8 62h8m-7-226h8m-8 37h8m-8 26h8m-8 3h8m-8 0h8m-8 52h8m-8 28h8m-8 1h8m-8 9h8m-8 26h8m-7-119h8m-8 1h8m-8 34h8m-8 2h8m-8 19h8m-8 12h8m-8 2h8m-8 12h8m-8 13h8m-8 2h8m-8 1h8m-8 5h8m-8 12h8m-8 11h8m-8 27h8m-7-155h8m-8 12h8m-8 1h8m-8 4h8m-8 6h8m-8 16h8m-8 14h8m-8 9h8m-8 22h8m-8 10h8m-8 22h8m-8 14h8m-8 10h8m-7-151h8m-8 50h8m-8 29h8m-8 15h8m-8 3h8m-8 9h8m-8 24h8m-7-174h8m-8 32h8m-8 16h8m-8 21h8m-8 55h8m-8 4h8m-8 2h8m-8 8h8m-8 21h8m-7-165h8m-8 1h8m-8 50h8m-8 43h8m-8 28h8m-8 22h8m-7-120h8m-8 29h8m-8 26h8m-8 4h8m-8 9h8m-8 0h8m-8 25h8m-8 4h8m-8 8h8m-8 6h8m-8 8h8m-8 16h8m-8 3h8m-8 3h8m-8 9h8m-8 8h8m-7-170h8m-8 66h8m-8 19h8m-8 15h8m-8 2h8m-8 12h8m-8 9h8m-8 41h8m-8 5h8m-8 18h8m-7-158h8m-8 46h8m-8 18h8m-8 7h8m-8 16h8m-8 34h8m-8 21h8m-8 1h8m-8 29h8m-8 12h8m-7-218h8m-8 13h8m-8 10h8m-8 17h8m-8 41h8m-8 13h8m-8 25h8m-8 11h8m-8 15h8m-8 8h8m-8 8h8m-8 13h8m-8 68h8m-7-221h8m-8 24h8m-8 20h8m-8 7h8m-8 8h8m-8 0h8m-8 18h8m-8 4h8m-8 40h8m-8 23h8m-7-126h8m-8 11h8m-8 26h8m-8 4h8m-8 6h8m-8 18h8m-8 0h8m-8 9h8m-8 2h8m-8 4h8m-8 11h8m-8 15h8m-7-104h8m-8 12h8m-8 13h8m-8 3h8m-8 4h8m-8 3h8m-8 1h8m-8 13h8m-8 15h8m-8 25h8m-8 22h8m-8 6h8m-8 7h8m-8 20h8m-7-140h8m-8 10h8m-8 16h8m-8 22h8m-8 5h8m-8 1h8m-8 5h8m-8 2h8m-8 37h8m-8 3h8m-8 12h8m-8 8h8m-8 6h8m-8 21h8m-8 49h8m-7-197h8m-8 16h8m-8 19h8m-8 10h8m-8 3h8m-8 3h8m-8 11h8m-8 5h8m-8 2h8m-8 20h8m-8 8h8m-8 8h8m-8 13h8m-8 11h8m-8 62h8m-7-219h8m-8 26h8m-8 24h8m-8 12h8m-8 3h8m-8 6h8m-8 2h8m-8 2h8m-8 3h8m-8 17h8m-8 34h8m-8 12h8m-8 7h8m-8 13h8m-8 7h8m-8 38h8m-7-220h8m-8 25h8m-8 3h8m-8 10h8m-8 18h8m-8 9h8m-8 4h8m-8 26h8m-8 43h8m-8 5h8m-8 35h8m-8 17h8m-8 12h8m-8 4h8m-7-180h8m-8 4h8m-8 24h8m-8 5h8m-8 24h8m-8 1h8m-8 6h8m-8 7h8m-8 4h8m-8 0h8m-8 11h8m-8 9h8m-8 8h8m-8 5h8m-8 7h8m-8 8h8m-8 5h8m-8 38h8m-7-163h8m-8 68h8m-8 11h8m-8 17h8m-8 1h8m-8 5h8m-8 18h8m-8 9h8m-8 34h8m-8 46h8m-7-192h8m-8 42h8m-8 6h8m-8 9h8m-8 1h8m-8 7h8m-8 30h8m-8 19h8m-8 21h8m-8 15h8m-7-190h8m-8 65h8m-8 22h8m-8 8h8m-8 26h8m-8 1h8m-8 17h8m-8 21h8m-8 0h8m-8 1h8m-8 23h8m-8 31h8m-8 40h8m-7-219h8m-8 5h8m-8 11h8m-8 16h8m-8 29h8m-8 11h8m-8 2h8m-8 14h8m-8 12h8m-8 1h8m-8 19h8m-7-104h8m-8 12h8m-8 25h8m-8 14h8m-8 3h8m-8 4h8m-8 5h8m-8 3h8m-8 8h8m-8 7h8m-8 12h8m-8 9h8m-8 17h8m-8 18h8m-8 18h8m-7-193h8m-8 2h8m-8 50h8m-8 3h8m-8 14h8m-8 2h8m-8 5h8m-8 7h8m-8 4h8m-8 12h8m-8 26h8m-8 23h8m-8 4h8m-8 1h8m-8 30h8m-7-157h8m-8 9h8m-8 8h8m-8 3h8m-8 4h8m-8 13h8m-8 21h8m-8 33h8m-8 6h8m-8 45h8m-7-164h8m-8 14h8m-8 45h8m-8 11h8m-8 5h8m-8 17h8m-8 3h8m-8 21h8m-8 9h8m-8 4h8m-7-161h8m-8 24h8m-8 2h8m-8 35h8m-8 2h8m-8 14h8m-8 32h8m-8 5h8m-8 2h8m-8 9h8m-8 23h8m-8 2h8m-8 20h8m-8 52h8m-7-183h8m-8 5h8m-8 1h8m-8 6h8m-8 7h8m-8 1h8m-8 5h8m-8 1h8m-8 4h8m-8 24h8m-8 10h8m-8 12h8m-8 49h8m-8 22h8m-8 21h8m-8 25h8m-8 7h8m-7-239h8m-8 13h8m-8 85h8m-8 5h8m-8 6h8m-8 45h8m-8 14h8m-8 3h8m-8 8h8m-8 1h8m-8 1h8m-8 75h8m-7-195h8m-8 2h8m-8 7h8m-8 61h8m-8 14h8m-8 17h8m-8 25h8m-8 11h8m-8 7h8m-8 18h8m-8 17h8m-8 5h8m-7-213h8m-8 39h8m-8 2h8m-8 13h8m-8 17h8m-8 6h8m-8 6h8m-8 9h8m-8 18h8m-8 29h8m-7-118h8m-8 8h8m-8 3h8m-8 32h8m-8 22h8m-8 14h8m-8 22h8m-8 9h8m-8 3h8m-8 15h8m-8 9h8m-8 36h8m-7-181h8m-8 19h8m-8 4h8m-8 4h8m-8 5h8m-8 5h8m-8 1h8m-8 19h8m-8 24h8m-8 18h8m-8 10h8m-8 33h8m-8 33h8m-7-186h8m-8 2h8m-8 47h8m-8 2h8m-8 21h8m-8 5h8m-8 37h8m-8 22h8m-8 64h8m-8 20h8m-7-246h8m-8 36h8m-8 15h8m-8 32h8m-8 8h8m-8 15h8m-8 5h8m-8 33h8m-8 2h8m-8 22h8m-7-96h8m-8 3h8m-8 2h8m-8 2h8m-8 3h8m-8 11h8m-8 8h8m-8 3h8m-8 5h8m-8 6h8m-8 4h8m-8 44h8m-8 9h8m-8 17h8m-8 49h8m-7-235h8m-8 59h8m-8 11h8m-8 21h8m-8 5h8m-8 2h8m-8 10h8m-8 46h8m-8 8h8m-8 20h8m-7-182h8m-8 22h8m-8 7h8m-8 13h8m-8 15h8m-8 2h8m-8 3h8m-8 5h8m-8 11h8m-8 4h8m-8 4h8m-8 1h8m-8 0h8m-8 6h8m-8 0h8m-8 4h8m-8 4h8m-8 3h8m-8 16h8m-8 7h8m-8 16h8m-8 17h8m-8 8h8m-8 38h8m-7-217h8m-8 51h8m-8 7h8m-8 32h8m-8 7h8m-8 1h8m-8 19h8m-8 10h8m-8 9h8m-8 10h8m-8 2h8m-8 35h8m-8 44h8m-8 12h8m-7-153h8m-8 19h8m-8 9h8m-8 10h8m-8 26h8m-8 5h8m-8 1h8m-8 3h8m-8 51h8m-7-142h8m-8 8h8m-8 6h8m-8 35h8m-8 2h8m-8 21h8m-8 11h8m-8 34h8m-7-193h8m-8 50h8m-8 15h8m-8 1h8m-8 7h8m-8 2h8m-8 19h8m-8 9h8m-8 7h8m-8 19h8m-8 20h8m-8 1h8m-8 12h8m-8 24h8m-8 11h8m-8 25h8m-7-187h8m-8 5h8m-8 8h8m-8 7h8m-8 33h8m-8 36h8m-8 4h8m-8 0h8m-8 3h8m-8 10h8m-8 3h8m-8 2h8m-8 12h8m-7-85h8m-8 15h8m-8 3h8m-8 10h8m-8 15h8m-8 23h8m-8 10h8m-8 30h8m-8 42h8m-7-172h8m-8 24h8m-8 1h8m-8 14h8m-8 5h8m-8 7h8m-8 6h8m-8 40h8m-8 23h8m-8 46h8m-7-165h8m-8 62h8m-8 21h8m-8 3h8m-8 0h8m-8 9h8m-7-48h8m-8 52h8m-8 11h8m-8 41h8m-8 19h8m-8 23h8m-7-189h8m-8 52h8m-8 1h8m-8 17h8m-8 5h8m-8 9h8m-8 30h8m-8 31h8m-7-102h8m-8 26h8m-8 16h8m-8 5h8m-8 0h8m-8 21h8m-8 9h8m-8 2h8m-8 12h8m-8 2h8m-7-162h8m-8 2h8m-8 22h8m-8 0h8m-8 43h8m-8 38h8m-8 35h8m-8 94h8m-7-222h8m-8 107h8m-8 1h8m-8 4h8m-8 20h8m-8 29h8m-7-192h8m-8 85h8m-8 4h8m-8 8h8m-8 23h8m-8 22h8m-8 46h8m-8 1h8m-7-117h8m-8 12h8m-8 5h8m-8 10h8m-8 1h8m-8 31h8m-8 39h8m-8 27h8m-8 30h8m-8 39h8m-7-193h8m-8 8h8m-8 9h8m-8 8h8m-8 14h8m-8 9h8m-8 4h8m-8 4h8m-8 26h8m-8 16h8m-8 18h8m-8 11h8m-8 83h8m-7-273h8m-8 36h8m-8 27h8m-8 24h8m-8 2h8m-8 38h8m-8 18h8m-8 7h8m-8 25h8m-8 24h8m-7-173h8m-8 26h8m-8 45h8m-8 13h8m-8 50h8m-7-133h8m-8 11h8m-8 13h8m-8 2h8m-8 6h8m-8 3h8m-8 13h8m-8 5h8m-8 58h8m-8 25h8m-7-154h8m-8 54h8m-8 16h8m-8 5h8m-8 0h8m-8 21h8m-8 16h8m-8 2h8m-8 34h8m-8 3h8m-8 13h8m-7-145h8m-8 1h8m-8 11h8m-8 25h8m-8 32h8m-8 7h8m-8 2h8m-8 2h8m-8 34h8m-8 8h8m-8 6h8m-7-144h8m-8 1h8m-8 23h8m-8 22h8m-8 13h8m-8 16h8m-8 11h8m-8 7h8m-8 3h8m-8 10h8m-8 5h8m-8 7h8m-7-117h8m-8 76h8m-8 13h8m-8 4h8m-8 17h8m-8 16h8m-8 3h8m-8 9h8m-8 34h8m-8 23h8m-7-117h8m-8 0h8m-8 14h8m-8 8h8m-8 11h8m-8 14h8m-7-117h8m-8 8h8m-8 22h8m-8 1h8m-8 10h8m-8 60h8m-8 13h8m-7-118h8m-8 23h8m-8 6h8m-8 29h8m-8 3h8m-8 10h8m-8 57h8m-8 11h8m-8 30h8m-7-160h8m-8 16h8m-8 23h8m-8 33h8m-8 12h8m-8 45h8m-8 0h8m-8 22h8m-8 17h8m-7-185h8m-8 45h8m-8 16h8m-8 16h8m-8 48h8m-8 13h8m-8 8h8m-8 7h8m-8 26h8m-8 15h8m-7-143h8m-8 41h8m-8 1h8m-8 23h8m-8 80h8m-8 0h8m-7-186h8m-8 24h8m-8 6h8m-8 12h8m-8 1h8m-8 17h8m-8 5h8m-8 54h8m-8 4h8m-8 59h8m-8 29h8m-7-241h8m-8 96h8m-8 19h8m-8 16h8m-7-71h8m-8 34h8m-8 8h8m-8 8h8m-8 33h8m-8 30h8m-8 23h8m-7-149h8m-8 5h8m-8 45h8m-8 16h8m-8 20h8m-8 5h8m-8 4h8m-7-77h8m-8 8h8m-8 37h8m-8 43h8m-8 38h8m-7-130h8m-8 2h8m-8 13h8m-8 14h8m-8 19h8m-8 9h8m-8 35h8m-8 8h8m-7-104h8m-8 10h8m-8 17h8m-8 53h8m-8 1h8m-8 12h8m-7-152h8m-8 21h8m-8 22h8m-8 20h8m-8 3h8m-8 10h8m-8 5h8m-8 17h8m-8 5h8m-8 22h8m-8 57h8m-7-146h8m-8 3h8m-8 41h8m-8 19h8m-8 15h8m-8 15h8m-8 56h8m-7-86h8m-8 27h8m-8 11h8m-8 97h8m-8 23h8m-7-106h8m-8 3h8m-7-96h8m-8 8h8m-8 24h8m-8 52h8m-8 12h8m-8 7h8m-8 16h8m-7-108h8m-8 34h8m-8 11h8m-8 42h8m-7-138h8m-8 17h8m-8 25h8m-8 32h8m-8 14h8m-8 1h8m-8 5h8m-8 3h8m-8 15h8m-8 1h8m-7-62h8m-8 12h8m-8 10h8m-8 7h8m-8 6h8m-7-22h8m-8 37h8m-8 9h8m-8 17h8m-8 9h8m-8 23h8m-7-89h8m-8 0h8m-8 13h8m-8 7h8m-8 9h8m-8 0h8m-8 63h8m-8 25h8m-7-106h8m-8 3h8m-8 28h8m-8 21h8m-7-122h8m-8 110h8m-8 9h8m-7-138h8m-8 5h8m-8 33h8m-8 13h8m-8 77h8m-8 46h8m-7-84h8m-8 137h8m-7-165h8m-8 10h8m-8 81h8m-6-93h8m-8 60h8m-7-49h8m-8 112h8m-7-104h8m-8 41h8m-7-51h8m-8 40h8m-8 36h8m-8 9h8m-8 36h8m-8 1h8m-7-138h8m-8 110h8m-7-132h8m-8 22h8m-8 3h8m-8 56h8m-8 156h8m-7-206h8m-8 22h8m-8 15h8m-8 54h8m-7-41h8m-6-89h8m-8 43h8m-8 23h8m-8 53h8m-7-27h8m-7 3h8m-8 7h8m-7 57h8m-7-92h8m-8 45h8m-7-91h8m-8 104h8m-7-120h8m-8 74h8m-8 50h8m-7-99h8m-2-58h8m-8 115h8m-8 2h8m-8 29h8m-6-79h8m-7 20h8m-8 91h8m-7-27h8m-8 0h8m-7-19h8m-6-119h8m-6 115h8m-7-51h8m-8 95h8m-6-126h8m-8 93h8m-4-93h8m-7 60h8" stroke="#220404" stroke-width="8" fill="none"/>
<path transform="scale(.1)" d="m3649 921h8m-6-71h8m20 52h8m-5 44h8m-6-26h8m-7-64h8m-6 9h8m-6 25h8m-6 108h8m-6-210h8m-8 118h8m-7-52h8m-8 61h8m-7-21h8m-8 49h8m-7-59h8m-8 9h8m-8 6h8m-6 59h8m-8 48h8m-5-27h8m-7-163h8m-8 77h8m-7-35h8m-8 57h8m-7-42h8m-8 4h8m-8 34h8m-6-27h8m-7 11h8m-8 50h8m-7-35h8m-8 56h8m-7-60h8m-7-36h8m-8 45h8m-8 14h8m-7-36h8m-6-30h8m-8 85h8m-7-118h8m-7 37h8m-8 14h8m-8 5h8m-8 1h8m-8 62h8m-7-131h8m-8 21h8m-8 44h8m-8 12h8m-7 23h8m-8 45h8m-8 24h8m-7-121h8m-6 12h8m-8 34h8m-7-72h8m-8 12h8m-8 68h8m-7-114h8m-8 51h8m-8 29h8m-8 37h8m-8 29h8m-7-57h8m-8 61h8m-7-64h8m-8 2h8m-8 7h8m-8 19h8m-7-70h8m-7 53h8m-8 35h8m-8 87h8m-7-130h8m-8 18h8m-8 9h8m-7-53h8m-8 44h8m-8 10h8m-8 17h8m-7 8h8m-6-10h8m-7-3h8m-8 5h8m-8 12h8m-7-78h8m-8 19h8m-8 111h8m-7-116h8m-8 47h8m-7-64h8m-8 42h8m-8 5h8m-8 5h8m-8 72h8m-7-150h8m-8 23h8m-7 46h8m-7-32h8m-8 57h8m-7-80h8m-8 11h8m-8 8h8m-8 7h8m-8 10h8m-7 14h8m-8 10h8m-7-68h8m-8 28h8m-8 27h8m-8 40h8m-7-93h8m-8 13h8m-8 6h8m-8 11h8m-8 22h8m-8 7h8m-8 40h8m-8 7h8m-7-138h8m-8 31h8m-8 5h8m-8 102h8m-7-129h8m-8 126h8m-8 20h8m-7-110h8m-8 50h8m-8 22h8m-7-65h8m-8 124h8m-7-105h8m-8 15h8m-8 23h8m-7-97h8m-8 32h8m-8 70h8m-8 23h8m-7-98h8m-8 28h8m-7-46h8m-8 1h8m-8 7h8m-8 33h8m-7-30h8m-8 66h8m-8 47h8m-7-116h8m-8 41h8m-8 42h8m-8 84h8m-7-156h8m-8 47h8m-8 18h8m-8 53h8m-7-153h8m-8 33h8m-7 56h8m-8 37h8m-8 73h8m-7-182h8m-8 75h8m-8 51h8m-8 5h8m-7-127h8m-8 2h8m-8 60h8m-7-52h8m-8 20h8m-8 17h8m-8 32h8m-8 34h8m-7-146h8m-8 36h8m-8 26h8m-8 61h8m-8 38h8m-8 8h8m-7-144h8m-8 87h8m-7-83h8m-7 115h8m-8 36h8m-7-97h8m-8 97h8m-7-118h8m-8 12h8m-8 15h8m-8 22h8m-8 79h8m-7-142h8m-8 9h8m-8 26h8m-8 13h8m-8 30h8m-8 1h8m-8 22h8m-7-135h8m-8 42h8m-8 154h8m-7-188h8m-8 26h8m-8 18h8m-8 14h8m-8 28h8m-8 1h8m-6-120h8m-8 98h8m-8 1h8m-8 25h8m-7-73h8m-8 77h8m-7-38h8m-8 8h8m-7-117h8m-8 165h8m-7-71h8m-8 57h8m-8 13h8m-7-67h8m-8 40h8m-7-34h8m-8 22h8m-6-14h8m-8 70h8m-7-50h8m-8 28h8m-7-92h8m-8 31h8m-7-58h8m-8 67h8m-8 46h8m-8 21h8m-7 1h8m-8 25h8m-7-116h8m-8 9h8m-8 55h8m-7-4h8m-7-66h8m-8 38h8m-8 9h8m-8 1h8m-7-47h8m-8 4h8m-8 28h8m-8 74h8m-7-51h8m-7 4h8m-8 17h8m-7-15h8m-7-112h8m-8 36h8m-8 84h8m-6-69h8m-6 8h8m-7 115h8m-7-8h8m-7-49h8m-7-50h8m-8 93h8m-7-97h8m-6 11h8m-6 64h8m-6-63h8m-5-51h8m-6 115h8m-7-101h8m-8 92h8m-7 30h8m-3-32h8m-7-61h8m-7 34h8m-8 70h8m-7-66h8m-3 48h8m0-100h8m-5 71h8m-4 47h8" stroke="#680c0c" stroke-width="8" fill="none"/>
<path transform="scale(.1)" d="m3321 704h7m-6 45h7m-3-22h7m8 28h7m-5-1h7m-5 0h7m-4 9h7m0-32h7m-4 33h7m-6-56h7m-7 72h7m-6-52h7m-3 39h7m-3 20h7m-6-2h7m-5-52h7m-6-2h7m-7 39h7m-6-17h7m-7 51h7m-3-44h7m-6 4h7m-3 4h7m-1 38h7m-5-69h7m-7 23h7m-7 32h7m-6-48h7m-4-13h7m-5 30h7m-7 36h7m-6-8h7m-6-88h7m-6 40h7m-7 25h7m-6-18h7m-7 58h7m-4-5h7m-5-26h7m-6-3h7m-7 50h7m-4-64h7m-5 1h7m-6 14h7m-7 13h7m-7 11h7m-3-29h7m-6-45h7m-7 1h7m-6 88h7m-6-24h7m-7 32h7m-5-60h7m-6-40h7m-7 53h7m-4-11h7m-2-27h7m-7 17h7m-7 7h7m-6-5h7m-6-5h7m-7 14h7m-6 2h7m-5-28h7m-7 85h7m-6-30h7m-6-39h7m-7 63h7m-6-50h7m-7 17h7m-6-1h7m-6-77h7m-6 101h7m-6-71h7m-7 60h7m-5 14h7m-6-4h7m-6-63h7m-7 17h7m-6 29h7m-6-27h7m-6-7h7m-5 26h7m-6 21h7m-6-36h7m-4-23h7m-7 54h7m-5-34h7m-7 8h7m-6-53h7m-6 47h7m-6-8h7m-6-10h7m-7 12h7m-7 2h7m-7 52h7m-6-62h7m-6-39h7m-4 39h7m-5 15h7m-7 32h7m-6 5h7m-6-17h7m-6-60h7m-6-14h7m-7 39h7m-5 7h7m-6-26h7m-6 26h7m-7 61h7m-6-64h7m-4-32h7m-6 62h7m-6 6h7m-6-60h7m-7 34h7m-7 12h7m-6-56h7m-7 27h7m-6-21h7m-3 28h7m-7 18h7m-4 14h7m-5-19h7m-6-56h7m-7 90h7m-4-4h7m-5-8h7m-6-45h7m-7 17h7m-5 2h7m-7 27h7m-6-70h7m-6 66h7m-7 5h7m-6-2h7m-6-46h7m-6 30h7m-6-55h7m-7 52h7m-7 3h7m-7 4h7m-7 15h7m-6-12h7m-6-31h7m-7 21h7m-7 20h7m-7 13h7m-2-37h7m-6-63h7m-7 40h7m-4 23h7m-7 12h7m-7 23h7m-6 10h7m-4-48h7m-6 15h7m-6-2h7m-4 27h7m-6-58h7m-6 15h7m-4 39h7m-6-76h7m-7 37h7m-7 42h7m-5-32h7m-6-25h7m-7 42h7m-6 21h7m-6-38h7m-6 15h7m-4-63h7m-7 70h7m-6-47h7m-6-18h7m-6 14h7m-6-3h7m-6 46h7m-6-15h7m-5-13h7m-6 7h7m-6-12h7m-7 21h7m-7 15h7m-7 20h7m-5-90h7m-6 66h7m-3-17h7m-6 5h7m-5 3h7m-7 10h7m-5-28h7m-7 11h7m-6-21h7m-6-22h7m-7 24h7m-7 53h7m-6 15h7m-2-94h7m-7 63h7m-3-25h7m-6-13h7m-7 29h7m-4-18h7m-5 27h7m-4 25h7m-5-50h7m-7 1h7m-7 27h7m-6-8h7m-6 35h7m-6-40h7m-6-43h7m-7 16h7m-5 2h7m-7 24h7m-6 44h7m-6-77h7m-7 76h7m-5-38h7m-6-5h7m-6-33h7m-3 33h7m-6-7h7m-5 17h7m-4-20h7m-7 0h7m-4 42h7m-4-24h7m-5-1h7m-3-51h7m-4 43h7m-3-27h7m-7 66h7m-4-90h7m-7 78h7m-1-7h7m-2 2h7m-3-22h7m-5-9h7" stroke="#280808" stroke-width="7" fill="none"/>
<path transform="scale(.1)" d="m3349 666h7m-7 12h7m-1 43h7m-5-38h7m4-15h7m-7 26h7m4-12h7m-7 37h7m2-57h7m-7 2h7m-5 18h7m-2 2h7m-3 10h7m-6 2h7m-6-12h7m-5 4h7m-5 3h7m-5-5h7m-1 28h7m0-13h7m-2-10h7m-5-2h7m-6-9h7m-6 5h7m-3-23h7m-7 5h7m-5 10h7m-3 16h7m-5-8h7m5 6h7m0 4h7m-3 34h7m-4-41h7m-6-18h7m-5 39h7m-5-17h7m-5-32h7m-7 21h7m-7 15h7m-4-8h7m-3-5h7m-6-4h7m-5-3h7m-4 36h7m-6-35h7m-6-18h7m-7 18h7m-5 16h7m-5 17h7m-6-14h7m-6-18h7m-7 7h7m-6-28h7m-4 50h7m-2-33h7m-6-20h7m-7 28h7m-4 8h7m-5 3h7m-5 0h7m-5-8h7m-6-19h7m-5-1h7m-7 25h7m-4-8h7m-5-7h7m-6 20h7m1 6h7m2-8h7m-3-18h7m-7 32h7m-4-31h7m-5 11h7m-2-17h7m9 51h7m-4-22h7m-5-15h7m-3 23h7m-3-1h7m-6-51h7m-4 65h7m-3-44h7m-3 10h7m-5-30h7m-7 69h7m-5-36h7m-5-33h7m-7 39h7m-2-20h7m-7 4h7m3 6h7m4-24h7m-6 1h7m13 11h7m0 8h7" stroke="#e02020" stroke-width="7" fill="none"/>
<path transform="scale(.1)" d="m3357 689h7m6 2h7m0-14h7m-4-3h7m3 7h7m-5 4h7m-2 3h7m2-16h7m-6 7h7m-2 15h7m-6-38h7m-4 26h7m0-8h7m-5 29h7m0-29h7m-6-9h7m-6 24h7m-1-11h7m-6 23h7m4-9h7m-5 15h7m-5-43h7m-6 31h7m-7 14h7m-5-23h7m-6 24h7m4-39h7m-6 39h7m2-31h7m-7 0h7m-6 5h7m-7 14h7m-4-19h7m-4 25h7m-4-12h7m-1-4h7m-2-6h7m-6 16h7m-6-32h7m-4 29h7m5-16h7m-6-6h7m-2-12h7m-4 15h7m2 4h7m-7 7h7m4 18h7m-2-23h7m-7 26h7m-3-25h7m-7 9h7m-2 1h7m-2 21h7m-5-51h7m-3 11h7m-7 13h7m-6 6h7m-6-9h7m-7 19h7m-4-25h7m0 31h7m-4 7h7m-5-14h7m6-7h7m-6 1h7m-5 17h7m-6-1h7m-1-41h7m-2 21h7m29 2h7" stroke="#6a1010" stroke-width="7" fill="none"/>
<path transform="scale(.1)" d="m3603 796h8m-3-30h8m-5 57h8m-6-10h8m-4-63h8m-6 12h8m-7 29h8m-3-21h8m-6 28h8m-7-53h8m-7 28h8m-5 9h8m-7-25h8m-6 17h8m-7-26h8m-8 30h8m-6 25h8m-2-12h8m-7-39h8m-8 26h8m-6 17h8m-8 28h8m-7-50h8m-8 46h8m-5-28h8m-8 16h8m-7-41h8m-7-23h8m-8 45h8m-7 2h8m-8 12h8m-8 5h8m-8 3h8m-7-16h8m-8 8h8m-4-55h8m-8 10h8m-7 22h8m-8 10h8m-7-11h8m-7 9h8m-7 7h8m-6 28h8m-7-75h8m-8 5h8m-8 50h8m-7-56h8m-8 24h8m-8 28h8m-7-32h8m-7 22h8m-7-14h8m-7 20h8m-8 21h8m-6-17h8m-8 5h8m-8 13h8m-6-58h8m-7-7h8m-8 21h8m-8 48h8m-7-58h8m-8 1h8m-8 52h8m-6-59h8m-7-3h8m-8 15h8m-8 7h8m-8 16h8m-7-8h8m-8 4h8m-6-16h8m-8 7h8m-8 3h8m-8 40h8m-7-46h8m-6-20h8m-8 6h8m-6-15h8m-7 16h8m-7 5h8m-6 50h8m-8 15h8m-7-77h8m-8 24h8m-8 48h8m-7-42h8m-3 43h8m-5-67h8m-8 8h8m-7-22h8m-6 22h8m-8 12h8m-7-27h8m-6-4h8m-6 38h8m-3-15h8m-7-1h8m-7-21h8m-6 16h8m-8 7h8m-8 37h8m-7-42h8m-5-17h8m-8 26h8m-7-15h8m-5 11h8m-7 63h8m9-64h8m-7 47h8" stroke="#200" stroke-width="8" fill="none"/>
<path transform="scale(.1)" d="m3302 931h7m11-101h7m-5-44h7m3 17h7m1 83h7m5 221h7m-2-115h7m-7 5h7m-3-112h7m6-33h7m-6-143h7m-6 75h7m2 32h7m6 46h7m8 17h7m-4 31h7m8-219h7m-6 52h7m0-50h7m-7 173h7m-6-126h7m-3 209h7m-7 98h7m-6-190h7m4-172h7m-3 157h7m-7 74h7m4-180h7m-3 193h7m-5-102h7m-1 14h7m-4-30h7m0-105h7m-4 29h7m-4 2h7m-2 176h7m-7 158h7m1-234h7m-4 97h7m-4-163h7m-7 63h7m-5 160h7m-6-182h7m1-25h7m-3 113h7m-6 91h7m-5-232h7m-6 295h7m-6-253h7m-5-115h7m-7 234h7m-6-103h7m-6 198h7m-6 72h7m-5-307h7m2 88h7m5-64h7m-6 94h7m-2 100h7m-5-237h7m-6 195h7m-4-78h7m-6-31h7m-6 210h7m6-191h7m6-136h7m-2 223h7m-5-170h7m-5 69h7m-4-61h7m-5 5h7m-5 109h7m-6-56h7m-6 103h7m-3-46h7m-3-132h7m-3 2h7m2-19h7m0 0h7m-7 154h7m-6-92h7m-7 9h7m14 111h7m-2 33h7m-2 3h7m1-111h7m1-134h7m-1 89h7m1 138h7m-2-32h7m14-213h7m-1 255h7m-5-108h7m-4 65h7m1-52h7m-5 145h7m3-76h7m3-206h7m-6 125h7m76-124h7" stroke="#2a0a0a" stroke-width="7" fill="none"/>
<g filter="url(#b1)" fill="#fb0000"><path d="M364.8 69 L378.6 62.8 Q380.8 62.6 380.8 65 L381 75 Q381 78.4 378.4 77.6 L372 75.2 Z"/></g>
<path transform="scale(.1)" d="m3641 689h8m-8 4h8m-8 3h8m-8 3h8m-6-11h8m-7 1h8m-5 9h8m-8 2h8m-7-7h8m-6 7h8m-7-8h8m-8 0h8m-8 13h8m-7-8h8m-6 7h8m-6-14h8m-6 10h8m-7-14h8m-8 7h8m-8 2h8m-7-11h8m-8 10h8m-7-15h8m-8 14h8m-8 7h8m-5-12h8m-8 2h8m-8 5h8m-8 1h8m-8 13h8m-7-38h8m-8 23h8m-7-13h8m-8 18h8m-7-1h8m-6-11h8m-8 1h8m-8 3h8m-7-6h8m-8 12h8m-7-20h8m-8 10h8m-8 13h8m-8 12h8m-7-28h8m-8 3h8m-8 14h8m-7-1h8m-8 0h8m-7-10h8m-8 8h8m-8 0h8m-7-9h8m-8 4h8m-8 7h8m-7-21h8m-8 35h8m-7-51h8m-8 21h8m-8 19h8m-8 15h8m-7-20h8m-8 8h8m-8 0h8m-7-7h8m-7 5h8m-8 13h8m-7-26h8m-8 10h8m-6-8h8m-8 2h8m-8 22h8m-7-29h8m-8 7h8m-8 2h8m-8 7h8m-7-18h8m-8 6h8m-8 1h8m-8 11h8m-8 19h8m-7-34h8m-8 6h8m-8 1h8m-8 12h8m-7-10h8m-8 5h8m-7-5h8m-7-10h8m-8 3h8m-8 16h8m-7-36h8m-7 19h8m-8 16h8m-8 4h8m-7-42h8m-8 18h8m-8 5h8m-8 6h8m-8 1h8m-8 17h8m-7-35h8m-8 25h8m-8 8h8m-8 11h8m-7-32h8m-8 28h8m-7-26h8m-8 20h8m-8 3h8m-8 7h8m-7-44h8m-8 13h8m-8 3h8m-8 9h8m-8 27h8m-7-65h8m-8 25h8m-8 0h8m-8 4h8m-8 7h8m-7-6h8m-7-13h8m-8 7h8m-8 6h8m-8 7h8m-7-26h8m-8 20h8m-7-16h8m-8 6h8m-8 3h8m-7-6h8m-8 2h8m-7-16h8m-8 2h8m-8 33h8m-7 1h8m-7-25h8m-8 24h8m-8 0h8m-7-37h8m-8 14h8m-8 20h8m-8 2h8m-8 3h8m-8 1h8m-8 11h8m-7-39h8m-8 8h8m-8 9h8m-8 9h8m-8 1h8m-8 5h8m-7-29h8m-8 17h8m-8 5h8m-8 6h8m-8 4h8m-8 12h8m-7-61h8m-8 13h8m-8 3h8m-8 15h8m-7-1h8m-8 6h8m-8 13h8m-8 0h8m-7-13h8m-8 2h8m-8 15h8m-7-40h8m-8 4h8m-8 21h8m-8 1h8m-8 6h8m-7-35h8m-8 7h8m-8 6h8m-8 1h8m-8 5h8m-8 3h8m-8 11h8m-8 1h8m-8 8h8m-7-39h8m-8 3h8m-8 38h8m-8 7h8m-7-45h8m-8 8h8m-8 8h8m-8 1h8m-8 4h8m-8 2h8m-7-18h8m-8 13h8m-8 0h8m-8 27h8m-6-52h8m-8 34h8m-7-26h8m-8 13h8m-7 7h8m-8 13h8m-8 1h8m-7-41h8m-8 3h8m-8 18h8m-7-32h8m-8 2h8m-8 7h8m-8 42h8m-8 15h8m-7-65h8m-8 8h8m-8 18h8m-8 16h8m-7-27h8m-8 13h8m-8 0h8m-7 4h8m-8 16h8m-8 16h8m-7-23h8m-7-42h8m-8 19h8m-8 20h8m-8 7h8m-8 6h8m-7-29h8m-7-27h8m-8 8h8m-8 17h8m-8 5h8m-8 44h8m-8 2h8m-7-61h8m-8 17h8m-8 1h8m-8 9h8m-8 1h8m-8 0h8m-7-19h8m-8 6h8m-8 5h8m-8 14h8m-7-32h8m-8 10h8m-8 1h8m-8 1h8m-8 17h8m-8 6h8m-8 12h8m-7-62h8m-8 16h8m-8 22h8m-7-15h8m-8 7h8m-8 0h8m-8 8h8m-8 14h8m-7-50h8m-8 10h8m-8 15h8m-8 3h8m-8 7h8m-8 2h8m-8 3h8m-8 1h8m-7-24h8m-8 20h8m-8 10h8m-8 10h8m-7-51h8m-8 9h8m-8 2h8m-8 1h8m-8 4h8m-8 16h8m-8 2h8m-8 10h8m-7-37h8m-8 1h8m-8 4h8m-8 18h8m-8 11h8m-7-61h8m-8 7h8m-8 28h8m-8 4h8m-8 6h8m-7-51h8m-8 24h8m-8 1h8m-8 14h8m-8 1h8m-8 6h8m-8 1h8m-8 3h8m-8 8h8m-8 4h8m-8 27h8m-7-20h8m-7-29h8m-8 4h8m-7 3h8m-8 12h8m-8 27h8m-7-64h8m-8 9h8m-8 5h8m-8 38h8m-8 17h8m-7-48h8m-8 39h8m-7-64h8m-8 23h8m-8 1h8m-8 2h8m-8 27h8m-8 37h8m-7-49h8m-8 6h8m-8 5h8m-8 7h8m-8 8h8m-8 3h8m-7-59h8m-8 33h8m-8 2h8m-8 5h8m-7-65h8m-8 38h8m-8 1h8m-8 1h8m-8 1h8m-8 1h8m-8 19h8m-8 1h8m-8 16h8m-7-55h8m-8 18h8m-8 7h8m-8 14h8m-7-74h8m-8 9h8m-8 46h8m-8 3h8m-8 13h8m-8 6h8m-7-27h8m-8 54h8m-7-71h8m-8 5h8m-8 7h8m-8 4h8m-8 21h8m-8 10h8m-8 6h8m-8 34h8m-7-102h8m-8 12h8m-8 12h8m-8 1h8m-8 15h8m-8 10h8m-7-50h8m-8 13h8m-8 13h8m-8 14h8m-8 13h8m-7-35h8m-8 4h8m-8 6h8m-8 4h8m-8 7h8m-8 5h8m-8 4h8m-8 8h8m-8 4h8m-8 1h8m-8 3h8m-8 10h8m-7-39h8m-8 3h8m-8 1h8m-8 6h8m-8 4h8m-8 19h8m-8 8h8m-8 1h8m-7-74h8m-8 8h8m-8 40h8m-8 5h8m-8 3h8m-7-56h8m-8 19h8m-8 4h8m-8 33h8m-8 39h8m-7-102h8m-8 20h8m-8 11h8m-8 3h8m-8 4h8m-7-3h8m-8 24h8m-8 22h8m-7-74h8m-8 7h8m-8 6h8m-8 47h8m-8 13h8m-8 11h8m-7-83h8m-8 30h8m-8 12h8m-8 9h8m-8 6h8m-8 0h8m-8 13h8m-7-71h8m-8 7h8m-8 18h8m-8 27h8m-8 33h8m-7-69h8m-8 1h8m-8 12h8m-8 1h8m-8 2h8m-8 31h8m-8 35h8m-8 7h8m-7-101h8m-8 33h8m-8 5h8m-8 9h8m-8 7h8m-8 1h8m-8 10h8m-8 8h8m-7-53h8m-8 29h8m-8 77h8m-7-93h8m-8 41h8m-7-70h8m-8 3h8m-8 6h8m-8 4h8m-8 0h8m-8 7h8m-8 0h8m-8 4h8m-8 0h8m-8 13h8m-8 14h8m-8 1h8m-8 3h8m-8 9h8m-8 8h8m-7-50h8m-8 2h8m-8 20h8m-8 4h8m-7-29h8m-8 2h8m-8 12h8m-8 29h8m-8 9h8m-7-91h8m-8 8h8m-8 17h8m-8 7h8m-8 5h8m-8 52h8m-8 9h8m-7-80h8m-8 5h8m-8 7h8m-8 8h8m-8 5h8m-8 1h8m-8 1h8m-8 5h8m-8 2h8m-8 8h8m-8 11h8m-8 10h8m-7-41h8m-8 5h8m-8 9h8m-8 11h8m-8 26h8m-8 21h8m-7-121h8m-8 28h8m-8 30h8m-8 3h8m-8 4h8m-8 23h8m-8 3h8m-7-73h8m-8 20h8m-8 46h8m-8 5h8m-8 23h8m-7-118h8m-8 50h8m-8 10h8m-8 12h8m-8 3h8m-8 2h8m-8 12h8m-8 3h8m-8 11h8m-7-73h8m-8 26h8m-8 14h8m-8 22h8m-8 8h8m-7-91h8m-8 30h8m-8 9h8m-8 6h8m-8 17h8m-8 3h8m-8 7h8m-8 2h8m-8 1h8m-8 5h8m-7-71h8m-8 10h8m-8 9h8m-8 21h8m-8 15h8m-8 6h8m-8 2h8m-8 21h8m-7-90h8m-8 62h8m-8 13h8m-7-75h8m-8 37h8m-8 1h8m-8 7h8m-8 15h8m-8 6h8m-8 14h8m-8 1h8m-8 23h8m-7-81h8m-8 19h8m-8 13h8m-8 9h8m-8 3h8m-8 48h8m-7-104h8m-8 19h8m-8 9h8m-8 36h8m-8 0h8m-8 3h8m-8 17h8m-8 12h8m-8 10h8m-7-104h8m-8 0h8m-8 25h8m-8 18h8m-8 9h8m-8 14h8m-8 13h8m-7-42h8m-8 2h8m-8 1h8m-8 17h8m-7-67h8m-8 11h8m-8 1h8m-8 14h8m-8 3h8m-8 6h8m-8 16h8m-8 5h8m-8 23h8m-8 17h8m-8 21h8m-8 3h8m-7-130h8m-8 33h8m-8 21h8m-8 2h8m-8 3h8m-8 4h8m-8 39h8m-7-73h8m-8 11h8m-8 6h8m-8 19h8m-8 25h8m-8 1h8m-8 39h8m-7-124h8m-8 23h8m-8 13h8m-8 12h8m-8 26h8m-8 39h8m-7-90h8m-8 7h8m-8 19h8m-8 14h8m-8 10h8m-8 5h8m-8 6h8m-8 22h8m-8 2h8m-7-106h8m-8 3h8m-8 36h8m-8 2h8m-8 9h8m-8 30h8m-8 5h8m-8 29h8m-7-155h8m-8 43h8m-8 42h8m-8 1h8m-8 6h8m-8 14h8m-8 18h8m-8 38h8m-7-117h8m-8 31h8m-8 35h8m-8 0h8m-7-73h8m-8 19h8m-8 30h8m-8 27h8m-8 13h8m-8 1h8m-7-50h8m-8 1h8m-8 1h8m-8 11h8m-8 5h8m-8 1h8m-8 1h8m-8 31h8m-7-75h8m-8 7h8m-8 16h8m-8 2h8m-8 30h8m-8 12h8m-8 15h8m-8 25h8m-8 29h8m-7-145h8m-8 8h8m-8 1h8m-8 18h8m-8 12h8m-8 7h8m-8 14h8m-7-58h8m-8 31h8m-8 18h8m-8 2h8m-8 1h8m-7-50h8m-8 38h8m-8 16h8m-8 3h8m-8 5h8m-8 13h8m-8 1h8m-7-93h8m-8 16h8m-8 0h8m-8 21h8m-8 19h8m-8 4h8m-8 20h8m-7-47h8m-8 7h8m-8 3h8m-8 31h8m-8 58h8m-7-134h8m-8 10h8m-8 52h8m-8 4h8m-8 10h8m-8 0h8m-7-48h8m-8 2h8m-8 30h8m-8 8h8m-8 8h8m-8 3h8m-8 8h8m-7-97h8m-8 2h8m-8 82h8m-8 4h8m-7-73h8m-8 38h8m-8 38h8m-8 6h8m-8 22h8m-8 4h8m-7-110h8m-8 31h8m-8 9h8m-8 3h8m-8 5h8m-8 5h8m-8 6h8m-8 6h8m-8 34h8m-8 16h8m-7-128h8m-8 54h8m-8 39h8m-8 60h8m-7-111h8m-8 9h8m-8 13h8m-8 17h8m-8 3h8m-8 33h8m-8 40h8m-7-115h8m-8 44h8m-8 2h8m-8 1h8m-8 30h8m-7-107h8m-8 29h8m-8 20h8m-8 3h8m-8 3h8m-8 32h8m-7-78h8" stroke="#f60000" stroke-width="8" fill="none"/>
<path transform="scale(.1)" d="m3583 684h8m2 20h8m-6-25h8m-4-13h8m-2 43h8m-6 14h8m-5-18h8m-7-5h8m-7 3h8m-7 4h8m-4-7h8m-6-3h8m-8 10h8m-6-18h8m-8 0h8m-8 26h8m-8 21h8m-7-80h8m-6 21h8m-7-7h8m-7 42h8m-5 42h8m-6-59h8m-8 2h8m-6-9h8m-8 26h8m-7 10h8m-6-29h8m-7 0h8m-8 35h8m-6-49h8m-7-2h8m-7-12h8m-8 12h8m-8 37h8m-7-55h8m-8 71h8m-6-23h8m-7-17h8m-7-32h8m-8 56h8m-8 3h8m-7 1h8m-7-27h8m-6-15h8m-8 39h8m-7-60h8m-8 37h8m-8 1h8m-8 11h8m-8 3h8m-5-4h8m-7-27h8m-8 19h8m-8 2h8m-7-21h8m-8 16h8m-8 33h8m-8 4h8m-7-19h8m-7-24h8m-8 2h8m-8 15h8m-8 20h8m-7-18h8m-4-12h8m-8 19h8m-8 7h8m-6-28h8m-8 12h8m-8 11h8m-7-51h8m-8 10h8m-7 8h8m-8 14h8m-6 4h8m-8 10h8m-8 19h8m-7-37h8m-7-35h8m-8 7h8m-8 3h8m-6 19h8m-8 22h8m-7-13h8m-7-12h8m-6 11h8m-7-10h8m-8 15h8m-7-15h8m-8 14h8m-7-11h8m-6-18h8m-8 24h8m-7-8h8m-8 1h8m-8 21h8m-7-48h8m-8 7h8m-8 16h8m-6 11h8m-5-9h8m-8 25h8m-8 2h8m-5-8h8m-5 20h8m-7-53h8m-1 10h8m-7 12h8m-8 4h8m-5 5h8m-6-5h8m-7-28h8m-8 46h8m-5-4h8m-7-16h8m-1-1h8m-4-23h8m-5 73h8m-6-36h8" stroke="#f00000" stroke-width="8" fill="none"/>
<rect x="326.8" y="29.4" width="81.59999999999997" height="84.9" fill="none" stroke="#3c3c3c" stroke-width="0.85"/>
<line x1="361.7" y1="29.4" x2="361.7" y2="114.3" stroke="#444" stroke-width="0.8"/>
<line x1="326.8" y1="82" x2="408.4" y2="82" stroke="#444" stroke-width="0.8"/>
<path d="M323.5 37.5h3.3M323.5 56.6h3.3M323.5 75.7h3.3M323.5 94.8h3.3M324.9 50.9h1.9M324.9 47.5h1.9M324.9 45.1h1.9M324.9 43.2h1.9M324.9 41.7h1.9M324.9 40.5h1.9M324.9 39.4h1.9M324.9 38.4h1.9M324.9 70.0h1.9M324.9 66.6h1.9M324.9 64.2h1.9M324.9 62.3h1.9M324.9 60.8h1.9M324.9 59.6h1.9M324.9 58.5h1.9M324.9 57.5h1.9M324.9 89.1h1.9M324.9 85.7h1.9M324.9 83.3h1.9M324.9 81.4h1.9M324.9 79.9h1.9M324.9 78.7h1.9M324.9 77.6h1.9M324.9 76.6h1.9M324.9 102.4h1.9M324.9 100.5h1.9M324.9 99.0h1.9M324.9 97.8h1.9M324.9 96.7h1.9M324.9 95.7h1.9M324.9 100.0h1.9M324.9 102.1h1.9M324.9 104.2h1.9M324.9 106.3h1.9M324.9 108.4h1.9M324.9 110.5h1.9M324.9 112.6h1.9" stroke="#222" stroke-width="0.7" fill="none"/>
<text x="321.6" y="40.1" font-size="4.6" fill="#111" font-weight="bold" transform="rotate(-90 321.6 40.1)">10<tspan dy="-1.6" font-size="3">5</tspan></text>
<text x="321.6" y="59.2" font-size="4.6" fill="#111" font-weight="bold" transform="rotate(-90 321.6 59.2)">10<tspan dy="-1.6" font-size="3">4</tspan></text>
<text x="321.6" y="78.3" font-size="4.6" fill="#111" font-weight="bold" transform="rotate(-90 321.6 78.3)">10<tspan dy="-1.6" font-size="3">3</tspan></text>
<text x="321.6" y="97.4" font-size="4.6" fill="#111" font-weight="bold" transform="rotate(-90 321.6 97.4)">10<tspan dy="-1.6" font-size="3">2</tspan></text>
<rect x="317.8" y="103.5" width="4.4" height="1.5" fill="#111"/>
<text x="320.6" y="113.8" font-size="3.6" fill="#333" font-weight="bold" transform="rotate(-90 320.6 113.8)">-91</text>
<path d="M343.8 114.3v3.3M361.9 114.3v3.3M382.6 114.3v3.3M403.3 114.3v3.3M368.1 114.3v1.9M371.8 114.3v1.9M374.4 114.3v1.9M376.4 114.3v1.9M378.0 114.3v1.9M379.4 114.3v1.9M380.6 114.3v1.9M381.7 114.3v1.9M388.8 114.3v1.9M392.5 114.3v1.9M395.1 114.3v1.9M397.1 114.3v1.9M398.7 114.3v1.9M400.1 114.3v1.9M401.3 114.3v1.9M402.4 114.3v1.9M330.5 114.3v1.9M332.4 114.3v1.9M334.3 114.3v1.9M336.2 114.3v1.9M338.1 114.3v1.9M340.0 114.3v1.9M341.9 114.3v1.9M345.7 114.3v1.9M347.6 114.3v1.9M349.5 114.3v1.9M351.4 114.3v1.9M353.3 114.3v1.9M355.2 114.3v1.9M357.1 114.3v1.9M359.0 114.3v1.9" stroke="#222" stroke-width="0.7" fill="none"/>
<text x="343.8" y="121.7" font-size="4.6" fill="#111" text-anchor="middle" font-weight="bold">0</text>
<text x="362.2" y="121.9" font-size="4.6" fill="#111" text-anchor="middle" font-weight="bold">10<tspan dy="-1.6" font-size="3">3</tspan></text>
<text x="382.9" y="121.9" font-size="4.6" fill="#111" text-anchor="middle" font-weight="bold">10<tspan dy="-1.6" font-size="3">4</tspan></text>
<text x="403.6" y="121.9" font-size="4.6" fill="#111" text-anchor="middle" font-weight="bold">10<tspan dy="-1.6" font-size="3">5</tspan></text>
<text x="329.4" y="125.9" font-size="4" fill="#222" text-anchor="middle" font-weight="bold">-467</text>
<text x="331" y="46.8" font-size="18" text-anchor="start" font-weight="bold" fill="#000" stroke="#000" stroke-width="0.22">C</text>
<text x="366.8" y="41.7" font-size="11" text-anchor="start" fill="#111" stroke="#111" stroke-width="0.22">CXCR4</text>
<text x="385.40000000000003" y="73.39999999999999" font-size="8.7" text-anchor="start" fill="#333" stroke="#333" stroke-width="0.22">99 %</text>
<path transform="scale(.1)" d="m4381 761h8m-1-81h8m-8 19h8m1-48h8m3-14h8m-7 96h8m-6-20h8m0 33h8m-7-49h8m-5 32h8m-4-52h8m-8 147h8m-6-159h8m-7 15h8m-8 6h8m-7 10h8m-5 19h8m-8 86h8m-7-97h8m-7 12h8m-7 29h8m-8 58h8m-4-31h8m-6-93h8m-7 64h8m-7-32h8m-6 23h8m-7-54h8m-8 39h8m-7-16h8m-5 20h8m-8 17h8m-4 10h8m-8 10h8m-7-77h8m-8 27h8m-8 8h8m-8 35h8m-7-38h8m-5-63h8m-7 99h8m-7-50h8m-7 25h8m-7 66h8m-6 9h8m-6-101h8m-7 13h8m-7 30h8m-2-39h8m-6 50h8m-7-42h8m-8 49h8m-7-80h8m-8 44h8m-8 28h8m-7-27h8m-4-74h8m-6 71h8m-8 4h8m-8 64h8m-7-107h8m-8 34h8m-8 11h8m-8 34h8m-8 41h8m-6-73h8m-7-68h8m-8 150h8m-6-120h8m-8 69h8m-5-33h8m-8 22h8m-7-39h8m-7-13h8m-8 87h8m-7-130h8m-7 60h8m-6 1h8m-8 14h8m-7-61h8m-8 34h8m-8 85h8m-8 7h8m-7 32h8m-7-65h8m-7-78h8m-7 3h8m-7 113h8m-6-76h8m-6 58h8m-7-156h8m-8 135h8m-7-66h8m-8 25h8m-8 78h8m-7-144h8m-8 16h8m-8 96h8m-7-69h8m-8 20h8m-8 23h8m-7-56h8m-8 82h8m-7 32h8m-7-148h8m-8 80h8m-7-13h8m-7-28h8m-6-29h8m-8 29h8m-8 14h8m-8 31h8m-7-47h8m-7 33h8m-6-20h8m-8 51h8m-7-39h8m-6-79h8m-7 77h8m-8 3h8m-8 8h8m-7-15h8m-8 6h8m-7-66h8m-8 78h8m-6 29h8m-7-119h8m-6 8h8m-8 26h8m-7 56h8m-7-16h8m-8 2h8m-8 56h8m-6-39h8m-8 9h8m-7-42h8m-8 34h8m-8 31h8m-7-64h8m-8 63h8m-7-60h8m-8 51h8m-7 53h8m-7-133h8m-8 30h8m-7 96h8m-7-116h8m-7 55h8m-8 90h8m-7-80h8m-7-22h8m-7-76h8m-7 93h8m-8 24h8m-8 0h8m-8 25h8m-7-22h8m-7-87h8m-8 91h8m-7-25h8m-6-31h8m-7-86h8m-8 118h8m-8 42h8m-6-90h8m-8 17h8m-8 8h8m-8 22h8m-8 14h8m-7-33h8m-7-15h8m-8 44h8m-7-28h8m-7-32h8m-8 81h8m-7-89h8m-8 41h8m-8 37h8m-8 10h8m-7-82h8m-7 25h8m-7-36h8m-8 8h8m-8 79h8m-8 8h8m-7-114h8m-7 90h8m-8 45h8m-7-32h8m-7-82h8m-8 11h8m-8 61h8m-8 23h8m-7-84h8m-7-2h8m-8 64h8m-7-41h8m-8 43h8m-7-39h8m-8 62h8m-8 7h8m-6-63h8m-7 6h8m-7-14h8m-8 92h8m-7-126h8m-7 15h8m-8 34h8m-8 15h8m-7-36h8m-8 25h8m-8 28h8m-7-64h8m-7-6h8m-8 50h8m-8 25h8m-6-68h8m-8 53h8m-8 14h8m-7-64h8m-8 8h8m-8 73h8m-8 22h8m-7-146h8m-8 133h8m-7-51h8m-8 28h8m-7-75h8m-8 31h8m-7-44h8m-8 4h8m-7 105h8m-7-97h8m-6-22h8m-8 31h8m-8 50h8m-7-81h8m-7 17h8m-7 34h8m-7-60h8m-8 57h8m-8 34h8m-7-53h8m-8 15h8m-8 34h8m-7-82h8m-8 1h8m-8 34h8m-8 36h8m-8 26h8m-7-71h8m-7 36h8m-7 60h8m-7-95h8m-7 33h8m-8 1h8m-8 19h8m-8 40h8m-7-89h8m-8 6h8m-8 67h8m-7-59h8m-7-26h8m-8 46h8m-8 17h8m-8 26h8m-7-40h8m-5 27h8m-7-42h8m-8 40h8m-7-71h8m-6-5h8m-7 81h8m-8 6h8m-7-80h8m-8 34h8m-8 50h8m-6-133h8m-8 39h8m-6 59h8m-8 73h8m-7-190h8m-8 106h8m-7-17h8m-7-19h8m-8 13h8m-7-23h8m-8 32h8m-7 24h8m-8 2h8m-8 31h8m-7-79h8m-7 41h8m-7-43h8m-8 28h8m-8 6h8m-8 12h8m-7-75h8m-6 21h8m-8 31h8m-8 24h8m-8 40h8m-8 4h8m-7-30h8m-7-67h8m-7-8h8m-7 16h8m-8 0h8m-7 32h8m-8 26h8m-7-30h8m-8 16h8m-8 30h8m-7-141h8m-8 134h8m-8 21h8m-7-66h8m-8 27h8m-8 18h8m-8 10h8m-7-131h8m-8 130h8m-7-91h8m-8 2h8m-8 42h8m-8 5h8m-7-39h8m-8 9h8m-8 56h8m-7-8h8m-7-96h8m-8 31h8m-7 5h8m-8 28h8m-8 24h8m-7-79h8m-8 75h8m-7-78h8m-8 87h8m-8 49h8m-6-160h8m-8 76h8m-8 18h8m-8 36h8m-6-56h8m-7-25h8m-8 2h8m-8 115h8m-7-103h8m-8 3h8m-8 30h8m-8 65h8m-7-18h8m-7-103h8m-7 62h8m-8 6h8m-7-36h8m-8 47h8m-8 71h8m-7-123h8m-8 39h8m-8 66h8m-7-130h8m-8 21h8m-8 38h8m-7 3h8m-8 26h8m-7-8h8m-7-36h8m-7-4h8m-8 25h8m-8 16h8m-5-5h8m-8 1h8m-8 26h8m-7-119h8m-8 88h8m-7-4h8m-6-8h8m-8 56h8m-7-116h8m-8 124h8m-6-64h8m-8 24h8m-7-25h8m-7 30h8m-7-35h8m-8 91h8m-7-93h8m-7 29h8m-7-65h8m-8 62h8m-8 11h8m-7-42h8m-6 32h8m-8 0h8m-7 49h8m-7-88h8m-4 59h8m-7-30h8m-7-80h8m-8 118h8m-6-20h8m-7-107h8m-8 24h8m-8 85h8m-7-107h8m-6 32h8m-8 48h8m-8 10h8m-7-1h8m-6 25h8m-6-78h8m-6 70h8m-7 50h8m-7-62h8m-7-75h8m-6 57h8m-7-62h8m-8 93h8m-7-87h8m-3 51h8m-6-32h8m-7-42h8m-7 65h8m-8 25h8m-5-48h8m-7-19h8m-6 86h8m-7-15h8m-5 31h8m-6 3h8m-7-127h8m-8 115h8m-7-71h8m-8 5h8m-6 95h8m-6 5h8m-7-78h8m-8 56h8m-7-87h8m-8 111h8m-6-41h8m-6-20h8m-7 22h8m-7-48h8m-7-38h8m1 76h8m-6-132h8m-6 31h8m-6 18h8m-2 61h8m-6-43h8m-8 13h8m-4 57h8m-7-38h8m-5-30h8m-6 6h8m-6 81h8m-4-17h8m-7-26h8m-7 84h8m-3-153h8m-8 88h8m-8 1h8m-5 13h8m-1-20h8m12 7h8m-4 9h8m6-34h8" stroke="#0a0a14" stroke-width="8" fill="none"/>
<g filter="url(#b2)" fill="#080612"><ellipse cx="482.6" cy="70.6" rx="4.2" ry="5.2"/></g>
<path transform="scale(.1)" d="m4717 675h8m3 65h8m-4 16h8m-4-77h8m-3 35h8m-4-69h8m-7 66h8m-6 70h8m-7-95h8m-4-32h8m-7 55h8m-7-51h8m-8 39h8m-7 99h8m-7-84h8m-7-23h8m-8 20h8m-8 5h8m-8 7h8m-8 9h8m-8 18h8m-7-94h8m-8 9h8m-8 36h8m-8 18h8m-8 9h8m-7-24h8m-7 39h8m-8 1h8m-7-100h8m-8 48h8m-8 40h8m-8 26h8m-7-8h8m-8 18h8m-7-126h8m-8 49h8m-7-2h8m-7 23h8m-8 13h8m-7-79h8m-8 22h8m-8 10h8m-8 4h8m-8 55h8m-7-49h8m-8 74h8m-8 28h8m-7-114h8m-8 15h8m-8 12h8m-8 10h8m-8 16h8m-8 24h8m-7-110h8m-8 40h8m-8 1h8m-8 29h8m-8 18h8m-8 20h8m-7-100h8m-8 61h8m-8 9h8m-8 2h8m-8 10h8m-8 15h8m-8 42h8m-7-108h8m-8 11h8m-8 10h8m-8 23h8m-8 14h8m-7-94h8m-8 43h8m-8 4h8m-8 29h8m-8 11h8m-8 77h8m-7-163h8m-8 22h8m-8 74h8m-8 26h8m-7-131h8m-8 51h8m-8 3h8m-8 6h8m-8 2h8m-8 19h8m-8 26h8m-8 5h8m-8 5h8m-8 6h8m-8 14h8m-7-68h8m-8 1h8m-8 10h8m-8 9h8m-8 24h8m-7-76h8m-8 16h8m-8 5h8m-8 1h8m-8 6h8m-8 20h8m-8 20h8m-7-53h8m-8 24h8m-8 18h8m-7-27h8m-8 21h8m-8 5h8m-8 17h8m-7-20h8m-8 10h8m-7-62h8m-8 11h8m-8 6h8m-8 6h8m-8 24h8m-7-19h8m-8 20h8m-8 2h8m-7-66h8m-8 8h8m-8 7h8m-8 15h8m-8 30h8m-8 54h8m-7-123h8m-8 26h8m-8 1h8m-8 14h8m-8 3h8m-7-40h8m-8 37h8m-8 15h8m-8 52h8m-7-64h8m-8 40h8m-8 0h8m-7-91h8m-8 31h8m-8 28h8m-8 2h8m-8 19h8m-8 7h8m-8 12h8m-8 16h8m-8 15h8m-7-120h8m-8 38h8m-8 12h8m-8 24h8m-8 23h8m-8 16h8m-7-92h8m-8 23h8m-8 31h8m-8 3h8m-8 3h8m-8 26h8m-7-101h8m-8 2h8m-8 12h8m-8 44h8m-8 31h8m-8 5h8m-7-63h8m-8 19h8m-8 24h8m-7-102h8m-8 35h8m-8 4h8m-8 14h8m-8 23h8m-8 0h8m-8 7h8m-8 5h8m-8 3h8m-8 1h8m-8 10h8m-8 39h8m-8 15h8m-8 28h8m-7-130h8m-8 34h8m-8 10h8m-8 16h8m-7-59h8m-8 26h8m-8 6h8m-8 27h8m-8 21h8m-7-63h8m-8 4h8m-8 3h8m-8 12h8m-8 11h8m-8 54h8m-7-86h8m-8 81h8m-7-129h8m-8 16h8m-8 23h8m-8 1h8m-8 1h8m-8 21h8m-8 22h8m-8 16h8m-8 30h8m-7-109h8m-8 11h8m-8 1h8m-8 31h8m-8 34h8m-7-77h8m-8 25h8m-8 17h8m-7-45h8m-8 16h8m-8 3h8m-8 1h8m-8 3h8m-8 1h8m-8 3h8m-8 1h8m-8 7h8m-8 20h8m-8 8h8m-8 1h8m-8 4h8m-8 16h8m-8 1h8m-8 3h8m-7-84h8m-8 0h8m-8 11h8m-8 4h8m-8 43h8m-8 8h8m-8 22h8m-7-92h8m-8 11h8m-8 3h8m-8 1h8m-8 0h8m-8 15h8m-8 23h8m-8 1h8m-8 5h8m-8 12h8m-8 48h8m-7-161h8m-8 26h8m-8 4h8m-8 57h8m-8 5h8m-8 3h8m-8 7h8m-8 1h8m-7-74h8m-8 31h8m-8 5h8m-8 15h8m-8 7h8m-8 8h8m-8 19h8m-8 23h8m-8 9h8m-8 3h8m-8 5h8m-7-122h8m-8 19h8m-8 43h8m-8 46h8m-8 12h8m-7-106h8m-8 2h8m-8 9h8m-8 4h8m-8 4h8m-8 8h8m-8 3h8m-8 20h8m-8 1h8m-8 9h8m-8 2h8m-8 4h8m-8 26h8m-8 11h8m-8 17h8m-7-178h8m-8 61h8m-8 9h8m-8 16h8m-8 3h8m-8 5h8m-8 13h8m-7-76h8m-8 28h8m-8 33h8m-8 4h8m-8 4h8m-8 22h8m-8 11h8m-7-110h8m-8 60h8m-8 8h8m-8 1h8m-8 7h8m-8 14h8m-8 13h8m-8 6h8m-8 7h8m-8 3h8m-7-73h8m-8 8h8m-8 14h8m-8 2h8m-8 21h8m-8 10h8m-8 16h8m-8 4h8m-8 3h8m-8 16h8m-8 4h8m-7-118h8m-8 13h8m-8 8h8m-8 1h8m-8 4h8m-8 8h8m-8 56h8m-8 1h8m-8 6h8m-8 6h8m-8 12h8m-7-134h8m-8 30h8m-8 5h8m-8 11h8m-8 6h8m-8 3h8m-8 6h8m-8 22h8m-8 42h8m-8 1h8m-8 12h8m-7-108h8m-8 7h8m-8 14h8m-8 19h8m-8 0h8m-8 4h8m-8 5h8m-8 3h8m-8 0h8m-8 7h8m-8 7h8m-8 16h8m-8 8h8m-8 3h8m-8 9h8m-7-104h8m-8 11h8m-8 3h8m-8 7h8m-8 11h8m-8 8h8m-8 19h8m-8 24h8m-8 22h8m-7-143h8m-8 3h8m-8 33h8m-8 11h8m-8 6h8m-8 2h8m-8 1h8m-8 2h8m-8 8h8m-8 4h8m-8 2h8m-8 11h8m-8 55h8m-8 24h8m-7-141h8m-8 1h8m-8 3h8m-8 12h8m-8 13h8m-8 14h8m-8 0h8m-8 2h8m-8 10h8m-8 1h8m-8 2h8m-8 8h8m-8 18h8m-7-108h8m-8 60h8m-8 4h8m-8 6h8m-8 6h8m-8 9h8m-8 12h8m-8 5h8m-8 8h8m-8 8h8m-8 3h8m-8 33h8m-7-133h8m-8 10h8m-8 37h8m-8 1h8m-8 19h8m-8 21h8m-8 13h8m-7-133h8m-8 50h8m-8 10h8m-8 41h8m-8 11h8m-8 21h8m-8 20h8m-7-101h8m-8 3h8m-8 2h8m-8 3h8m-8 32h8m-8 4h8m-8 7h8m-8 9h8m-8 33h8m-7-115h8m-8 1h8m-8 29h8m-8 3h8m-8 1h8m-8 5h8m-8 5h8m-8 7h8m-8 4h8m-8 4h8m-8 37h8m-8 15h8m-7-103h8m-8 3h8m-8 11h8m-8 8h8m-8 1h8m-8 41h8m-8 1h8m-8 6h8m-8 3h8m-8 1h8m-8 15h8m-8 1h8m-7-105h8m-8 3h8m-8 15h8m-8 4h8m-8 0h8m-8 45h8m-8 1h8m-8 6h8m-8 4h8m-8 7h8m-8 1h8m-8 3h8m-8 32h8m-8 12h8m-7-133h8m-8 0h8m-8 21h8m-8 16h8m-8 9h8m-8 0h8m-8 1h8m-8 1h8m-8 14h8m-8 3h8m-8 0h8m-8 0h8m-8 3h8m-8 13h8m-8 1h8m-8 3h8m-8 21h8m-7-127h8m-8 52h8m-8 15h8m-8 4h8m-8 3h8m-8 8h8m-8 5h8m-8 2h8m-8 3h8m-8 3h8m-8 1h8m-8 18h8m-8 0h8m-8 18h8m-8 13h8m-8 9h8m-8 19h8m-7-130h8m-8 7h8m-8 17h8m-8 9h8m-8 16h8m-8 43h8m-7-87h8m-8 10h8m-8 3h8m-8 6h8m-8 0h8m-8 0h8m-8 2h8m-8 1h8m-8 11h8m-8 7h8m-8 0h8m-8 24h8m-8 13h8m-8 42h8m-7-146h8m-8 19h8m-8 9h8m-8 8h8m-8 17h8m-8 18h8m-8 39h8m-8 13h8m-7-122h8m-8 16h8m-8 7h8m-8 16h8m-8 1h8m-8 9h8m-8 18h8m-8 8h8m-8 19h8m-8 21h8m-8 38h8m-7-141h8m-8 4h8m-8 9h8m-8 1h8m-8 31h8m-8 3h8m-8 3h8m-8 12h8m-8 10h8m-8 9h8m-8 20h8m-8 47h8m-7-134h8m-8 8h8m-8 11h8m-8 8h8m-8 5h8m-8 6h8m-8 20h8m-8 0h8m-8 34h8m-7-153h8m-8 58h8m-8 22h8m-8 13h8m-8 6h8m-8 9h8m-8 16h8m-8 1h8m-8 2h8m-8 10h8m-8 7h8m-8 5h8m-7-95h8m-8 7h8m-8 0h8m-8 23h8m-8 29h8m-8 4h8m-8 5h8m-8 13h8m-8 2h8m-8 1h8m-8 21h8m-7-145h8m-8 40h8m-8 14h8m-8 8h8m-8 5h8m-8 4h8m-8 3h8m-8 56h8m-8 7h8m-7-101h8m-8 6h8m-8 16h8m-8 1h8m-8 26h8m-8 4h8m-8 12h8m-8 9h8m-8 11h8m-8 21h8m-7-120h8m-8 48h8m-8 1h8m-8 17h8m-8 15h8m-8 8h8m-8 19h8m-8 35h8m-8 2h8m-7-159h8m-8 37h8m-8 8h8m-8 11h8m-8 17h8m-8 6h8m-8 6h8m-8 3h8m-8 15h8m-8 12h8m-8 2h8m-8 8h8m-7-131h8m-8 51h8m-8 10h8m-8 5h8m-8 13h8m-8 50h8m-8 12h8m-7-119h8m-8 9h8m-8 8h8m-8 9h8m-8 4h8m-8 8h8m-8 2h8m-8 0h8m-8 11h8m-8 3h8m-8 12h8m-8 4h8m-8 37h8m-8 20h8m-7-96h8m-8 4h8m-8 19h8m-8 10h8m-8 24h8m-8 48h8m-8 17h8m-7-146h8m-8 16h8m-8 20h8m-8 17h8m-8 6h8m-8 19h8m-8 3h8m-8 4h8m-7-109h8m-8 20h8m-8 25h8m-8 1h8m-8 15h8m-8 18h8m-8 24h8m-8 15h8m-8 10h8m-7-109h8m-8 0h8m-8 22h8m-8 4h8m-8 9h8m-8 22h8m-8 20h8m-8 2h8m-8 14h8m-8 11h8m-8 1h8m-8 1h8m-7-103h8m-8 0h8m-8 33h8m-8 34h8m-8 1h8m-8 1h8m-8 5h8m-8 1h8m-8 2h8m-8 4h8m-8 1h8m-7-102h8m-8 26h8m-8 0h8m-8 23h8m-8 1h8m-8 10h8m-8 7h8m-8 14h8m-8 10h8m-8 7h8m-8 10h8m-8 14h8m-8 11h8m-8 10h8m-7-128h8m-8 37h8m-8 15h8m-8 6h8m-7-28h8m-8 34h8m-8 0h8m-8 17h8m-8 9h8m-8 28h8m-7-138h8m-8 68h8m-8 13h8m-8 22h8m-8 5h8m-7-93h8m-8 21h8m-8 6h8m-8 25h8m-8 23h8m-8 1h8m-8 19h8m-8 5h8m-8 32h8m-8 15h8m-7-88h8m-8 23h8m-8 15h8m-8 1h8m-8 43h8m-8 3h8m-8 2h8m-7-155h8m-8 30h8m-8 52h8m-8 8h8m-8 3h8m-8 66h8m-7-149h8m-8 23h8m-8 55h8m-8 9h8m-8 9h8m-8 46h8m-7-174h8m-8 53h8m-8 2h8m-8 1h8m-8 7h8m-8 4h8m-8 11h8m-8 8h8m-8 1h8m-7-53h8m-8 9h8m-8 50h8m-8 13h8m-8 22h8m-7-68h8m-8 16h8m-8 28h8m-8 9h8m-8 16h8m-7-105h8m-8 51h8m-8 60h8m-8 43h8m-7-127h8m-8 10h8m-8 8h8m-8 27h8m-8 5h8m-8 19h8m-8 14h8m-8 1h8m-7-68h8m-8 6h8m-8 66h8m-7-91h8m-8 15h8m-8 25h8m-8 7h8m-8 1h8m-8 9h8m-8 0h8m-8 5h8m-8 8h8m-8 6h8m-8 36h8m-7-83h8m-8 33h8m-8 27h8m-8 16h8m-7-117h8m-8 23h8m-8 31h8m-8 3h8m-8 3h8m-8 2h8m-8 2h8m-8 15h8m-8 3h8m-7-73h8m-8 11h8m-8 9h8m-8 13h8m-8 4h8m-8 35h8m-8 2h8m-8 28h8m-8 8h8m-8 28h8m-7-140h8m-8 42h8m-8 9h8m-8 33h8m-7-67h8m-8 65h8m-8 50h8m-7-120h8m-8 10h8m-8 23h8m-8 3h8m-8 21h8m-7-85h8m-8 13h8m-8 39h8m-8 34h8m-7-36h8m-8 3h8m-8 6h8m-7 5h8m-8 23h8m-8 25h8m-7-135h8m-8 70h8m-8 26h8m-8 15h8m-7-31h8m-8 38h8m-8 4h8m-8 2h8m-7-15h8m-8 36h8m-7-59h8m-8 50h8m-7-78h8m-8 15h8m-8 17h8m-8 16h8m-8 2h8m-7-43h8m-8 15h8m-8 29h8m-7-2h8m-7-106h8m-8 44h8m-8 5h8m-8 10h8m-8 17h8m-8 19h8m-8 43h8m-7-81h8m-8 45h8m-7-87h8m-8 25h8m-8 6h8m-8 38h8m-8 43h8m-7-74h8m-8 6h8m-8 1h8m-8 26h8m-7 46h8m-8 19h8m-7-61h8m-8 5h8m-7 25h8m-7-52h8m-8 66h8m-8 19h8m-7-127h8m-8 37h8m-6 50h8m-6-66h8m-8 42h8m-6 1h8m-6-92h8m-6 42h8" stroke="#05040e" stroke-width="8" fill="none"/>
<path transform="scale(.1)" d="m4383 936h8m-5 19h8m-8 96h8m-4-113h8m-7 0h8m-5 9h8m-8 15h8m-7 19h8m-8 10h8m-8 0h8m-7 25h8m-6-91h8m-8 77h8m-6-4h8m-7-3h8m-6-28h8m-8 1h8m-8 11h8m-8 15h8m-7-95h8m-7 52h8m-8 70h8m-5-55h8m-8 104h8m-7-125h8m-8 10h8m-7-11h8m-8 61h8m-3-129h8m-7 114h8m-7-81h8m-8 11h8m-8 83h8m-7 47h8m-6-41h8m-7-37h8m-7-11h8m-8 62h8m-5-42h8m-7-108h8m-8 211h8m-7-160h8m-6 37h8m-7 21h8m-8 14h8m-5-39h8m-6-1h8m-8 59h8m-7-100h8m-8 49h8m-8 67h8m-7-154h8m-6 135h8m-5-100h8m-7 72h8m-8 60h8m-7-55h8m-8 4h8m-8 3h8m-8 45h8m-7-137h8m-7 124h8m-8 8h8m-7-65h8m-8 21h8m-7 1h8m-7 27h8m-7-75h8m-8 9h8m-8 9h8m-8 77h8m-7-107h8m-8 22h8m-8 38h8m-8 30h8m-7-122h8m-8 91h8m-8 9h8m-7-49h8m-8 24h8m-8 7h8m-8 16h8m-6-84h8m-7 8h8m-8 72h8m-7 10h8m-8 44h8m-7-120h8m-8 84h8m-7-71h8m-8 4h8m-8 25h8m-8 40h8m-8 6h8m-7-92h8m-8 16h8m-7-13h8m-8 10h8m-8 35h8m-7-78h8m-8 87h8m-8 13h8m-6-109h8m-8 145h8m-7-79h8m-8 13h8m-8 1h8m-6-27h8m-8 38h8m-8 17h8m-8 4h8m-7-50h8m-8 58h8m-5-41h8m-8 42h8m-7-72h8m-8 15h8m-7 6h8m-8 4h8m-8 6h8m-8 1h8m-8 23h8m-7-3h8m-7-19h8m-7-24h8m-8 25h8m-7-63h8m-8 59h8m-7-51h8m-8 43h8m-8 11h8m-7-49h8m-6 37h8m-8 56h8m-8 39h8m-8 17h8m-7-169h8m-8 7h8m-8 36h8m-8 53h8m-8 77h8m-7-135h8m-8 7h8m-8 10h8m-8 21h8m-8 2h8m-8 84h8m-7-123h8m-8 51h8m-7-28h8m-8 8h8m-8 17h8m-8 3h8m-8 33h8m-7-69h8m-8 18h8m-8 3h8m-7-18h8m-8 11h8m-7 19h8m-7-30h8m-8 46h8m-8 36h8m-7-141h8m-8 10h8m-8 33h8m-8 18h8m-8 7h8m-8 4h8m-8 14h8m-7-38h8m-8 6h8m-8 50h8m-7-60h8m-8 20h8m-7-8h8m-8 3h8m-8 32h8m-8 29h8m-7-82h8m-8 25h8m-8 57h8m-8 47h8m-8 7h8m-7-159h8m-8 25h8m-7-33h8m-8 90h8m-7-35h8m-8 1h8m-7-40h8m-8 22h8m-8 54h8m-8 39h8m-7-119h8m-8 36h8m-7 26h8m-7-51h8m-8 56h8m-8 1h8m-8 21h8m-8 62h8m-7-75h8m-8 100h8m-7-145h8m-8 11h8m-8 53h8m-7-47h8m-8 14h8m-7-89h8m-8 36h8m-8 29h8m-7 1h8m-8 49h8m-7-105h8m-8 60h8m-8 20h8m-8 14h8m-8 37h8m-7-151h8m-8 31h8m-8 60h8m-8 1h8m-8 3h8m-8 10h8m-7-68h8m-8 45h8m-8 13h8m-8 27h8m-7-31h8m-8 10h8m-8 28h8m-7-79h8m-8 27h8m-8 12h8m-8 13h8m-8 20h8m-7-74h8m-8 84h8m-7-89h8m-8 28h8m-8 41h8m-8 6h8m-8 49h8m-8 6h8m-7-100h8m-8 5h8m-8 1h8m-7 10h8m-8 2h8m-7-34h8m-8 1h8m-8 43h8m-8 6h8m-7-20h8m-8 0h8m-8 11h8m-8 49h8m-7-49h8m-7-106h8m-8 47h8m-8 31h8m-8 11h8m-8 35h8m-8 25h8m-7-148h8m-8 61h8m-8 61h8m-7 17h8m-7-126h8m-8 45h8m-8 32h8m-8 7h8m-8 51h8m-8 63h8m-7-155h8m-8 28h8m-8 0h8m-8 2h8m-8 47h8m-7-73h8m-8 4h8m-8 6h8m-8 23h8m-8 6h8m-8 15h8m-8 29h8m-7-95h8m-8 7h8m-8 49h8m-7-68h8m-8 70h8m-8 24h8m-8 0h8m-7-73h8m-8 56h8m-8 41h8m-7-115h8m-8 6h8m-8 3h8m-8 10h8m-8 12h8m-8 31h8m-8 16h8m-8 10h8m-7-23h8m-8 10h8m-8 0h8m-6 32h8m-7-149h8m-8 18h8m-8 106h8m-7-108h8m-8 49h8m-8 14h8m-8 40h8m-8 14h8m-8 28h8m-8 2h8m-7-104h8m-8 67h8m-8 1h8m-8 33h8m-7-119h8m-8 15h8m-8 15h8m-8 30h8m-8 7h8m-8 1h8m-8 12h8m-8 11h8m-8 10h8m-8 14h8m-7-125h8m-8 27h8m-8 26h8m-8 39h8m-7-62h8m-8 12h8m-8 32h8m-8 53h8m-7-121h8m-8 8h8m-8 32h8m-7-14h8m-8 19h8m-8 6h8m-8 61h8m-7-91h8m-8 65h8m-8 17h8m-7-121h8m-8 44h8m-8 13h8m-8 25h8m-8 4h8m-8 36h8m-7-66h8m-8 20h8m-8 1h8m-8 57h8m-7-42h8m-8 53h8m-7-154h8m-8 90h8m-8 9h8m-8 10h8m-8 12h8m-8 28h8m-7-75h8m-8 6h8m-8 30h8m-8 35h8m-7-92h8m-8 14h8m-8 12h8m-8 33h8m-8 27h8m-8 0h8m-7-134h8m-8 53h8m-8 62h8m-8 14h8m-8 5h8m-8 5h8m-8 4h8m-8 18h8m-8 6h8m-7-62h8m-8 51h8m-7-136h8m-8 35h8m-8 27h8m-8 37h8m-8 10h8m-8 65h8m-7-142h8m-8 9h8m-8 70h8m-8 4h8m-5-69h8m-8 63h8m-7-79h8m-8 0h8m-8 30h8m-8 15h8m-8 3h8m-8 5h8m-8 26h8m-7-34h8m-8 7h8m-7-54h8m-8 8h8m-8 6h8m-8 21h8m-8 30h8m-8 9h8m-7-86h8m-8 4h8m-8 33h8m-8 21h8m-7-84h8m-8 83h8m-8 21h8m-7-91h8m-8 8h8m-8 37h8m-8 53h8m-8 0h8m-7-71h8m-8 7h8m-8 7h8m-8 44h8m-8 18h8m-7-86h8m-8 19h8m-8 23h8m-8 6h8m-8 8h8m-8 23h8m-8 5h8m-8 33h8m-7-51h8m-8 24h8m-8 16h8m-7-84h8m-8 17h8m-8 4h8m-8 7h8m-8 23h8m-8 40h8m-7-161h8m-8 11h8m-8 50h8m-8 55h8m-8 16h8m-8 6h8m-8 9h8m-7-73h8m-8 5h8m-7-10h8m-8 10h8m-8 3h8m-8 5h8m-8 16h8m-8 10h8m-7-76h8m-8 29h8m-8 12h8m-8 42h8m-8 1h8m-7-51h8m-8 18h8m-8 17h8m-8 0h8m-8 17h8m-8 16h8m-8 1h8m-7-59h8m-8 24h8m-8 5h8m-8 0h8m-8 2h8m-7-58h8m-8 22h8m-8 29h8m-8 49h8m-7-80h8m-8 72h8m-8 11h8m-7-120h8m-8 29h8m-8 8h8m-8 11h8m-8 109h8m-7-132h8m-8 75h8m-7-136h8m-8 19h8m-8 50h8m-8 15h8m-8 14h8m-8 4h8m-8 13h8m-8 9h8m-7 13h8m-7-77h8m-8 32h8m-8 6h8m-8 26h8m-7-79h8m-8 58h8m-8 3h8m-8 15h8m-8 28h8m-7-92h8m-8 20h8m-8 76h8m-7-84h8m-8 2h8m-8 40h8m-8 7h8m-8 7h8m-7-85h8m-8 50h8m-8 28h8m-8 19h8m-8 29h8m-7-108h8m-8 20h8m-8 29h8m-8 21h8m-8 2h8m-8 27h8m-7-124h8m-8 12h8m-8 8h8m-8 42h8m-8 3h8m-7-75h8m-8 14h8m-8 38h8m-8 11h8m-7-56h8m-8 11h8m-8 15h8m-8 18h8m-8 50h8m-8 27h8m-8 4h8m-7-131h8m-8 34h8m-8 9h8m-8 6h8m-8 0h8m-8 10h8m-8 45h8m-7-119h8m-8 50h8m-8 15h8m-8 19h8m-8 14h8m-8 31h8m-8 57h8m-7-147h8m-8 48h8m-8 12h8m-8 7h8m-7-82h8m-8 54h8m-8 9h8m-7 36h8m-7-95h8m-8 38h8m-8 4h8m-8 5h8m-8 1h8m-8 10h8m-8 27h8m-8 30h8m-7-119h8m-8 3h8m-8 32h8m-8 13h8m-8 14h8m-8 16h8m-8 13h8m-8 10h8m-8 19h8m-7-60h8m-8 5h8m-8 12h8m-8 8h8m-8 17h8m-8 30h8m-8 6h8m-7-144h8m-8 11h8m-8 34h8m-8 31h8m-8 9h8m-7-36h8m-8 11h8m-8 20h8m-8 9h8m-7-104h8m-8 46h8m-8 3h8m-7-36h8m-8 74h8m-8 13h8m-8 4h8m-8 4h8m-8 15h8m-7-104h8m-8 16h8m-8 42h8m-7-9h8m-8 59h8m-8 7h8m-8 9h8m-7-88h8m-8 16h8m-8 23h8m-8 18h8m-8 12h8m-8 79h8m-7-178h8m-8 4h8m-8 22h8m-8 15h8m-8 11h8m-8 43h8m-7-100h8m-8 47h8m-8 5h8m-8 11h8m-8 69h8m-7-134h8m-8 64h8m-8 7h8m-8 7h8m-7-69h8m-8 7h8m-8 24h8m-8 16h8m-8 12h8m-8 23h8m-8 3h8m-7-48h8m-8 8h8m-8 2h8m-8 10h8m-8 24h8m-8 27h8m-7-127h8m-8 36h8m-8 22h8m-8 14h8m-8 9h8m-8 0h8m-7-100h8m-8 49h8m-8 25h8m-8 30h8m-8 4h8m-8 42h8m-7-104h8m-8 2h8m-8 7h8m-8 2h8m-8 17h8m-8 46h8m-7-53h8m-8 8h8m-8 19h8m-8 3h8m-8 80h8m-7-119h8m-8 12h8m-8 16h8m-8 19h8m-8 9h8m-8 4h8m-8 6h8m-8 2h8m-8 30h8m-8 17h8m-7-148h8m-8 34h8m-8 14h8m-8 54h8m-8 46h8m-7-117h8m-8 8h8m-8 39h8m-8 11h8m-7-78h8m-8 12h8m-8 28h8m-8 9h8m-8 10h8m-8 23h8m-8 4h8m-8 2h8m-8 0h8m-7-109h8m-8 57h8m-8 0h8m-8 21h8m-8 26h8m-8 79h8m-7-150h8m-8 26h8m-8 1h8m-8 8h8m-8 23h8m-8 5h8m-8 32h8m-7-28h8m-7-44h8m-7-7h8m-8 11h8m-8 45h8m-8 13h8m-8 38h8m-7-103h8m-8 12h8m-8 9h8m-8 8h8m-8 4h8m-8 39h8m-7-94h8m-8 30h8m-8 2h8m-8 15h8m-8 15h8m-8 28h8m-7-31h8m-8 28h8m-7-43h8m-8 0h8m-8 23h8m-7-67h8m-8 0h8m-8 3h8m-8 17h8m-8 20h8m-8 23h8m-8 7h8m-8 7h8m-8 31h8m-7-127h8m-8 63h8m-8 2h8m-8 47h8m-7-69h8m-8 29h8m-8 6h8m-8 1h8m-8 7h8m-8 74h8m-7-144h8m-8 15h8m-8 14h8m-8 1h8m-8 11h8m-8 34h8m-8 35h8m-8 27h8m-7-150h8m-7 31h8m-8 6h8m-8 14h8m-8 63h8m-8 9h8m-7-122h8m-8 25h8m-8 21h8m-8 33h8m-7-59h8m-8 77h8m-8 17h8m-8 1h8m-8 0h8m-7-81h8m-8 26h8m-8 8h8m-7-42h8m-8 9h8m-8 8h8m-8 76h8m-7-61h8m-8 10h8m-8 14h8m-8 10h8m-7-56h8m-8 43h8m-8 43h8m-7-56h8m-8 23h8m-7-45h8m-8 20h8m-8 4h8m-8 10h8m-8 8h8m-8 30h8m-7-108h8m-8 33h8m-8 32h8m-8 24h8m-8 20h8m-7-107h8m-8 11h8m-8 33h8m-8 4h8m-8 34h8m-8 35h8m-7-123h8m-8 38h8m-8 84h8m-7-76h8m-7-30h8m-8 50h8m-8 1h8m-8 10h8m-7-21h8m-8 14h8m-8 8h8m-7-74h8m-8 22h8m-8 19h8m-8 28h8m-7 23h8m-7-46h8m-8 5h8m-8 5h8m-8 43h8m-7-141h8m-8 69h8m-8 36h8m-8 7h8m-8 55h8m-7-118h8m-8 9h8m-8 7h8m-8 19h8m-7-8h8m-7-70h8m-8 56h8m-8 23h8m-8 37h8m-8 11h8m-8 12h8m-7-86h8m-8 16h8m-8 4h8m-8 22h8m-8 23h8m-7-72h8m-8 58h8m-8 1h8m-8 28h8m-8 14h8m-7-66h8m-8 52h8m-8 34h8m-7-70h8m-8 28h8m-8 17h8m-7-101h8m-8 13h8m-8 13h8m-7-62h8m-8 43h8m-8 64h8m-8 14h8m-8 3h8m-8 0h8m-8 6h8m-8 28h8m-7-80h8m-8 8h8m-8 10h8m-7-6h8m-8 15h8m-8 19h8m-7-46h8m-8 12h8m-8 14h8m-7-82h8m-8 42h8m-8 61h8m-7-61h8m-8 39h8m-8 2h8m-8 5h8m-8 42h8m-7-141h8m-8 43h8m-8 16h8m-7-25h8m-8 9h8m-8 19h8m-8 47h8m-8 26h8m-8 2h8m-7-79h8m-8 2h8m-8 50h8m-7-85h8m-8 17h8m-8 9h8m-8 4h8m-8 26h8m-7-35h8m-7 21h8m-7-3h8m-8 1h8m-8 2h8m-8 4h8m-8 12h8m-8 2h8m-8 12h8m-8 7h8m-7-42h8m-8 67h8m-8 0h8m-8 3h8m-8 44h8m-7-85h8m-8 8h8m-7-97h8m-8 25h8m-8 51h8m-8 5h8m-7 7h8m-7-58h8m-8 19h8m-8 21h8m-8 21h8m-7-93h8m-8 110h8m-7-83h8m-8 9h8m-8 20h8m-8 14h8m-8 23h8m-8 1h8m-7-45h8m-8 6h8m-8 6h8m-7-15h8m-8 49h8m-8 42h8m-8 1h8m-7-142h8m-8 67h8m-8 84h8m-7-109h8m-8 23h8m-8 59h8m-8 7h8m-8 5h8m-7-101h8m-7 20h8m-8 80h8m-7-152h8m-8 86h8m-8 11h8m-7-68h8m-8 23h8m-7-10h8m-7 106h8m-8 34h8m-7-134h8m-8 39h8m-8 13h8m-8 47h8m-7-65h8m-8 72h8m-7-35h8m-8 71h8m-7-127h8m-8 6h8m-8 23h8m-7 10h8m-8 11h8m-7-56h8m-8 59h8m-7-75h8m-8 76h8m-7-20h8m-8 12h8m-8 2h8m-8 6h8m-7-93h8m-8 120h8m-7-82h8m-7-62h8m-8 111h8m-8 29h8m-7-105h8m-8 42h8m-8 82h8m-8 7h8m-7-129h8m-8 52h8m-8 20h8m-7-64h8m-8 39h8m-7 7h8m-8 3h8m-8 31h8m-7-102h8m-8 29h8m-8 23h8m-7 49h8m-7-33h8m-8 46h8m-7-65h8m-8 60h8m-7-85h8m-8 26h8m-7 5h8m-7 27h8m-7-31h8m-8 118h8m-7-138h8m-8 105h8m-7-63h8m-8 13h8m-7-3h8m-7-83h8m-8 33h8m-7 3h8m-8 92h8m-7-120h8m-8 28h8m-7-9h8m-8 42h8m-8 15h8m-5-34h8m-7 110h8m-7-87h8m-8 76h8m-7-99h8m-8 10h8m-8 66h8m-6-131h8m-8 4h8m-8 108h8m-7 4h8m-7-7h8m-6-135h8m-8 85h8m-8 59h8m-8 12h8m-6-57h8m-8 51h8m-5-17h8m-6-26h8m-7-18h8m-7 46h8m-7-56h8m-7 15h8m-8 57h8m-7-43h8m-6-43h8m-8 11h8m-8 2h8m-8 65h8m-5-58h8m-7 74h8m-6-65h8m-7 5h8m-8 79h8m-5-41h8m-7-21h8m-5 11h8m-4 46h8m-5-87h8m-7 20h8m-8 17h8m-1-60h8m-8 70h8m-7-89h8m-7 14h8m-7 67h8m-7-112h8m-6 41h8m2 67h8m-7-117h8m-7 125h8m-6 47h8m-5-113h8m-4 27h8m0 32h8m4 23h8m21-13h8" stroke="#1c18d0" stroke-width="8" fill="none"/>
<path transform="scale(.1)" d="m4402 1004h8m-6-10h8m-3-94h8m-3 55h8m-5-16h8m4-18h8m-3 80h8m-3-34h8m-7-57h8m-4 96h8m-6 9h8m-6-75h8m-6 48h8m-7-33h8m-4 87h8m-1-104h8m-7 101h8m-7-32h8m-6-55h8m-7 24h8m-6 27h8m-8 29h8m-7-78h8m-6 19h8m-6-16h8m-6 46h8m-7 19h8m-7-55h8m3-33h8m-5 13h8m-7 19h8m-7-26h8m-7 28h8m-8 46h8m-5-7h8m-4-61h8m-8 91h8m-6-80h8m-8 26h8m-7 49h8m-5-30h8m-7-65h8m-7 36h8m-6-42h8m-8 93h8m-7-35h8m-5-25h8m-6 16h8m-5 20h8m-7-26h8m-7-41h8m-7 88h8m-7-46h8m-7-20h8m-7-29h8m-8 80h8m-7-47h8m-8 64h8m-7-116h8m-6 90h8m-6 5h8m-5-57h8m-7 21h8m-6 19h8m-7 14h8m-8 40h8m-5-43h8m-6-48h8m-8 57h8m-7-78h8m-6 73h8m-8 8h8m-6 11h8m-7-36h8m-8 23h8m-7-19h8m-7-5h8m-8 2h8m-7-56h8m-8 1h8m-8 83h8m-5-30h8m-4 13h8m-7-73h8m-8 11h8m-7 122h8m-7-119h8m-6-33h8m-7 4h8m-8 74h8m-8 56h8m-8 3h8m-6-124h8m-8 46h8m-6-4h8m-8 16h8m-8 1h8m-7-44h8m-7 10h8m-8 27h8m-7-41h8m-8 66h8m-8 54h8m-7-149h8m-5 31h8m-6 23h8m-8 42h8m-7-70h8m-7 36h8m-6 17h8m-8 21h8m-7-30h8m-8 23h8m-7-80h8m-8 130h8m-6-85h8m-8 25h8m-8 47h8m-5-114h8m-8 6h8m-8 72h8m-6 0h8m-4-35h8m-7-40h8m-8 32h8m-8 37h8m-7-36h8m-8 43h8m-7-11h8m-8 12h8m-6-54h8m-7 15h8m-2 27h8m-2-41h8m-7 4h8m-7 43h8m-7-7h8m-7 16h8m-5-70h8m-7 74h8m-7-65h8m-8 66h8m-7-60h8m-5 13h8m-8 51h8m-7 4h8m-5-81h8m-3 105h8m-7-13h8m-8 38h8m-7-99h8m-7-25h8m-7 11h8m-8 46h8m-3 5h8m-6-74h8m-8 122h8m-6-77h8m-3 34h8m-3-82h8m-7 59h8m-7 14h8m-1 60h8m-6-142h8m-5 106h8m2-30h8m12-75h8m-7 133h8m-2-34h8m-6-116h8" stroke="#0c0a60" stroke-width="8" fill="none"/>
<g filter="url(#b2)" fill="#1410f0"><ellipse cx="483" cy="97.2" rx="4.4" ry="6.6"/></g>
<path transform="scale(.1)" d="m4695 926h8m9 91h8m-4-33h8m-8 43h8m-2 22h8m-1-13h8m-8 8h8m-7-165h8m-7 12h8m-8 91h8m-7 40h8m-7-50h8m-7 51h8m-6-115h8m-8 34h8m-8 17h8m-7-40h8m-5 16h8m-8 39h8m-8 6h8m-7-114h8m-7 148h8m-7-54h8m-7-45h8m-8 16h8m-7 140h8m-7-116h8m-8 115h8m-6-128h8m-7 91h8m-7-161h8m-8 163h8m-7-36h8m-7-77h8m-7 77h8m-8 80h8m-7-89h8m-7-31h8m-8 80h8m-7-92h8m-8 5h8m-7-21h8m-8 31h8m-8 37h8m-6-71h8m-8 103h8m-7-128h8m-7 52h8m-8 42h8m-8 42h8m-8 38h8m-7-186h8m-8 46h8m-8 60h8m-7-70h8m-8 19h8m-8 148h8m-7-195h8m-8 72h8m-8 60h8m-7-158h8m-8 26h8m-8 76h8m-8 48h8m-7-134h8m-8 12h8m-8 43h8m-8 82h8m-8 27h8m-7-87h8m-8 25h8m-8 59h8m-7-186h8m-8 102h8m-8 22h8m-8 46h8m-7-150h8m-8 32h8m-8 24h8m-8 43h8m-8 10h8m-8 51h8m-8 22h8m-7-173h8m-8 36h8m-8 37h8m-8 12h8m-8 3h8m-8 12h8m-8 2h8m-8 6h8m-8 2h8m-8 24h8m-7-152h8m-8 9h8m-8 162h8m-8 31h8m-7-194h8m-8 24h8m-8 36h8m-8 65h8m-8 27h8m-7-118h8m-8 3h8m-8 3h8m-8 127h8m-8 0h8m-8 9h8m-7-165h8m-8 31h8m-8 13h8m-8 2h8m-8 4h8m-8 26h8m-8 1h8m-8 7h8m-8 38h8m-7-79h8m-8 10h8m-8 35h8m-8 13h8m-8 65h8m-8 8h8m-7-179h8m-8 48h8m-8 2h8m-8 26h8m-8 29h8m-8 40h8m-7-166h8m-8 102h8m-8 13h8m-7-58h8m-8 26h8m-8 67h8m-8 2h8m-8 8h8m-7-112h8m-8 87h8m-8 37h8m-7-173h8m-8 30h8m-8 10h8m-8 22h8m-8 16h8m-8 5h8m-8 7h8m-8 117h8m-8 20h8m-7-229h8m-8 36h8m-8 9h8m-8 26h8m-8 5h8m-8 17h8m-8 1h8m-8 42h8m-8 12h8m-8 31h8m-8 12h8m-7-150h8m-8 30h8m-8 7h8m-8 5h8m-8 13h8m-8 5h8m-8 5h8m-8 0h8m-8 29h8m-8 76h8m-7-210h8m-8 41h8m-8 3h8m-8 11h8m-8 22h8m-8 4h8m-8 2h8m-8 2h8m-8 19h8m-8 18h8m-8 7h8m-8 3h8m-8 15h8m-8 81h8m-7-212h8m-8 6h8m-8 14h8m-8 10h8m-8 27h8m-8 3h8m-8 4h8m-8 3h8m-8 5h8m-8 33h8m-8 25h8m-8 4h8m-8 12h8m-7-133h8m-8 23h8m-8 6h8m-8 68h8m-8 0h8m-8 31h8m-7-109h8m-8 19h8m-8 35h8m-8 2h8m-8 14h8m-8 2h8m-8 0h8m-8 4h8m-8 23h8m-8 17h8m-7-169h8m-8 58h8m-8 42h8m-8 13h8m-8 1h8m-8 28h8m-8 14h8m-8 1h8m-8 27h8m-8 17h8m-7-189h8m-8 58h8m-8 11h8m-8 4h8m-8 27h8m-8 6h8m-8 13h8m-8 67h8m-7-181h8m-8 6h8m-8 55h8m-8 7h8m-8 9h8m-8 14h8m-8 16h8m-8 7h8m-8 29h8m-8 34h8m-7-193h8m-8 80h8m-8 32h8m-8 1h8m-8 5h8m-8 18h8m-8 15h8m-8 2h8m-8 54h8m-7-171h8m-8 9h8m-8 13h8m-8 13h8m-8 6h8m-8 2h8m-8 43h8m-8 21h8m-8 36h8m-8 36h8m-7-174h8m-8 11h8m-8 37h8m-8 19h8m-8 19h8m-8 12h8m-8 31h8m-8 25h8m-7-119h8m-8 26h8m-8 36h8m-8 33h8m-8 25h8m-8 29h8m-7-189h8m-8 19h8m-8 37h8m-8 4h8m-8 7h8m-8 9h8m-8 1h8m-8 49h8m-8 16h8m-8 11h8m-8 23h8m-7-151h8m-8 0h8m-8 6h8m-8 7h8m-8 19h8m-8 18h8m-8 11h8m-8 26h8m-8 18h8m-8 4h8m-8 24h8m-7-188h8m-8 21h8m-8 11h8m-8 7h8m-8 8h8m-8 34h8m-8 26h8m-8 3h8m-8 3h8m-8 6h8m-8 11h8m-8 6h8m-8 24h8m-8 4h8m-8 3h8m-8 31h8m-8 4h8m-7-196h8m-8 9h8m-8 6h8m-8 19h8m-8 9h8m-8 15h8m-8 5h8m-8 0h8m-8 6h8m-8 8h8m-8 6h8m-8 23h8m-8 12h8m-8 18h8m-8 6h8m-8 1h8m-8 9h8m-7-142h8m-8 45h8m-8 2h8m-8 15h8m-8 18h8m-8 26h8m-8 8h8m-8 7h8m-8 5h8m-8 6h8m-8 8h8m-8 23h8m-8 43h8m-7-214h8m-8 57h8m-8 4h8m-8 13h8m-8 0h8m-8 1h8m-8 1h8m-8 6h8m-8 1h8m-8 9h8m-8 5h8m-8 23h8m-8 7h8m-8 4h8m-8 19h8m-8 1h8m-8 26h8m-7-175h8m-8 54h8m-8 6h8m-8 7h8m-8 3h8m-8 17h8m-8 2h8m-8 26h8m-8 5h8m-8 1h8m-8 2h8m-8 70h8m-7-216h8m-8 69h8m-8 5h8m-8 2h8m-8 5h8m-8 13h8m-8 16h8m-8 18h8m-8 51h8m-8 1h8m-8 12h8m-8 36h8m-7-195h8m-8 2h8m-8 11h8m-8 56h8m-8 7h8m-8 13h8m-8 28h8m-8 1h8m-8 32h8m-8 8h8m-8 23h8m-7-187h8m-8 37h8m-8 2h8m-8 1h8m-8 3h8m-8 32h8m-8 10h8m-8 19h8m-8 1h8m-8 7h8m-8 0h8m-8 52h8m-8 16h8m-8 11h8m-7-187h8m-8 26h8m-8 1h8m-8 22h8m-8 26h8m-8 13h8m-8 31h8m-8 1h8m-8 26h8m-8 9h8m-7-182h8m-8 9h8m-8 33h8m-8 31h8m-8 11h8m-8 17h8m-8 8h8m-8 21h8m-8 79h8m-7-173h8m-8 54h8m-8 7h8m-8 4h8m-8 12h8m-8 1h8m-8 19h8m-8 0h8m-8 10h8m-8 3h8m-8 3h8m-8 20h8m-8 2h8m-7-146h8m-8 31h8m-8 29h8m-8 3h8m-8 1h8m-8 1h8m-8 18h8m-8 5h8m-8 2h8m-8 10h8m-8 7h8m-8 12h8m-8 15h8m-8 29h8m-7-128h8m-8 3h8m-8 3h8m-8 2h8m-8 7h8m-8 4h8m-8 2h8m-8 7h8m-8 8h8m-8 29h8m-8 1h8m-8 2h8m-8 5h8m-8 10h8m-8 5h8m-8 19h8m-8 55h8m-7-217h8m-8 9h8m-8 33h8m-8 38h8m-8 5h8m-8 7h8m-8 14h8m-8 5h8m-8 7h8m-8 6h8m-8 2h8m-8 15h8m-8 35h8m-8 9h8m-8 49h8m-7-224h8m-8 9h8m-8 24h8m-8 31h8m-8 21h8m-8 13h8m-8 3h8m-8 6h8m-8 18h8m-8 7h8m-8 9h8m-7-143h8m-8 61h8m-8 11h8m-8 10h8m-8 11h8m-8 6h8m-8 12h8m-8 3h8m-8 5h8m-8 7h8m-8 7h8m-8 7h8m-8 4h8m-7-163h8m-8 22h8m-8 17h8m-8 15h8m-8 1h8m-8 13h8m-8 2h8m-8 7h8m-8 11h8m-8 7h8m-8 23h8m-8 2h8m-8 3h8m-8 6h8m-8 4h8m-8 3h8m-8 38h8m-8 33h8m-8 1h8m-7-199h8m-8 68h8m-8 2h8m-8 21h8m-8 15h8m-8 27h8m-8 1h8m-8 7h8m-8 34h8m-8 2h8m-8 30h8m-7-203h8m-8 5h8m-8 15h8m-8 13h8m-8 15h8m-8 16h8m-8 6h8m-8 2h8m-8 4h8m-8 16h8m-8 5h8m-8 0h8m-8 40h8m-8 10h8m-8 6h8m-8 26h8m-7-194h8m-8 39h8m-8 29h8m-8 13h8m-8 17h8m-8 5h8m-8 5h8m-8 6h8m-8 17h8m-8 3h8m-8 26h8m-8 14h8m-7-168h8m-8 45h8m-8 7h8m-8 8h8m-8 8h8m-8 3h8m-8 24h8m-8 8h8m-8 1h8m-8 3h8m-8 13h8m-8 12h8m-8 0h8m-8 15h8m-8 17h8m-8 7h8m-8 12h8m-8 51h8m-7-193h8m-8 0h8m-8 15h8m-8 21h8m-8 13h8m-8 19h8m-8 5h8m-8 5h8m-8 19h8m-8 0h8m-7-141h8m-8 12h8m-8 40h8m-8 24h8m-8 5h8m-8 26h8m-8 8h8m-8 2h8m-8 26h8m-8 15h8m-8 6h8m-8 4h8m-8 14h8m-8 3h8m-7-147h8m-8 8h8m-8 3h8m-8 11h8m-8 17h8m-8 12h8m-8 3h8m-8 9h8m-8 24h8m-8 8h8m-8 2h8m-8 2h8m-8 27h8m-8 12h8m-8 4h8m-8 13h8m-7-185h8m-8 18h8m-8 12h8m-8 28h8m-8 3h8m-8 11h8m-8 1h8m-8 1h8m-8 14h8m-8 5h8m-8 15h8m-8 12h8m-8 22h8m-8 20h8m-8 12h8m-8 46h8m-7-198h8m-8 54h8m-8 1h8m-8 3h8m-8 6h8m-8 15h8m-8 6h8m-8 1h8m-8 12h8m-8 6h8m-8 2h8m-8 1h8m-8 1h8m-8 2h8m-8 33h8m-8 2h8m-8 3h8m-8 4h8m-8 0h8m-8 9h8m-7-137h8m-8 4h8m-8 5h8m-8 4h8m-8 0h8m-8 3h8m-8 6h8m-8 14h8m-8 7h8m-8 2h8m-8 5h8m-8 4h8m-8 33h8m-8 13h8m-8 41h8m-8 17h8m-7-188h8m-8 41h8m-8 25h8m-8 14h8m-8 4h8m-8 15h8m-8 10h8m-8 4h8m-8 13h8m-8 8h8m-8 9h8m-8 7h8m-8 0h8m-8 1h8m-7-133h8m-8 11h8m-8 7h8m-8 16h8m-8 1h8m-8 10h8m-8 3h8m-8 3h8m-8 30h8m-8 11h8m-8 17h8m-8 15h8m-8 54h8m-7-196h8m-8 4h8m-8 5h8m-8 38h8m-8 6h8m-8 20h8m-8 3h8m-8 1h8m-8 34h8m-8 4h8m-8 1h8m-8 4h8m-8 0h8m-8 76h8m-7-223h8m-8 51h8m-8 16h8m-8 11h8m-8 3h8m-8 2h8m-8 7h8m-8 4h8m-8 16h8m-8 7h8m-8 8h8m-8 16h8m-8 6h8m-8 5h8m-7-111h8m-8 50h8m-8 24h8m-8 2h8m-8 17h8m-8 2h8m-8 45h8m-8 18h8m-7-200h8m-8 67h8m-8 28h8m-8 2h8m-8 9h8m-8 3h8m-8 11h8m-8 2h8m-8 4h8m-8 5h8m-8 8h8m-8 3h8m-8 34h8m-8 8h8m-8 18h8m-8 10h8m-8 3h8m-7-199h8m-8 8h8m-8 62h8m-8 5h8m-8 8h8m-8 1h8m-8 4h8m-8 0h8m-8 12h8m-8 14h8m-8 3h8m-8 13h8m-8 44h8m-8 11h8m-8 19h8m-7-175h8m-8 0h8m-8 13h8m-8 3h8m-8 3h8m-8 2h8m-8 1h8m-8 0h8m-8 16h8m-8 1h8m-8 21h8m-8 0h8m-8 27h8m-8 5h8m-8 6h8m-8 37h8m-8 11h8m-8 9h8m-7-182h8m-8 45h8m-8 0h8m-8 2h8m-8 24h8m-8 10h8m-8 1h8m-8 11h8m-8 4h8m-8 5h8m-8 1h8m-8 0h8m-8 1h8m-8 5h8m-8 11h8m-8 4h8m-8 13h8m-8 17h8m-7-170h8m-8 73h8m-8 38h8m-8 0h8m-8 4h8m-8 13h8m-8 0h8m-8 2h8m-8 1h8m-8 3h8m-8 5h8m-8 9h8m-8 10h8m-8 8h8m-8 7h8m-8 12h8m-8 6h8m-8 3h8m-8 34h8m-7-169h8m-8 2h8m-8 7h8m-8 16h8m-8 4h8m-8 1h8m-8 5h8m-8 6h8m-8 5h8m-8 8h8m-8 1h8m-8 10h8m-8 10h8m-8 3h8m-8 6h8m-8 3h8m-8 6h8m-8 5h8m-8 27h8m-8 10h8m-8 3h8m-8 13h8m-7-157h8m-8 4h8m-8 31h8m-8 22h8m-8 13h8m-8 5h8m-8 46h8m-8 1h8m-8 34h8m-7-201h8m-8 53h8m-8 23h8m-8 6h8m-8 1h8m-8 1h8m-8 3h8m-8 24h8m-8 17h8m-8 3h8m-8 17h8m-8 20h8m-8 8h8m-7-141h8m-8 10h8m-8 14h8m-8 9h8m-8 5h8m-8 2h8m-8 8h8m-8 98h8m-8 6h8m-8 3h8m-7-195h8m-8 17h8m-8 33h8m-8 3h8m-8 11h8m-8 7h8m-8 1h8m-8 46h8m-8 34h8m-8 4h8m-8 46h8m-7-162h8m-8 0h8m-8 24h8m-8 20h8m-8 27h8m-8 15h8m-8 28h8m-8 23h8m-7-169h8m-8 14h8m-8 32h8m-8 2h8m-8 2h8m-8 7h8m-8 15h8m-8 26h8m-8 31h8m-8 22h8m-8 1h8m-8 4h8m-8 11h8m-8 10h8m-8 13h8m-7-178h8m-8 4h8m-8 55h8m-8 5h8m-8 7h8m-8 9h8m-8 29h8m-8 11h8m-8 6h8m-8 5h8m-8 12h8m-8 8h8m-8 15h8m-7-111h8m-8 8h8m-8 3h8m-8 7h8m-8 8h8m-8 9h8m-8 7h8m-8 1h8m-8 19h8m-8 2h8m-8 5h8m-8 9h8m-8 72h8m-7-128h8m-8 6h8m-8 3h8m-8 11h8m-8 20h8m-8 22h8m-8 9h8m-8 1h8m-8 6h8m-8 8h8m-7-153h8m-8 59h8m-8 3h8m-8 20h8m-8 12h8m-8 12h8m-8 10h8m-8 45h8m-7-140h8m-8 5h8m-8 3h8m-8 35h8m-8 22h8m-8 8h8m-8 1h8m-8 11h8m-8 7h8m-8 5h8m-8 10h8m-8 0h8m-8 30h8m-7-179h8m-8 41h8m-8 5h8m-8 51h8m-8 21h8m-8 21h8m-8 31h8m-8 4h8m-7-128h8m-8 33h8m-8 7h8m-8 3h8m-8 2h8m-8 4h8m-8 19h8m-8 4h8m-8 27h8m-8 39h8m-8 42h8m-7-202h8m-8 28h8m-8 7h8m-8 8h8m-8 4h8m-8 36h8m-8 22h8m-8 26h8m-8 22h8m-8 19h8m-7-141h8m-8 31h8m-8 5h8m-8 10h8m-8 0h8m-8 1h8m-8 29h8m-8 5h8m-8 6h8m-8 21h8m-7-133h8m-8 36h8m-8 9h8m-8 21h8m-8 30h8m-8 1h8m-8 0h8m-8 8h8m-8 5h8m-8 7h8m-8 32h8m-8 16h8m-7-138h8m-8 29h8m-8 53h8m-8 9h8m-8 1h8m-8 22h8m-7-111h8m-8 40h8m-8 5h8m-8 1h8m-8 37h8m-8 0h8m-8 5h8m-8 3h8m-8 24h8m-7-187h8m-8 23h8m-8 50h8m-8 22h8m-8 1h8m-8 13h8m-8 4h8m-8 13h8m-8 18h8m-8 14h8m-8 25h8m-7-99h8m-8 8h8m-8 1h8m-8 29h8m-8 15h8m-8 11h8m-8 28h8m-8 1h8m-8 2h8m-8 2h8m-8 5h8m-8 1h8m-7-168h8m-8 9h8m-8 12h8m-8 7h8m-8 29h8m-8 21h8m-8 13h8m-8 54h8m-8 21h8m-8 56h8m-7-191h8m-8 14h8m-8 32h8m-8 21h8m-8 52h8m-8 5h8m-8 3h8m-7-155h8m-8 48h8m-8 14h8m-8 2h8m-8 33h8m-8 10h8m-8 16h8m-8 1h8m-8 5h8m-8 29h8m-7-140h8m-8 15h8m-8 13h8m-8 10h8m-8 11h8m-8 29h8m-8 6h8m-8 11h8m-8 87h8m-7-175h8m-8 6h8m-8 6h8m-8 9h8m-8 34h8m-8 7h8m-8 2h8m-8 4h8m-8 9h8m-8 5h8m-8 17h8m-8 15h8m-7-114h8m-8 2h8m-8 14h8m-8 20h8m-8 2h8m-8 12h8m-8 8h8m-8 7h8m-8 9h8m-8 5h8m-8 13h8m-7-98h8m-8 1h8m-8 4h8m-8 47h8m-8 0h8m-8 3h8m-8 1h8m-8 3h8m-8 4h8m-8 43h8m-8 14h8m-8 8h8m-8 8h8m-8 12h8m-7-154h8m-8 20h8m-8 2h8m-8 11h8m-8 4h8m-8 33h8m-8 2h8m-8 2h8m-8 12h8m-8 38h8m-8 63h8m-7-167h8m-8 12h8m-8 7h8m-8 51h8m-8 29h8m-8 3h8m-7-77h8m-8 7h8m-8 31h8m-8 26h8m-7-109h8m-8 39h8m-8 43h8m-8 1h8m-8 20h8m-8 21h8m-7-108h8m-8 4h8m-8 10h8m-8 26h8m-8 15h8m-8 5h8m-8 10h8m-8 7h8m-8 19h8m-8 22h8m-8 43h8m-7-175h8m-8 97h8m-8 10h8m-8 34h8m-7-131h8m-8 34h8m-8 25h8m-8 14h8m-8 3h8m-8 40h8m-7-146h8m-8 32h8m-8 41h8m-8 10h8m-8 28h8m-8 3h8m-8 13h8m-8 24h8m-8 54h8m-7-110h8m-8 5h8m-8 1h8m-8 2h8m-8 4h8m-8 3h8m-8 10h8m-8 52h8m-7-136h8m-8 48h8m-8 12h8m-8 30h8m-8 4h8m-8 9h8m-8 44h8m-7-143h8m-8 24h8m-8 59h8m-8 103h8m-7-231h8m-8 105h8m-8 39h8m-8 28h8m-7-109h8m-8 41h8m-7-35h8m-8 33h8m-8 27h8m-7-74h8m-8 33h8m-8 8h8m-8 44h8m-7-80h8m-8 5h8m-8 6h8m-8 88h8m-8 59h8m-7-180h8m-8 56h8m-8 16h8m-8 17h8m-8 15h8m-8 63h8m-7-183h8m-8 57h8m-8 19h8m-8 36h8m-8 14h8m-7-130h8m-8 56h8m-8 25h8m-8 19h8m-8 7h8m-8 5h8m-8 19h8m-8 23h8m-6-79h8m-8 11h8m-8 62h8m-8 27h8m-7-151h8m-8 10h8m-8 23h8m-8 15h8m-8 5h8m-8 13h8m-8 32h8m-7-125h8m-8 20h8m-8 88h8m-7-3h8m-8 14h8m-8 41h8m-7-33h8m-7-81h8m-8 6h8m-8 62h8m-6-54h8m-7 41h8m-8 18h8m-8 37h8m-8 30h8m-7-95h8m-8 50h8m-7-80h8m-8 33h8m-8 20h8m-8 7h8m-6-113h8m-8 8h8m-7 0h8m-8 63h8m-8 67h8m-7-49h8m-8 32h8m-7-42h8m-7-41h8m-7-21h8m-8 4h8m-6 18h8m-8 37h8m-8 30h8m-7-87h8m-8 15h8m-7 58h8m-8 38h8m-6-29h8" stroke="#1512ee" stroke-width="8" fill="none"/>
<path transform="scale(.1)" d="m4384 877h7m35 41h7m4-136h7m12 51h7m-2 70h7m25-40h7m4-34h7m-6 2h7m-6-39h7m3 150h7m-5 89h7m-2-190h7m2 40h7m-3-41h7m-5 91h7m-2-116h7m-4 147h7m6-96h7m-4 111h7m-3-141h7m-4-95h7m2-1h7m-4 107h7m-7 110h7m-3-44h7m14-78h7m-7 130h7m-5-131h7m-4 124h7m3 4h7m0 52h7m-5-76h7m-4 46h7m-4-159h7m-4 105h7m-5-69h7m5-16h7m-4 84h7m-5-53h7m-5-1h7m-1 71h7m8-27h7m-4-251h7m6 174h7m-7 69h7m-2-12h7m10 42h7m-1-46h7m14 17h7m-6-153h7m6 172h7m23 42h7m1-237h7m-6 73h7m9 222h7m-5-180h7m-3 30h7m8 65h7m-5 62h7m-5-90h7m-4-169h7m18 128h7m-5 13h7m-6-76h7m25-41h7m-7 286h7m1-289h7m2 84h7m8 117h7m43 35h7" stroke="#223" stroke-width="7" fill="none"/>
<rect x="434.4" y="29.2" width="81.39999999999998" height="85.1" fill="none" stroke="#3c3c3c" stroke-width="0.85"/>
<line x1="469.6" y1="29.2" x2="469.6" y2="114.3" stroke="#444" stroke-width="0.8"/>
<line x1="434.4" y1="83.3" x2="515.8" y2="83.3" stroke="#444" stroke-width="0.8"/>
<path d="M431.1 37.3h3.3M431.1 56.4h3.3M431.1 75.5h3.3M431.1 94.6h3.3M432.5 50.7h1.9M432.5 47.3h1.9M432.5 44.9h1.9M432.5 43.0h1.9M432.5 41.5h1.9M432.5 40.3h1.9M432.5 39.2h1.9M432.5 38.2h1.9M432.5 69.8h1.9M432.5 66.4h1.9M432.5 64.0h1.9M432.5 62.1h1.9M432.5 60.6h1.9M432.5 59.4h1.9M432.5 58.3h1.9M432.5 57.3h1.9M432.5 88.9h1.9M432.5 85.5h1.9M432.5 83.1h1.9M432.5 81.2h1.9M432.5 79.7h1.9M432.5 78.5h1.9M432.5 77.4h1.9M432.5 76.4h1.9M432.5 102.2h1.9M432.5 100.3h1.9M432.5 98.8h1.9M432.5 97.6h1.9M432.5 96.5h1.9M432.5 95.5h1.9M432.5 99.8h1.9M432.5 101.9h1.9M432.5 104.0h1.9M432.5 106.1h1.9M432.5 108.2h1.9M432.5 110.3h1.9M432.5 112.4h1.9" stroke="#222" stroke-width="0.7" fill="none"/>
<text x="429.2" y="39.9" font-size="4.6" fill="#111" font-weight="bold" transform="rotate(-90 429.2 39.9)">10<tspan dy="-1.6" font-size="3">5</tspan></text>
<text x="429.2" y="59.0" font-size="4.6" fill="#111" font-weight="bold" transform="rotate(-90 429.2 59.0)">10<tspan dy="-1.6" font-size="3">4</tspan></text>
<text x="429.2" y="78.1" font-size="4.6" fill="#111" font-weight="bold" transform="rotate(-90 429.2 78.1)">10<tspan dy="-1.6" font-size="3">3</tspan></text>
<text x="429.2" y="97.2" font-size="4.6" fill="#111" font-weight="bold" transform="rotate(-90 429.2 97.2)">10<tspan dy="-1.6" font-size="3">2</tspan></text>
<rect x="425.4" y="103.3" width="4.4" height="1.5" fill="#111"/>
<text x="428.2" y="113.8" font-size="3.6" fill="#333" font-weight="bold" transform="rotate(-90 428.2 113.8)">-222</text>
<path d="M451.4 114.3v3.3M469.8 114.3v3.3M490.5 114.3v3.3M511.2 114.3v3.3M476.0 114.3v1.9M479.7 114.3v1.9M482.3 114.3v1.9M484.3 114.3v1.9M485.9 114.3v1.9M487.3 114.3v1.9M488.5 114.3v1.9M489.6 114.3v1.9M496.7 114.3v1.9M500.4 114.3v1.9M503.0 114.3v1.9M505.0 114.3v1.9M506.6 114.3v1.9M508.0 114.3v1.9M509.2 114.3v1.9M510.3 114.3v1.9M438.1 114.3v1.9M440.0 114.3v1.9M441.9 114.3v1.9M443.8 114.3v1.9M445.7 114.3v1.9M447.6 114.3v1.9M449.5 114.3v1.9M453.3 114.3v1.9M455.2 114.3v1.9M457.1 114.3v1.9M459.0 114.3v1.9M460.9 114.3v1.9M462.8 114.3v1.9M464.7 114.3v1.9M466.6 114.3v1.9" stroke="#222" stroke-width="0.7" fill="none"/>
<text x="451.4" y="121.7" font-size="4.6" fill="#111" text-anchor="middle" font-weight="bold">0</text>
<text x="470.1" y="121.9" font-size="4.6" fill="#111" text-anchor="middle" font-weight="bold">10<tspan dy="-1.6" font-size="3">3</tspan></text>
<text x="490.8" y="121.9" font-size="4.6" fill="#111" text-anchor="middle" font-weight="bold">10<tspan dy="-1.6" font-size="3">4</tspan></text>
<text x="511.5" y="121.9" font-size="4.6" fill="#111" text-anchor="middle" font-weight="bold">10<tspan dy="-1.6" font-size="3">5</tspan></text>
<text x="437.0" y="125.9" font-size="4" fill="#222" text-anchor="middle" font-weight="bold">-449</text>
<text x="439.2" y="46.599999999999994" font-size="18" text-anchor="start" font-weight="bold" fill="#000" stroke="#000" stroke-width="0.22">D</text>
<text x="471.9" y="41.5" font-size="11" text-anchor="start" fill="#111" stroke="#111" stroke-width="0.22">CX3CR1</text>
<text x="493.0" y="103.5" font-size="8.7" text-anchor="start" fill="#333" stroke="#333" stroke-width="0.22">88 %</text>
<line x1="80.5" y1="159" x2="80.5" y2="246.70000000000002" stroke="#333" stroke-width="0.9"/>
<line x1="77.7" y1="168.3" x2="80.5" y2="168.3" stroke="#333" stroke-width="0.9"/>
<text x="72.3" y="172.4" font-size="11" text-anchor="end" fill="#111" stroke="#111" stroke-width="0.22">4000</text>
<line x1="77.7" y1="187.8" x2="80.5" y2="187.8" stroke="#333" stroke-width="0.9"/>
<text x="72.3" y="191.9" font-size="11" text-anchor="end" fill="#111" stroke="#111" stroke-width="0.22">3000</text>
<line x1="77.7" y1="207.3" x2="80.5" y2="207.3" stroke="#333" stroke-width="0.9"/>
<text x="72.3" y="211.4" font-size="11" text-anchor="end" fill="#111" stroke="#111" stroke-width="0.22">2000</text>
<line x1="77.7" y1="226.8" x2="80.5" y2="226.8" stroke="#333" stroke-width="0.9"/>
<text x="72.3" y="230.9" font-size="11" text-anchor="end" fill="#111" stroke="#111" stroke-width="0.22">1000</text>
<line x1="77.7" y1="246.3" x2="80.5" y2="246.3" stroke="#333" stroke-width="0.9"/>
<text x="72.3" y="250.4" font-size="11" text-anchor="end" fill="#111" stroke="#111" stroke-width="0.22">0</text>
<line x1="80.5" y1="246.3" x2="287" y2="246.3" stroke="#333" stroke-width="1"/>
<path d="M97.92 198.30V193.80M94.52 193.80h6.8" stroke="#4a2c2c" stroke-width="0.9" fill="none"/>
<path d="M118.17 204.30V200.50M114.77 200.50h6.8" stroke="#4a2c2c" stroke-width="0.9" fill="none"/>
<rect x="87.80" y="198.30" width="20.25" height="48.00" fill="#ff0303" stroke="#b00000" stroke-width="0.9"/>
<rect x="108.05" y="204.30" width="20.25" height="42.00" fill="#960000" stroke="#640000" stroke-width="0.9"/>
<path d="M148.32 215.50V212.50M144.92 212.50h6.8" stroke="#4a2c2c" stroke-width="0.9" fill="none"/>
<path d="M168.57 220.60V218.20M165.17 218.20h6.8" stroke="#4a2c2c" stroke-width="0.9" fill="none"/>
<rect x="138.20" y="215.50" width="20.25" height="30.80" fill="#ff0303" stroke="#b00000" stroke-width="0.9"/>
<rect x="158.45" y="220.60" width="20.25" height="25.70" fill="#960000" stroke="#640000" stroke-width="0.9"/>
<path d="M198.93 228.80V226.80M195.53 226.80h6.8" stroke="#4a2c2c" stroke-width="0.9" fill="none"/>
<path d="M219.18 232.10V231.20M215.78 231.20h6.8" stroke="#4a2c2c" stroke-width="0.9" fill="none"/>
<rect x="188.80" y="228.80" width="20.25" height="17.50" fill="#ff0303" stroke="#b00000" stroke-width="0.9"/>
<rect x="209.05" y="232.10" width="20.25" height="14.20" fill="#960000" stroke="#640000" stroke-width="0.9"/>
<path d="M249.32 227.00V223.80M245.92 223.80h6.8" stroke="#4a2c2c" stroke-width="0.9" fill="none"/>
<path d="M269.57 228.00V225.00M266.18 225.00h6.8" stroke="#4a2c2c" stroke-width="0.9" fill="none"/>
<rect x="239.20" y="227.00" width="20.25" height="19.30" fill="#ff0303" stroke="#b00000" stroke-width="0.9"/>
<rect x="259.45" y="228.00" width="20.25" height="18.30" fill="#960000" stroke="#640000" stroke-width="0.9"/>
<path d="M108.2 181.1V175.6H158.6V181.1" stroke="#3a3a3a" stroke-width="0.9" fill="none"/>
<text x="133" y="176.4" font-size="17" text-anchor="middle" fill="#111" stroke="#111" stroke-width="0.25">***</text>
<path d="M158.4 198.1V192.6H209.2V198.1" stroke="#3a3a3a" stroke-width="0.9" fill="none"/>
<text x="184.3" y="193.1" font-size="17" text-anchor="middle" fill="#111" stroke="#111" stroke-width="0.25">***</text>
<text x="110" y="197.4" font-size="17" text-anchor="middle" fill="#111" stroke="#111" stroke-width="0.25">**</text>
<text x="160" y="214.4" font-size="17" text-anchor="middle" fill="#111" stroke="#111" stroke-width="0.25">**</text>
<text x="209.3" y="229.9" font-size="17" text-anchor="middle" fill="#111" stroke="#111" stroke-width="0.25">*</text>
<text x="86.3" y="166.3" font-size="18" text-anchor="start" font-weight="bold" fill="#000" stroke="#000" stroke-width="0.22">E</text>
<text x="13.2" y="202" font-size="13.8" text-anchor="middle" fill="#111" transform="rotate(-90 13.2 202)" stroke="#111" stroke-width="0.22">CXCR4 MFI</text>
<line x1="310" y1="246.6" x2="516.3" y2="246.6" stroke="#333" stroke-width="1"/>
<path d="M327.52 179.30V174.30M324.12 174.30h6.8" stroke="#4a2c2c" stroke-width="0.9" fill="none"/>
<path d="M347.77 189.30V185.50M344.38 185.50h6.8" stroke="#4a2c2c" stroke-width="0.9" fill="none"/>
<rect x="317.40" y="179.30" width="20.25" height="67.30" fill="#ff0303" stroke="#b00000" stroke-width="0.9"/>
<rect x="337.65" y="189.30" width="20.25" height="57.30" fill="#960000" stroke="#640000" stroke-width="0.9"/>
<path d="M377.93 217.00V215.00M374.53 215.00h6.8" stroke="#4a2c2c" stroke-width="0.9" fill="none"/>
<path d="M398.18 221.30V220.50M394.78 220.50h6.8" stroke="#4a2c2c" stroke-width="0.9" fill="none"/>
<rect x="367.80" y="217.00" width="20.25" height="29.60" fill="#ff0303" stroke="#b00000" stroke-width="0.9"/>
<rect x="388.05" y="221.30" width="20.25" height="25.30" fill="#960000" stroke="#640000" stroke-width="0.9"/>
<path d="M428.23 232.50V230.50M424.83 230.50h6.8" stroke="#4a2c2c" stroke-width="0.9" fill="none"/>
<path d="M448.48 233.30V232.40M445.08 232.40h6.8" stroke="#4a2c2c" stroke-width="0.9" fill="none"/>
<rect x="418.10" y="232.50" width="20.25" height="14.10" fill="#ff0303" stroke="#b00000" stroke-width="0.9"/>
<rect x="438.35" y="233.30" width="20.25" height="13.30" fill="#960000" stroke="#640000" stroke-width="0.9"/>
<path d="M478.73 235.50V233.30M475.33 233.30h6.8" stroke="#4a2c2c" stroke-width="0.9" fill="none"/>
<path d="M498.98 229.50V225.50M495.58 225.50h6.8" stroke="#4a2c2c" stroke-width="0.9" fill="none"/>
<rect x="468.60" y="235.50" width="20.25" height="11.10" fill="#ff0303" stroke="#b00000" stroke-width="0.9"/>
<rect x="488.85" y="229.50" width="20.25" height="17.10" fill="#960000" stroke="#640000" stroke-width="0.9"/>
<path d="M337.6 162.3V156.8H388.2V162.3" stroke="#3a3a3a" stroke-width="0.9" fill="none"/>
<text x="363.3" y="158.1" font-size="17" text-anchor="middle" fill="#111" stroke="#111" stroke-width="0.25">***</text>
<path d="M388.4 178.8V173.3H438.6V178.8" stroke="#3a3a3a" stroke-width="0.9" fill="none"/>
<text x="413.2" y="174.4" font-size="17" text-anchor="middle" fill="#111" stroke="#111" stroke-width="0.25">***</text>
<text x="338.8" y="179.4" font-size="17" text-anchor="middle" fill="#111" stroke="#111" stroke-width="0.25">**</text>
<text x="389.3" y="214.4" font-size="17" text-anchor="middle" fill="#111" stroke="#111" stroke-width="0.25">**</text>
<text x="312.4" y="167.1" font-size="18" text-anchor="start" font-weight="bold" fill="#000" stroke="#000" stroke-width="0.22">F</text>
<line x1="80.5" y1="268" x2="80.5" y2="356.0" stroke="#333" stroke-width="0.9"/>
<line x1="77.7" y1="268.3" x2="80.5" y2="268.3" stroke="#333" stroke-width="0.9"/>
<text x="72.3" y="272.40000000000003" font-size="11" text-anchor="end" fill="#111" stroke="#111" stroke-width="0.22">2000</text>
<line x1="77.7" y1="290.1" x2="80.5" y2="290.1" stroke="#333" stroke-width="0.9"/>
<text x="72.3" y="294.20000000000005" font-size="11" text-anchor="end" fill="#111" stroke="#111" stroke-width="0.22">1500</text>
<line x1="77.7" y1="311.9" x2="80.5" y2="311.9" stroke="#333" stroke-width="0.9"/>
<text x="72.3" y="316.0" font-size="11" text-anchor="end" fill="#111" stroke="#111" stroke-width="0.22">1000</text>
<line x1="77.7" y1="333.7" x2="80.5" y2="333.7" stroke="#333" stroke-width="0.9"/>
<text x="72.3" y="337.8" font-size="11" text-anchor="end" fill="#111" stroke="#111" stroke-width="0.22">500</text>
<line x1="77.7" y1="355.6" x2="80.5" y2="355.6" stroke="#333" stroke-width="0.9"/>
<text x="72.3" y="359.70000000000005" font-size="11" text-anchor="end" fill="#111" stroke="#111" stroke-width="0.22">0</text>
<line x1="80.5" y1="355.6" x2="287" y2="355.6" stroke="#333" stroke-width="1"/>
<path d="M97.92 350.80V350.30M94.52 350.30h6.8" stroke="#2c2c50" stroke-width="0.9" fill="none"/>
<path d="M118.17 350.80V350.30M114.77 350.30h6.8" stroke="#2c2c50" stroke-width="0.9" fill="none"/>
<rect x="87.80" y="350.80" width="20.25" height="4.80" fill="#0303ff" stroke="#0000a8" stroke-width="0.9"/>
<rect x="108.05" y="350.80" width="20.25" height="4.80" fill="#0000a6" stroke="#000070" stroke-width="0.9"/>
<path d="M148.32 347.50V345.50M144.92 345.50h6.8" stroke="#2c2c50" stroke-width="0.9" fill="none"/>
<path d="M168.57 348.30V347.00M165.17 347.00h6.8" stroke="#2c2c50" stroke-width="0.9" fill="none"/>
<rect x="138.20" y="347.50" width="20.25" height="8.10" fill="#0303ff" stroke="#0000a8" stroke-width="0.9"/>
<rect x="158.45" y="348.30" width="20.25" height="7.30" fill="#0000a6" stroke="#000070" stroke-width="0.9"/>
<path d="M198.93 341.80V337.50M195.53 337.50h6.8" stroke="#2c2c50" stroke-width="0.9" fill="none"/>
<path d="M219.18 343.80V340.80M215.78 340.80h6.8" stroke="#2c2c50" stroke-width="0.9" fill="none"/>
<rect x="188.80" y="341.80" width="20.25" height="13.80" fill="#0303ff" stroke="#0000a8" stroke-width="0.9"/>
<rect x="209.05" y="343.80" width="20.25" height="11.80" fill="#0000a6" stroke="#000070" stroke-width="0.9"/>
<path d="M249.32 332.50V322.50M245.92 322.50h6.8" stroke="#2c2c50" stroke-width="0.9" fill="none"/>
<path d="M269.57 338.00V330.80M266.18 330.80h6.8" stroke="#2c2c50" stroke-width="0.9" fill="none"/>
<rect x="239.20" y="332.50" width="20.25" height="23.10" fill="#0303ff" stroke="#0000a8" stroke-width="0.9"/>
<rect x="259.45" y="338.00" width="20.25" height="17.60" fill="#0000a6" stroke="#000070" stroke-width="0.9"/>
<path d="M107.8 333.8V328.3H158.6V333.8" stroke="#3a3a3a" stroke-width="0.9" fill="none"/>
<text x="131.8" y="327.40000000000003" font-size="17" text-anchor="middle" fill="#111" stroke="#111" stroke-width="0.25">**</text>
<path d="M158.4 318.1V312.6H208.8V318.1" stroke="#3a3a3a" stroke-width="0.9" fill="none"/>
<text x="182.5" y="310.6" font-size="17" text-anchor="middle" fill="#111" stroke="#111" stroke-width="0.25">**</text>
<text x="86.3" y="270" font-size="18" text-anchor="start" font-weight="bold" fill="#000" stroke="#000" stroke-width="0.22">G</text>
<text x="13.2" y="306.5" font-size="13.8" text-anchor="middle" fill="#111" transform="rotate(-90 13.2 306.5)" stroke="#111" stroke-width="0.22">CX3CR1 MFI</text>
<line x1="309.6" y1="356.2" x2="516.3" y2="356.2" stroke="#333" stroke-width="1"/>
<path d="M327.32 349.30V348.80M323.93 348.80h6.8" stroke="#2c2c50" stroke-width="0.9" fill="none"/>
<path d="M347.57 349.30V348.80M344.18 348.80h6.8" stroke="#2c2c50" stroke-width="0.9" fill="none"/>
<rect x="317.20" y="349.30" width="20.25" height="6.90" fill="#0303ff" stroke="#0000a8" stroke-width="0.9"/>
<rect x="337.45" y="349.30" width="20.25" height="6.90" fill="#0000a6" stroke="#000070" stroke-width="0.9"/>
<path d="M377.73 343.00V341.30M374.33 341.30h6.8" stroke="#2c2c50" stroke-width="0.9" fill="none"/>
<path d="M397.98 345.50V344.30M394.58 344.30h6.8" stroke="#2c2c50" stroke-width="0.9" fill="none"/>
<rect x="367.60" y="343.00" width="20.25" height="13.20" fill="#0303ff" stroke="#0000a8" stroke-width="0.9"/>
<rect x="387.85" y="345.50" width="20.25" height="10.70" fill="#0000a6" stroke="#000070" stroke-width="0.9"/>
<path d="M428.23 323.80V320.80M424.83 320.80h6.8" stroke="#2c2c50" stroke-width="0.9" fill="none"/>
<path d="M448.48 332.00V329.50M445.08 329.50h6.8" stroke="#2c2c50" stroke-width="0.9" fill="none"/>
<rect x="418.10" y="323.80" width="20.25" height="32.40" fill="#0303ff" stroke="#0000a8" stroke-width="0.9"/>
<rect x="438.35" y="332.00" width="20.25" height="24.20" fill="#0000a6" stroke="#000070" stroke-width="0.9"/>
<path d="M478.73 286.30V283.80M475.33 283.80h6.8" stroke="#2c2c50" stroke-width="0.9" fill="none"/>
<path d="M498.98 290.80V288.00M495.58 288.00h6.8" stroke="#2c2c50" stroke-width="0.9" fill="none"/>
<rect x="468.60" y="286.30" width="20.25" height="69.90" fill="#0303ff" stroke="#0000a8" stroke-width="0.9"/>
<rect x="488.85" y="290.80" width="20.25" height="65.40" fill="#0000a6" stroke="#000070" stroke-width="0.9"/>
<path d="M337.6 327.3V321.8H388V327.3" stroke="#3a3a3a" stroke-width="0.9" fill="none"/>
<text x="361.3" y="320.6" font-size="17" text-anchor="middle" fill="#111" stroke="#111" stroke-width="0.25">***</text>
<path d="M387.8 299.9V294.4H438.3V299.9" stroke="#3a3a3a" stroke-width="0.9" fill="none"/>
<text x="412.5" y="291.90000000000003" font-size="17" text-anchor="middle" fill="#111" stroke="#111" stroke-width="0.25">***</text>
<path d="M438.5 268.7V263.2H489.4V268.7" stroke="#3a3a3a" stroke-width="0.9" fill="none"/>
<text x="462" y="265.1" font-size="17" text-anchor="middle" fill="#111" stroke="#111" stroke-width="0.25">***</text>
<text x="388" y="343.90000000000003" font-size="17" text-anchor="middle" fill="#111" stroke="#111" stroke-width="0.25">*</text>
<text x="439.3" y="321.40000000000003" font-size="17" text-anchor="middle" fill="#111" stroke="#111" stroke-width="0.25">*</text>
<text x="489.3" y="286.90000000000003" font-size="17" text-anchor="middle" fill="#111" stroke="#111" stroke-width="0.25">*</text>
<text x="312.4" y="269.2" font-size="18" text-anchor="start" font-weight="bold" fill="#000" stroke="#000" stroke-width="0.22">H</text>
<text x="117.7" y="378.20000000000005" font-size="14" text-anchor="end" fill="#111" transform="rotate(-45 117.7 378.20000000000005)" stroke="#111" stroke-width="0.22">Naive</text>
<text x="154.5" y="377.6" font-size="14" text-anchor="end" fill="#111" transform="rotate(-45 154.5 377.6)" stroke="#111" stroke-width="0.22">Central</text>
<text x="177.5" y="379.6" font-size="14" text-anchor="end" fill="#111" transform="rotate(-45 177.5 379.6)" stroke="#111" stroke-width="0.22">memory</text>
<text x="206.5" y="377.8" font-size="14" text-anchor="end" fill="#111" transform="rotate(-45 206.5 377.8)" stroke="#111" stroke-width="0.22">Effector</text>
<text x="227.9" y="379.6" font-size="14" text-anchor="end" fill="#111" transform="rotate(-45 227.9 379.6)" stroke="#111" stroke-width="0.22">memory</text>
<text x="261.5" y="377.8" font-size="14" text-anchor="end" fill="#111" transform="rotate(-45 261.5 377.8)" stroke="#111" stroke-width="0.22">Effector</text>
<text x="347.29999999999995" y="378.20000000000005" font-size="14" text-anchor="end" fill="#111" transform="rotate(-45 347.29999999999995 378.20000000000005)" stroke="#111" stroke-width="0.22">Naive</text>
<text x="384.09999999999997" y="377.6" font-size="14" text-anchor="end" fill="#111" transform="rotate(-45 384.09999999999997 377.6)" stroke="#111" stroke-width="0.22">Central</text>
<text x="407.09999999999997" y="379.6" font-size="14" text-anchor="end" fill="#111" transform="rotate(-45 407.09999999999997 379.6)" stroke="#111" stroke-width="0.22">memory</text>
<text x="436.09999999999997" y="377.8" font-size="14" text-anchor="end" fill="#111" transform="rotate(-45 436.09999999999997 377.8)" stroke="#111" stroke-width="0.22">Effector</text>
<text x="457.5" y="379.6" font-size="14" text-anchor="end" fill="#111" transform="rotate(-45 457.5 379.6)" stroke="#111" stroke-width="0.22">memory</text>
<text x="491.1" y="377.8" font-size="14" text-anchor="end" fill="#111" transform="rotate(-45 491.1 377.8)" stroke="#111" stroke-width="0.22">Effector</text>
<text x="86.2" y="444.6" font-size="18" text-anchor="start" font-weight="bold" fill="#000" stroke="#000" stroke-width="0.22">I</text>
<rect x="204.8" y="431.3" width="196.09999999999997" height="96.49999999999994" fill="none" stroke="#333" stroke-width="0.9"/>
<line x1="202.8" y1="431.48" x2="204.8" y2="431.48" stroke="#333" stroke-width="0.9"/>
<text x="197.4" y="435.58000000000004" font-size="11.5" text-anchor="end" fill="#111" stroke="#111" stroke-width="0.22">40</text>
<line x1="202.8" y1="450.74" x2="204.8" y2="450.74" stroke="#333" stroke-width="0.9"/>
<text x="197.4" y="454.84000000000003" font-size="11.5" text-anchor="end" fill="#111" stroke="#111" stroke-width="0.22">20</text>
<line x1="202.8" y1="470.0" x2="204.8" y2="470.0" stroke="#333" stroke-width="0.9"/>
<text x="197.4" y="474.1" font-size="11.5" text-anchor="end" fill="#111" stroke="#111" stroke-width="0.22">0</text>
<line x1="202.8" y1="489.26" x2="204.8" y2="489.26" stroke="#333" stroke-width="0.9"/>
<text x="197.4" y="493.36" font-size="11.5" text-anchor="end" fill="#111" stroke="#111" stroke-width="0.22">-20</text>
<line x1="202.8" y1="508.52" x2="204.8" y2="508.52" stroke="#333" stroke-width="0.9"/>
<text x="197.4" y="512.62" font-size="11.5" text-anchor="end" fill="#111" stroke="#111" stroke-width="0.22">-40</text>
<line x1="202.8" y1="527.78" x2="204.8" y2="527.78" stroke="#333" stroke-width="0.9"/>
<text x="197.4" y="531.88" font-size="11.5" text-anchor="end" fill="#111" stroke="#111" stroke-width="0.22">-60</text>
<line x1="204.49999999999997" y1="527.8" x2="204.49999999999997" y2="529.8" stroke="#333" stroke-width="0.9"/>
<text x="203.99999999999997" y="544.9" font-size="11.5" text-anchor="middle" fill="#111" stroke="#111" stroke-width="0.22">-2</text>
<line x1="237.2" y1="527.8" x2="237.2" y2="529.8" stroke="#333" stroke-width="0.9"/>
<text x="236.7" y="544.9" font-size="11.5" text-anchor="middle" fill="#111" stroke="#111" stroke-width="0.22">-1</text>
<line x1="269.9" y1="527.8" x2="269.9" y2="529.8" stroke="#333" stroke-width="0.9"/>
<text x="269.9" y="544.9" font-size="11.5" text-anchor="middle" fill="#111" stroke="#111" stroke-width="0.22">0</text>
<line x1="302.59999999999997" y1="527.8" x2="302.59999999999997" y2="529.8" stroke="#333" stroke-width="0.9"/>
<text x="302.59999999999997" y="544.9" font-size="11.5" text-anchor="middle" fill="#111" stroke="#111" stroke-width="0.22">1</text>
<line x1="335.29999999999995" y1="527.8" x2="335.29999999999995" y2="529.8" stroke="#333" stroke-width="0.9"/>
<text x="335.29999999999995" y="544.9" font-size="11.5" text-anchor="middle" fill="#111" stroke="#111" stroke-width="0.22">2</text>
<line x1="368.0" y1="527.8" x2="368.0" y2="529.8" stroke="#333" stroke-width="0.9"/>
<text x="368.0" y="544.9" font-size="11.5" text-anchor="middle" fill="#111" stroke="#111" stroke-width="0.22">3</text>
<line x1="400.7" y1="527.8" x2="400.7" y2="529.8" stroke="#333" stroke-width="0.9"/>
<text x="400.7" y="544.9" font-size="11.5" text-anchor="middle" fill="#111" stroke="#111" stroke-width="0.22">4</text>
<line x1="204.8" y1="446.3" x2="400.9" y2="523.8" stroke="#333" stroke-width="0.9"/>
<circle cx="237" cy="447.8" r="3.8" fill="#000" stroke="#111" stroke-width="0.4"/>
<text x="243.8" y="447.2" font-size="11" text-anchor="start" fill="#111" stroke="#111" stroke-width="0.22">E</text>
<circle cx="271.6" cy="491.6" r="3.8" fill="#000" stroke="#111" stroke-width="0.4"/>
<text x="251.4" y="503.2" font-size="11" text-anchor="start" fill="#111" stroke="#111" stroke-width="0.22">EM</text>
<circle cx="317.8" cy="470" r="3.5" fill="#fff" stroke="#111" stroke-width="1"/>
<text x="306.6" y="464.8" font-size="11" text-anchor="start" fill="#111" stroke="#111" stroke-width="0.22">E</text>
<circle cx="316.9" cy="500.8" r="3.5" fill="#fff" stroke="#111" stroke-width="1"/>
<text x="296.8" y="513" font-size="11" text-anchor="start" fill="#111" stroke="#111" stroke-width="0.22">EM</text>
<circle cx="330.2" cy="499.2" r="3.8" fill="#000" stroke="#111" stroke-width="0.4"/>
<text x="328.2" y="491" font-size="11" text-anchor="start" fill="#111" stroke="#111" stroke-width="0.22">CM</text>
<circle cx="348.3" cy="503.2" r="3.5" fill="#fff" stroke="#111" stroke-width="1"/>
<text x="349.2" y="497" font-size="11" text-anchor="start" fill="#111" stroke="#111" stroke-width="0.22">CM</text>
<circle cx="373.2" cy="509.1" r="3.5" fill="#fff" stroke="#111" stroke-width="1"/>
<text x="379.4" y="507" font-size="11" text-anchor="start" fill="#111" stroke="#111" stroke-width="0.22">N</text>
<circle cx="374.5" cy="514.6" r="3.8" fill="#000" stroke="#111" stroke-width="0.4"/>
<text x="361.6" y="522.3" font-size="11" text-anchor="start" fill="#111" stroke="#111" stroke-width="0.22">N</text>
<text x="339.2" y="449.8" font-size="14" text-anchor="start" fill="#111" stroke="#111" stroke-width="0.22">r = -0.83*</text>
<text x="150.4" y="480.6" font-size="14" text-anchor="middle" fill="#111" transform="rotate(-90 150.4 480.6)" stroke="#111" stroke-width="0.22">Change from</text>
<text x="167" y="480" font-size="14" text-anchor="middle" fill="#111" transform="rotate(-90 167 480)" stroke="#111" stroke-width="0.22">night to day [%]</text>
<text x="302.4" y="564.5" font-size="14" text-anchor="middle" fill="#111" stroke="#111" stroke-width="0.22">CXCR4/CX3CR1 ratio</text>
<text x="14" y="642.2" font-size="14.1" text-anchor="middle" fill="#111" transform="rotate(-90 14 642.2)" stroke="#111" stroke-width="0.22">CXCR4 on</text>
<text x="34.6" y="641.5" font-size="14.3" text-anchor="middle" fill="#111" transform="rotate(-90 34.6 641.5)" stroke="#111" stroke-width="0.22">naive T cells</text>
<path d="M117.5 688.3 L117.6 666.2 L118.8 667.7 L120.4 666.9 L121.9 661.5 L123.8 658.5 L125.0 656.2 L126.5 655.1 L128.1 653.1 L129.6 650.8 L131.2 648.5 L132.7 646.9 L133.9 647.7 L135.0 643.1 L136.1 640.8 L136.8 643.8 L137.6 639.7 L138.5 643.1 L139.6 646.9 L140.7 644.6 L141.9 643.1 L143.2 646.9 L144.7 653.1 L146.2 657.7 L147.8 661.5 L149.6 667.7 L151.2 672.3 L153.0 678.5 L155.0 683.1 L157.3 686.9 L158.1 688.2 L158.1 688.3 Z" fill="#c4c2a2" stroke="#4a4a44" stroke-width="0.7" stroke-linejoin="round"/>
<path d="M160.0 687.5 L160.4 688.0 L160.8 688.0 L161.4 687.7 L162.0 687.5 L162.7 687.9 L163.4 688.0 L164.1 688.0 L164.8 687.5 L165.5 687.5 L166.2 688.0 L166.8 688.0 L167.4 688.0 L168.0 688.0 L168.7 687.6 L169.3 687.5 L170.0 688.0 L170.6 687.3 L171.2 687.0 L171.8 686.7 L172.3 687.0 L173.0 686.9 L173.6 686.5 L174.2 686.4 L174.8 686.3 L175.4 686.2 L175.9 686.0 L176.4 685.4 L176.9 684.4 L177.4 684.9 L177.8 683.8 L178.2 683.9 L178.6 683.0 L178.9 683.1 L179.3 682.3 L179.6 682.0 L180.0 682.3 L180.2 680.7 L180.4 680.5 L180.6 679.3 L180.8 679.1 L180.9 678.8 L181.1 678.0 L181.3 677.5 L181.5 676.8 L181.7 675.8 L181.9 675.7 L182.1 674.6 L182.3 674.9 L182.5 673.5 L182.7 673.3 L182.9 672.5 L183.1 672.3 L183.3 671.1 L183.6 671.1 L183.9 670.1 L184.1 670.1 L184.4 669.3 L184.7 668.6 L185.0 667.7 L185.3 667.7 L185.6 667.1 L185.9 667.0 L186.1 665.7 L186.4 665.5 L186.7 665.0 L186.9 664.3 L187.2 663.7 L187.4 663.2 L187.7 662.4 L187.9 661.8 L188.2 661.5 L188.4 661.3 L188.6 661.1 L188.9 660.4 L189.1 659.8 L189.3 659.1 L189.5 658.4 L189.8 657.4 L190.0 656.8 L190.1 656.7 L190.2 655.5 L190.4 654.9 L190.5 655.3 L190.6 654.1 L190.7 653.9 L190.8 653.3 L191.0 652.0 L191.1 652.6 L191.2 651.8 L191.3 650.6 L191.4 650.2 L191.6 649.4 L191.7 648.4 L191.8 648.0 L191.9 647.6 L192.0 647.2 L192.2 646.4 L192.3 645.5 L192.4 645.3 L192.5 644.0 L192.6 643.9 L192.7 643.4 L192.9 642.3 L193.0 641.1 L193.1 640.8 L193.2 640.6 L193.3 640.2 L193.4 639.9 L193.5 638.4 L193.6 638.2 L193.7 637.8 L193.8 637.0 L193.9 635.6 L194.0 636.1 L194.1 636.0 L194.2 635.0 L194.3 633.7 L194.4 633.3 L194.5 632.9 L194.6 633.1 L194.7 631.9 L194.8 631.1 L194.9 631.0 L195.0 629.9 L195.1 630.0 L195.2 628.5 L195.3 628.0 L195.4 627.8 L195.5 627.5 L195.6 626.6 L195.7 625.9 L195.8 624.5 L195.9 624.3 L196.0 623.6 L196.1 623.0 L196.2 622.7 L196.3 621.8 L196.4 621.5 L196.5 620.5 L196.6 619.7 L196.7 619.2 L196.8 618.6 L196.9 618.1 L197.0 617.0 L197.1 616.4 L197.2 615.4 L197.3 615.8 L197.4 615.1 L197.5 613.9 L197.6 613.2 L197.7 612.4 L197.8 612.4 L197.9 611.9 L198.0 612.1 L198.1 610.9 L198.2 610.1 L198.4 608.5 L198.6 608.9 L198.8 607.7 L199.1 606.3 L199.3 606.3 L199.5 605.1 L199.7 606.5 L199.9 605.3 L200.1 604.9 L200.3 604.5 L200.6 603.8 L200.8 604.8 L201.0 604.9 L201.2 606.3 L201.4 606.2 L201.6 607.6 L201.8 609.3 L201.9 609.9 L202.1 609.4 L202.2 609.9 L202.3 611.3 L202.4 611.9 L202.5 611.9 L202.6 612.7 L202.7 613.3 L202.8 613.8 L202.9 614.7 L203.0 616.0 L203.1 616.5 L203.2 617.6 L203.3 617.5 L203.4 618.0 L203.5 618.4 L203.6 619.3 L203.7 619.5 L203.8 619.8 L203.9 621.2 L204.0 622.0 L204.1 622.4 L204.2 623.2 L204.3 623.4 L204.4 623.8 L204.5 624.9 L204.6 625.6 L204.7 625.9 L204.7 626.1 L204.8 626.7 L204.9 627.8 L204.9 628.4 L205.0 628.8 L205.1 630.0 L205.1 630.2 L205.2 630.9 L205.3 631.8 L205.4 631.7 L205.4 632.0 L205.5 633.6 L205.6 633.7 L205.6 635.1 L205.7 635.4 L205.8 636.3 L205.9 636.9 L206.0 636.6 L206.0 638.2 L206.1 638.4 L206.2 639.0 L206.3 639.7 L206.4 640.8 L206.5 641.5 L206.5 642.1 L206.6 641.8 L206.7 642.8 L206.8 642.8 L206.9 644.2 L207.0 645.1 L207.1 645.2 L207.2 646.2 L207.3 646.8 L207.4 647.7 L207.5 647.6 L207.6 648.2 L207.7 648.9 L207.8 650.4 L207.9 650.8 L208.0 651.0 L208.1 651.7 L208.2 652.3 L208.3 652.9 L208.4 653.4 L208.5 654.0 L208.6 654.3 L208.7 655.1 L208.8 656.5 L208.9 656.7 L209.0 657.2 L209.1 657.7 L209.2 658.4 L209.3 659.1 L209.4 659.4 L209.5 660.3 L209.6 661.0 L209.8 661.3 L209.9 661.9 L210.0 662.5 L210.1 663.1 L210.2 664.4 L210.3 663.9 L210.4 665.2 L210.5 665.7 L210.6 666.3 L210.7 667.2 L210.8 668.2 L210.9 668.4 L211.0 668.8 L211.1 669.2 L211.2 669.9 L211.3 670.8 L211.4 670.9 L211.5 671.1 L211.5 671.5 L211.7 672.4 L211.8 673.1 L212.0 674.7 L212.1 675.1 L212.2 675.5 L212.3 676.6 L212.4 676.4 L212.5 677.4 L212.6 678.0 L212.7 677.6 L212.8 678.1 L212.9 678.8 L213.1 679.9 L213.3 680.8 L213.5 680.6 L213.7 682.1 L214.0 682.2 L214.2 682.8 L214.5 683.3 L214.8 683.9 L215.1 683.9 L215.4 684.6 L215.9 685.1 L216.4 686.1 L216.9 687.0 L217.5 687.6 L218.1 686.7 L218.7 686.5 L219.2 687.2 L219.9 687.2 L220.7 688.0 L221.4 687.9 L222.1 687.6 L222.7 688.0 L223.1 687.9" stroke="#4a5450" stroke-width="0.9" fill="none" stroke-linejoin="round"/>
<path d="M176.9 687.4 L177.3 687.9 L177.8 687.7 L178.4 687.6 L179.1 688.0 L179.8 687.8 L180.5 687.6 L181.2 688.0 L181.9 687.2 L182.5 686.7 L183.1 686.4 L183.5 686.3 L183.9 686.4 L184.3 686.0 L184.7 685.7 L185.1 685.4 L185.4 684.8 L185.7 683.9 L186.0 683.6 L186.3 682.7 L186.6 681.6 L186.9 681.5 L187.1 680.7 L187.3 680.0 L187.5 680.2 L187.6 679.2 L187.8 678.1 L187.9 677.6 L188.1 677.8 L188.2 676.3 L188.4 676.0 L188.5 675.3 L188.6 674.6 L188.8 674.0 L188.9 673.0 L189.1 672.4 L189.2 671.9 L189.4 671.2 L189.6 671.0 L189.8 670.6 L190.0 669.1 L190.2 669.1 L190.5 667.9 L190.7 667.5 L190.9 667.1 L191.1 666.6 L191.3 665.8 L191.5 664.5 L191.7 665.3 L191.8 664.2 L192.0 663.5 L192.2 663.4 L192.3 662.4 L192.5 661.6 L192.6 661.8 L192.7 661.3 L192.9 660.3 L193.0 660.4 L193.2 659.6 L193.3 658.5 L193.5 658.8 L193.7 657.5 L193.8 656.2 L193.9 656.3 L194.0 655.7 L194.2 655.5 L194.3 654.1 L194.4 654.5 L194.5 653.9 L194.6 653.2 L194.7 652.6 L194.8 652.3 L195.0 651.5 L195.1 650.6 L195.2 649.7 L195.3 649.7 L195.5 649.1 L195.6 648.2 L195.7 647.5 L195.8 647.1 L196.0 645.3 L196.1 645.6 L196.2 644.0 L196.3 644.3 L196.5 644.0 L196.6 643.7 L196.7 642.2 L196.8 641.9 L196.9 641.1 L197.0 639.8 L197.1 640.2 L197.2 639.4 L197.4 638.8 L197.5 637.8 L197.6 637.5 L197.7 637.0 L197.8 636.8 L197.9 635.8 L198.0 636.4 L198.1 634.4 L198.2 633.8 L198.3 633.3 L198.4 632.4 L198.5 632.6 L198.6 631.7 L198.7 630.4 L198.8 630.3 L198.9 630.1 L199.0 628.6 L199.1 628.6 L199.2 627.9 L199.3 628.3 L199.3 627.0 L199.4 626.2 L199.5 625.6 L199.7 625.8 L199.8 624.2 L199.9 624.5 L200.0 622.4 L200.2 622.2 L200.3 621.5 L200.4 620.7 L200.5 620.2 L200.7 619.8 L200.8 618.7 L200.9 617.8 L201.0 618.1 L201.1 617.6 L201.2 616.2 L201.4 616.0 L201.5 614.4 L201.6 615.2 L201.7 613.9 L201.8 613.7 L201.8 614.2 L202.1 611.9 L202.4 611.5 L202.6 610.5 L202.7 609.7 L202.9 609.6 L203.1 609.7 L203.8 608.4 L204.1 608.9 L204.4 609.8 L204.6 610.1 L204.9 610.7 L205.0 612.1 L205.1 612.1 L205.2 613.1 L205.4 612.8 L205.5 614.4 L205.6 613.9 L205.7 614.5 L205.8 615.7 L205.9 616.4 L206.0 617.4 L206.2 617.9 L206.2 618.8 L206.3 619.6 L206.4 619.4 L206.4 619.7 L206.5 620.6 L206.5 621.6 L206.6 622.2 L206.7 622.4 L206.7 622.8 L206.8 623.8 L206.9 624.7 L206.9 624.8 L207.0 626.1 L207.1 626.4 L207.1 627.0 L207.2 627.4 L207.3 628.7 L207.4 628.9 L207.5 628.9 L207.5 630.3 L207.6 630.4 L207.7 631.6 L207.8 631.8 L207.9 632.1 L208.0 633.0 L208.1 633.4 L208.1 633.8 L208.2 634.7 L208.3 635.6 L208.4 636.0 L208.5 636.5 L208.6 637.0 L208.7 638.0 L208.8 638.6 L208.9 639.5 L209.0 639.9 L209.1 641.2 L209.2 640.6 L209.3 641.7 L209.4 642.5 L209.5 643.2 L209.6 642.9 L209.7 643.6 L209.7 644.6 L209.8 645.6 L209.9 646.3 L210.0 645.9 L210.1 647.1 L210.2 648.1 L210.3 648.4 L210.4 648.6 L210.4 649.4 L210.5 649.8 L210.6 651.3 L210.7 651.4 L210.8 652.0 L210.9 652.5 L211.0 653.4 L211.1 653.7 L211.2 654.3 L211.3 655.3 L211.4 655.9 L211.5 656.7 L211.6 657.2 L211.8 658.2 L211.9 658.3 L212.0 659.1 L212.1 659.7 L212.2 659.9 L212.3 661.3 L212.5 661.3 L212.6 661.6 L212.7 663.2 L212.8 663.6 L213.0 663.8 L213.1 665.0 L213.2 665.6 L213.3 666.1 L213.5 666.1 L213.6 667.1 L213.7 667.3 L213.8 668.0 L214.0 668.6 L214.1 669.1 L214.2 670.1 L214.3 670.2 L214.4 671.2 L214.5 671.5 L214.6 671.7 L214.8 672.8 L214.9 673.7 L215.1 674.6 L215.2 674.8 L215.3 676.2 L215.5 676.5 L215.6 677.3 L215.7 677.0 L215.8 677.7 L215.9 679.0 L216.1 679.1 L216.2 679.8 L216.3 680.6 L216.5 680.2 L216.6 681.3 L216.9 682.6 L217.1 683.0 L217.4 683.4 L217.7 684.2 L218.0 684.6 L218.2 685.5 L218.6 686.2 L218.9 686.1 L219.2 686.8 L219.8 687.1 L220.6 687.6 L221.3 687.9 L222.0 687.3 L222.6 688.0 L223.1 687.9" stroke="#4a5450" stroke-width="0.9" fill="none" stroke-linejoin="round"/>
<path d="M163.1 687.9 L163.4 688.0 L163.9 687.8 L164.4 687.6 L164.9 687.9 L165.5 688.0 L166.1 688.0 L166.8 688.0 L167.5 687.9 L168.2 687.8 L169.0 687.8 L169.7 687.9 L170.5 687.9 L171.2 688.0 L171.9 688.0 L172.6 687.7 L173.2 688.0 L173.8 687.9 L174.5 688.0 L175.2 688.0 L175.8 688.0 L176.5 687.7 L177.2 688.0 L177.8 687.7 L178.4 688.0 L179.1 687.8 L179.7 687.9 L180.3 688.0 L180.9 687.7 L181.5 687.9 L182.0 687.7 L182.6 687.8 L183.1 687.7 L183.8 687.9 L184.5 687.8 L185.2 687.8 L185.9 687.8 L186.5 687.4 L187.1 687.9 L187.7 687.5 L188.2 687.2 L188.7 687.2 L189.2 687.3 L189.8 687.1 L190.4 686.6 L190.9 686.4 L191.4 686.1 L191.8 685.8 L192.3 685.2 L192.7 684.9 L193.1 684.1 L193.4 683.7 L193.6 683.4 L193.9 682.9 L194.1 682.2 L194.4 681.8 L194.6 681.1 L194.8 680.6 L195.1 680.0 L195.3 679.3 L195.5 678.8 L195.7 678.0 L195.9 677.4 L196.1 676.5 L196.3 676.4 L196.5 675.7 L196.7 675.2 L196.9 674.2 L197.1 673.8 L197.3 673.2 L197.5 672.3 L197.7 672.1 L197.8 671.6 L198.0 670.6 L198.2 670.3 L198.3 670.0 L198.5 668.9 L198.6 668.6 L198.8 668.1 L198.9 667.6 L199.1 666.5 L199.2 665.9 L199.4 665.5 L199.5 665.0 L199.7 664.1 L199.8 663.6 L200.0 663.0 L200.1 662.8 L200.3 662.0 L200.4 661.7 L200.5 661.2 L200.7 660.8 L200.8 660.1 L200.9 659.5 L201.1 659.0 L201.2 658.2 L201.4 657.2 L201.5 656.5 L201.6 656.2 L201.7 655.6 L201.8 655.0 L201.9 654.6 L202.0 654.5 L202.1 653.4 L202.2 652.9 L202.2 652.3 L202.3 651.5 L202.4 651.1 L202.5 650.4 L202.6 649.7 L202.7 648.8 L202.8 648.6 L202.9 647.8 L203.0 647.0 L203.1 645.9 L203.2 645.7 L203.3 644.8 L203.4 644.3 L203.5 643.6 L203.6 642.9 L203.7 642.6 L203.8 641.8 L203.8 641.4 L203.9 640.4 L204.0 639.9 L204.1 639.5 L204.2 638.8 L204.3 638.0 L204.4 637.3 L204.5 636.8 L204.6 636.2 L204.7 635.7 L204.8 635.0 L204.9 634.5 L205.0 633.9 L205.1 633.2 L205.2 632.8 L205.3 632.1 L205.3 631.3 L205.4 630.7 L205.5 630.1 L205.6 629.4 L205.7 628.7 L205.8 628.3 L205.9 627.6 L206.0 627.1 L206.1 626.3 L206.2 625.8 L206.2 625.2 L206.3 624.5 L206.4 623.9 L206.5 623.1 L206.6 622.5 L206.7 622.0 L206.8 621.3 L206.8 620.6 L206.9 619.8 L207.0 619.3 L207.1 618.9 L207.2 617.6 L207.3 617.4 L207.3 616.6 L207.4 616.1 L207.5 615.5 L207.6 614.5 L207.6 614.4 L207.7 613.4 L207.8 612.9 L207.9 612.5 L207.9 611.8 L208.0 611.4 L208.1 610.8 L208.2 610.2 L208.3 609.4 L208.4 608.4 L208.6 608.0 L208.7 607.1 L208.9 606.6 L209.0 605.6 L209.1 605.0 L209.2 604.4 L209.3 604.3 L209.4 603.7 L209.5 603.5 L209.9 602.1 L210.2 601.5 L210.5 601.5 L210.8 601.6 L211.1 602.4 L211.5 603.6 L211.7 603.9 L211.8 604.1 L211.9 604.6 L212.1 605.6 L212.2 605.8 L212.4 606.4 L212.5 607.1 L212.6 607.8 L212.8 608.5 L212.9 609.3 L213.1 610.3 L213.1 610.5 L213.2 611.6 L213.3 611.8 L213.3 612.2 L213.4 613.0 L213.4 613.6 L213.5 613.9 L213.6 614.6 L213.6 615.5 L213.7 616.0 L213.8 616.7 L213.8 617.4 L213.9 617.9 L213.9 618.5 L214.0 619.5 L214.1 619.9 L214.1 620.6 L214.2 621.3 L214.2 621.9 L214.3 622.4 L214.4 623.5 L214.4 623.9 L214.5 624.8 L214.6 625.2 L214.6 625.6 L214.7 626.6 L214.7 627.0 L214.8 627.5 L214.9 628.2 L214.9 628.5 L215.0 629.5 L215.0 630.0 L215.1 630.7 L215.2 631.2 L215.2 632.0 L215.3 632.6 L215.3 633.3 L215.4 634.0 L215.4 634.4 L215.5 635.0 L215.6 635.7 L215.6 636.1 L215.7 636.8 L215.8 637.6 L215.8 638.0 L215.9 638.4 L215.9 639.3 L216.0 640.0 L216.1 640.8 L216.2 641.1 L216.2 641.6 L216.3 642.4 L216.4 643.0 L216.4 643.7 L216.5 644.2 L216.6 644.9 L216.7 645.4 L216.7 646.2 L216.8 646.8 L216.9 647.4 L217.0 647.9 L217.0 648.3 L217.1 649.2 L217.2 649.8 L217.3 650.6 L217.4 651.2 L217.5 651.6 L217.5 652.2 L217.6 652.7 L217.7 653.5 L217.8 654.1 L217.9 654.6 L218.0 655.2 L218.1 656.1 L218.2 656.4 L218.2 657.4 L218.3 657.9 L218.4 658.6 L218.5 658.9 L218.6 659.7 L218.7 660.0 L218.8 660.8 L218.9 661.3 L219.0 662.0 L219.1 662.7 L219.2 663.5 L219.3 664.2 L219.4 664.6 L219.5 665.2 L219.7 665.7 L219.8 666.3 L219.9 666.8 L220.0 667.6 L220.1 668.3 L220.2 668.7 L220.3 669.4 L220.4 669.7 L220.5 670.3 L220.6 670.9 L220.7 671.6 L220.8 671.9 L220.9 672.9 L221.1 673.5 L221.2 674.1 L221.4 674.6 L221.5 675.5 L221.7 676.1 L221.8 677.0 L222.0 677.5 L222.1 677.8 L222.3 678.7 L222.4 679.2 L222.6 679.2 L222.7 680.0 L222.9 680.7 L223.1 680.9 L223.3 681.8 L223.6 682.6 L223.9 683.2 L224.2 683.9 L224.5 684.4 L224.8 684.7 L225.1 685.7 L225.4 685.9 L225.8 686.5 L226.2 686.5 L226.7 687.0 L227.3 687.3 L228.0 687.4 L228.7 687.6 L229.3 687.7 L229.9 687.9 L230.4 687.9 L230.8 687.9" stroke="#e21616" stroke-width="1.1" fill="none" stroke-linejoin="round"/>
<rect x="117.5" y="591.8" width="160.0" height="96.5" fill="none" stroke="#333" stroke-width="0.9"/>
<text x="118.1" y="701.5" font-size="8.2" text-anchor="middle" fill="#222">10<tspan dy="-3" font-size="5.6">0</tspan></text>
<text x="158.1" y="701.5" font-size="8.2" text-anchor="middle" fill="#222">10<tspan dy="-3" font-size="5.6">1</tspan></text>
<text x="198.1" y="701.5" font-size="8.2" text-anchor="middle" fill="#222">10<tspan dy="-3" font-size="5.6">2</tspan></text>
<text x="238.1" y="701.5" font-size="8.2" text-anchor="middle" fill="#222">10<tspan dy="-3" font-size="5.6">3</tspan></text>
<text x="278.1" y="701.5" font-size="8.2" text-anchor="middle" fill="#222">10<tspan dy="-3" font-size="5.6">4</tspan></text>
<path d="M117.5 688.3v3M129.5 688.3v1.6M136.6 688.3v1.6M141.6 688.3v1.6M145.5 688.3v1.6M148.6 688.3v1.6M151.3 688.3v1.6M153.6 688.3v1.6M155.7 688.3v1.6M157.5 688.3v3M169.5 688.3v1.6M176.6 688.3v1.6M181.6 688.3v1.6M185.5 688.3v1.6M188.6 688.3v1.6M191.3 688.3v1.6M193.6 688.3v1.6M195.7 688.3v1.6M197.5 688.3v3M209.5 688.3v1.6M216.6 688.3v1.6M221.6 688.3v1.6M225.5 688.3v1.6M228.6 688.3v1.6M231.3 688.3v1.6M233.6 688.3v1.6M235.7 688.3v1.6M237.5 688.3v3M249.5 688.3v1.6M256.6 688.3v1.6M261.6 688.3v1.6M265.5 688.3v1.6M268.6 688.3v1.6M271.3 688.3v1.6M273.6 688.3v1.6M275.7 688.3v1.6M277.5 688.3v3" stroke="#333" stroke-width="0.6" fill="none"/>
<line x1="114.9" y1="591.8" x2="117.5" y2="591.8" stroke="#333" stroke-width="0.7"/>
<text x="111.6" y="591.8" font-size="8.2" text-anchor="middle" fill="#222" transform="rotate(-90 111.6 591.8)">128</text>
<line x1="114.9" y1="615.925" x2="117.5" y2="615.925" stroke="#333" stroke-width="0.7"/>
<text x="111.6" y="615.925" font-size="8.2" text-anchor="middle" fill="#222" transform="rotate(-90 111.6 615.925)">96</text>
<line x1="114.9" y1="640.05" x2="117.5" y2="640.05" stroke="#333" stroke-width="0.7"/>
<text x="111.6" y="640.05" font-size="8.2" text-anchor="middle" fill="#222" transform="rotate(-90 111.6 640.05)">64</text>
<line x1="114.9" y1="664.175" x2="117.5" y2="664.175" stroke="#333" stroke-width="0.7"/>
<text x="111.6" y="664.175" font-size="8.2" text-anchor="middle" fill="#222" transform="rotate(-90 111.6 664.175)">32</text>
<line x1="114.9" y1="688.3" x2="117.5" y2="688.3" stroke="#333" stroke-width="0.7"/>
<text x="111.6" y="688.3" font-size="8.2" text-anchor="middle" fill="#222" transform="rotate(-90 111.6 688.3)">0</text>
<text x="93.6" y="639.8" font-size="11.3" text-anchor="middle" fill="#111" transform="rotate(-90 93.6 639.8)" stroke="#111" stroke-width="0.22">Events</text>
<text x="85.8" y="605.3" font-size="18" text-anchor="start" font-weight="bold" fill="#000" stroke="#000" stroke-width="0.22">J</text>
<text x="197.5" y="717.7" font-size="11" text-anchor="middle" fill="#111" stroke="#111" stroke-width="0.22">CXCR4</text>
<path d="M344.5 688.7 L344.6 673.1 L345.8 674.6 L347.4 671.5 L348.6 673.1 L350.2 666.2 L351.2 669.2 L352.8 670.8 L354.3 669.2 L355.8 664.6 L357.4 666.2 L358.5 667.7 L359.7 663.8 L361.2 665.4 L362.8 661.5 L364.0 657.7 L365.1 660.8 L366.6 654.2 L367.7 657.7 L368.9 661.5 L370.5 656.2 L371.7 658.5 L373.2 663.8 L375.1 666.2 L376.9 672.3 L378.9 676.2 L380.9 681.5 L382.8 686.2 L384.6 688.5 L384.6 688.7 Z" fill="#c4c2a2" stroke="#4a4a44" stroke-width="0.7" stroke-linejoin="round"/>
<path d="M344.2 688.4 L344.6 688.4 L345.0 688.0 L345.4 688.0 L345.9 688.4 L346.5 688.4 L347.1 688.4 L347.7 687.8 L348.3 688.0 L349.0 688.3 L349.7 688.4 L350.4 688.3 L351.1 688.1 L351.9 688.2 L352.6 688.4 L353.3 688.0 L354.0 688.3 L354.7 688.4 L355.3 688.4 L355.9 688.2 L356.5 688.4 L357.2 687.8 L357.9 688.4 L358.6 688.3 L359.2 688.0 L359.9 688.1 L360.5 688.4 L361.2 688.0 L361.8 688.4 L362.4 688.4 L363.1 688.4 L363.7 688.4 L364.3 687.5 L364.9 688.1 L365.5 687.7 L366.1 688.3 L366.7 688.0 L367.3 688.0 L368.0 688.1 L368.6 687.7 L369.3 688.0 L369.9 687.7 L370.5 688.4 L371.1 687.9 L371.7 688.1 L372.3 687.4 L372.9 687.6 L373.5 687.8 L374.1 688.4 L374.7 688.4 L375.3 688.3 L375.9 688.0 L376.5 688.4 L377.2 687.8 L377.8 687.9 L378.4 688.4 L379.0 687.8 L379.6 688.2 L380.2 688.4 L380.8 688.0 L381.5 688.2 L382.1 688.0 L382.7 687.6 L383.3 686.6 L383.9 687.4 L384.5 687.8 L385.2 687.1 L385.8 687.6 L386.4 687.9 L387.0 688.3 L387.7 687.3 L388.4 687.6 L389.0 687.9 L389.7 688.1 L390.3 687.4 L391.0 688.4 L391.6 687.7 L392.3 688.4 L392.9 688.0 L393.4 688.2 L394.0 688.4 L394.5 688.4 L395.0 688.1 L395.9 687.7 L396.7 687.8 L397.3 687.4 L397.9 688.4 L398.4 687.2 L399.0 686.7 L399.6 688.3 L400.3 688.0 L401.0 687.3 L401.7 687.7 L402.4 686.9 L403.0 686.9 L403.7 687.2 L404.2 687.2 L404.9 686.9 L405.6 687.9 L406.2 687.7 L406.7 687.5 L407.3 687.0 L407.9 687.3 L408.6 686.8 L409.2 686.6 L409.8 686.6 L410.4 685.9 L411.1 686.4 L411.6 687.0 L412.2 686.8 L412.6 687.3 L413.0 685.2 L413.4 685.2 L413.8 684.2 L414.2 684.2 L414.8 685.0 L415.4 683.2 L416.0 683.6 L416.5 683.7 L417.0 683.2 L417.5 683.2 L417.9 681.8 L418.4 682.3 L418.8 680.8 L419.1 680.2 L419.3 680.5 L419.5 679.9 L419.8 678.9 L420.0 678.3 L420.2 677.9 L420.5 677.3 L420.7 676.5 L420.9 675.4 L421.2 674.1 L421.3 675.0 L421.4 674.1 L421.5 673.0 L421.7 672.3 L421.8 672.1 L421.9 671.6 L422.1 670.3 L422.2 671.1 L422.3 670.1 L422.4 669.2 L422.6 668.8 L422.7 668.1 L422.8 667.8 L422.9 666.8 L423.1 666.6 L423.2 666.1 L423.3 664.7 L423.5 664.1 L423.6 663.3 L423.7 663.0 L423.8 662.2 L424.0 661.9 L424.1 661.4 L424.2 660.9 L424.3 659.6 L424.5 659.9 L424.6 658.7 L424.7 658.2 L424.8 657.4 L425.0 656.2 L425.1 656.5 L425.2 655.0 L425.3 655.6 L425.4 654.5 L425.5 654.5 L425.7 653.6 L425.8 653.0 L425.9 652.6 L426.0 651.5 L426.1 651.5 L426.2 650.2 L426.3 649.7 L426.4 648.8 L426.5 648.6 L426.6 648.1 L426.7 647.0 L426.8 646.1 L426.9 645.9 L427.0 645.5 L427.1 644.7 L427.2 643.8 L427.3 643.2 L427.3 642.8 L427.4 641.3 L427.5 641.5 L427.6 641.7 L427.7 640.0 L427.8 639.8 L427.9 640.0 L428.0 639.0 L428.1 638.4 L428.2 637.4 L428.2 636.3 L428.3 637.4 L428.4 635.7 L428.5 635.1 L428.6 635.1 L428.7 634.2 L428.7 633.3 L428.8 632.2 L428.9 632.0 L429.0 631.5 L429.1 630.7 L429.2 630.0 L429.3 629.3 L429.4 629.0 L429.5 628.1 L429.6 627.9 L429.7 627.4 L429.8 626.5 L429.9 625.7 L430.0 625.7 L430.1 624.7 L430.2 623.2 L430.3 623.0 L430.4 622.8 L430.5 621.8 L430.6 621.9 L430.7 620.5 L430.9 619.4 L431.0 619.7 L431.1 618.7 L431.3 617.1 L431.4 617.2 L431.5 617.3 L431.6 616.1 L431.8 616.3 L431.9 617.0 L432.1 618.1 L432.2 618.6 L432.4 619.4 L432.5 618.7 L432.7 618.4 L432.9 618.3 L433.0 616.3 L433.2 616.9 L433.2 617.3 L433.3 616.4 L433.4 618.1 L433.4 618.9 L433.5 619.6 L433.5 620.8 L433.6 621.0 L433.7 621.8 L433.8 621.8 L433.9 621.7 L434.1 620.7 L434.2 620.9 L434.4 619.0 L434.5 617.8 L434.7 618.9 L434.8 618.9 L434.9 618.5 L435.0 618.8 L435.1 619.3 L435.2 620.7 L435.3 620.9 L435.4 621.5 L435.5 622.9 L435.6 623.4 L435.7 623.9 L435.8 625.2 L435.8 625.4 L435.9 626.1 L436.0 626.3 L436.0 627.3 L436.1 627.3 L436.2 628.4 L436.3 629.1 L436.3 629.2 L436.4 629.5 L436.5 630.9 L436.6 631.3 L436.7 632.3 L436.8 632.5 L436.8 633.7 L436.9 634.4 L437.0 635.5 L437.1 635.9 L437.1 636.0 L437.2 637.0 L437.3 636.8 L437.3 638.1 L437.4 638.3 L437.5 639.5 L437.6 639.7 L437.6 640.1 L437.7 640.6 L437.8 642.0 L437.9 642.1 L438.0 643.0 L438.0 643.6 L438.1 643.2 L438.2 644.8 L438.3 645.0 L438.4 645.9 L438.5 646.6 L438.6 646.3 L438.7 647.5 L438.8 648.2 L438.9 649.0 L439.0 649.8 L439.1 649.8 L439.2 650.6 L439.3 651.5 L439.4 651.1 L439.6 653.2 L439.7 652.6 L439.8 654.1 L439.9 654.2 L440.0 655.5 L440.1 655.8 L440.3 655.9 L440.4 655.9 L440.5 657.2 L440.6 657.9 L440.8 658.6 L440.9 658.5 L441.0 659.2 L441.1 659.9 L441.3 660.9 L441.4 661.1 L441.5 662.0 L441.6 663.0 L441.8 663.1 L441.9 664.4 L442.0 664.5 L442.2 664.9 L442.3 666.0 L442.4 666.4 L442.6 666.6 L442.7 667.1 L442.8 668.0 L443.0 668.8 L443.2 669.7 L443.3 670.0 L443.5 670.3 L443.6 670.7 L443.8 672.0 L443.9 672.6 L444.1 673.5 L444.2 673.5 L444.4 673.8 L444.5 675.2 L444.7 675.4 L444.8 675.5 L445.0 677.2 L445.2 677.6 L445.4 677.9 L445.6 678.6 L445.7 678.8 L445.9 680.1 L446.1 680.2 L446.3 680.7 L446.5 681.4 L446.7 681.5 L446.9 682.9 L447.1 683.7 L447.3 683.8 L447.7 683.3 L448.0 684.6 L448.4 685.0 L448.8 685.9 L449.2 685.4 L449.6 685.8 L450.0 686.8 L450.4 687.7 L451.0 687.6 L451.8 688.4 L452.5 687.8 L453.0 688.2 L453.5 688.3" stroke="#4a5450" stroke-width="0.9" fill="none" stroke-linejoin="round"/>
<path d="M418.1 688.4 L418.5 688.2 L419.1 688.4 L419.8 688.2 L420.6 687.9 L421.3 687.8 L421.9 687.1 L422.4 686.7 L422.9 686.9 L423.3 686.1 L423.8 686.2 L424.2 685.3 L424.6 684.1 L425.0 683.7 L425.3 683.4 L425.5 682.4 L425.7 682.7 L426.0 682.0 L426.2 681.9 L426.4 680.5 L426.6 680.1 L426.9 679.8 L427.1 679.1 L427.3 677.6 L427.5 678.2 L427.6 676.8 L427.8 677.0 L427.9 675.8 L428.1 675.2 L428.2 674.2 L428.4 674.1 L428.5 674.5 L428.7 672.6 L428.8 672.9 L429.0 672.2 L429.2 670.8 L429.3 670.7 L429.5 670.1 L429.6 668.7 L429.7 668.1 L429.8 668.2 L430.0 667.3 L430.1 667.5 L430.2 666.2 L430.3 664.9 L430.4 664.7 L430.6 663.6 L430.7 663.8 L430.8 663.2 L430.9 662.1 L431.0 661.2 L431.1 661.3 L431.3 660.2 L431.4 660.2 L431.5 658.6 L431.6 658.3 L431.7 657.6 L431.8 656.7 L431.9 657.7 L432.0 656.6 L432.1 655.0 L432.2 655.0 L432.3 653.3 L432.4 654.0 L432.5 653.3 L432.6 652.1 L432.7 651.5 L432.8 651.1 L432.9 650.6 L433.0 649.6 L433.1 648.8 L433.2 648.4 L433.3 647.7 L433.3 647.6 L433.4 646.7 L433.5 646.2 L433.6 644.8 L433.7 644.7 L433.8 644.1 L433.9 643.4 L433.9 642.9 L434.0 642.2 L434.1 641.1 L434.2 641.5 L434.3 640.8 L434.3 639.6 L434.4 639.4 L434.5 638.1 L434.6 637.4 L434.7 637.2 L434.7 637.3 L434.8 636.0 L434.9 634.8 L435.0 634.9 L435.0 634.0 L435.1 633.3 L435.2 633.2 L435.2 631.7 L435.3 631.2 L435.4 630.6 L435.5 631.0 L435.6 629.9 L435.7 628.9 L435.7 628.3 L435.8 628.2 L435.9 627.8 L436.0 626.4 L436.1 626.2 L436.1 626.5 L436.2 625.2 L436.3 624.2 L436.4 623.9 L436.5 623.3 L436.5 623.0 L436.7 622.1 L436.8 621.0 L436.9 620.5 L437.0 620.0 L437.1 618.9 L437.2 618.5 L437.4 617.5 L437.5 617.8 L437.6 617.4 L437.7 615.9 L437.8 616.1 L438.0 615.0 L438.2 614.4 L438.4 613.8 L438.5 613.6 L438.8 612.9 L439.0 611.0 L439.2 611.6 L439.3 611.3 L439.4 611.5 L439.5 612.6 L439.6 613.7 L439.7 614.2 L439.8 615.1 L439.9 615.5 L440.0 615.9 L440.1 617.1 L440.2 616.9 L440.3 618.4 L440.4 618.9 L440.5 619.5 L440.6 620.0 L440.7 620.5 L440.8 621.1 L440.9 621.7 L440.9 622.3 L441.0 622.1 L441.1 622.7 L441.2 624.3 L441.3 624.6 L441.4 625.3 L441.5 626.1 L441.6 626.4 L441.7 628.2 L441.8 628.2 L441.9 628.8 L442.0 629.0 L442.1 630.4 L442.2 630.9 L442.3 631.8 L442.4 632.2 L442.4 632.1 L442.5 632.5 L442.6 634.2 L442.7 634.0 L442.8 634.8 L442.9 635.4 L443.0 636.3 L443.1 636.9 L443.1 636.9 L443.2 637.6 L443.3 637.8 L443.4 639.3 L443.5 639.6 L443.5 639.6 L443.6 641.4 L443.7 641.6 L443.8 641.9 L443.8 642.8 L443.9 643.3 L444.0 644.3 L444.1 644.9 L444.1 645.2 L444.2 646.3 L444.3 645.6 L444.3 647.1 L444.4 648.1 L444.5 648.7 L444.5 649.2 L444.7 649.2 L444.8 649.6 L444.9 650.7 L445.0 652.3 L445.1 652.1 L445.2 652.2 L445.3 652.4 L445.5 653.7 L445.6 654.1 L445.8 655.2 L445.9 655.6 L446.0 655.1 L446.1 656.6 L446.2 657.6 L446.3 657.6 L446.5 658.0 L446.6 658.6 L446.7 659.2 L446.8 661.3 L447.0 661.6 L447.1 661.5 L447.2 662.9 L447.4 662.6 L447.5 663.4 L447.6 663.9 L447.7 664.8 L447.9 665.8 L448.0 667.0 L448.1 667.1 L448.3 667.3 L448.4 668.1 L448.5 668.6 L448.7 669.4 L448.8 669.5 L448.9 670.6 L449.1 671.3 L449.2 672.1 L449.3 672.0 L449.5 673.1 L449.6 673.6 L449.8 673.8 L449.9 674.0 L450.1 675.2 L450.3 676.4 L450.4 676.5 L450.6 678.2 L450.8 678.1 L451.0 678.2 L451.1 679.0 L451.3 679.8 L451.5 680.3 L451.7 680.6 L451.9 681.4 L452.2 683.0 L452.5 682.8 L452.8 683.1 L453.1 683.5 L453.4 683.5 L453.7 684.8 L454.1 685.1 L454.4 685.7 L454.7 685.9 L455.0 686.9 L455.7 687.6 L456.4 687.3 L457.1 687.4 L457.7 688.3 L458.1 688.3" stroke="#4a5450" stroke-width="0.9" fill="none" stroke-linejoin="round"/>
<path d="M423.5 688.4 L423.9 687.9 L424.5 688.3 L425.2 688.0 L425.9 687.7 L426.5 687.6 L427.1 687.4 L427.6 687.3 L428.1 687.1 L428.6 687.0 L429.1 686.3 L429.6 686.1 L429.9 685.5 L430.3 684.9 L430.6 684.3 L430.8 683.5 L431.1 682.7 L431.4 682.5 L431.7 681.8 L431.9 681.2 L432.1 680.7 L432.2 679.8 L432.4 679.4 L432.5 678.7 L432.7 678.8 L432.8 677.8 L433.0 677.3 L433.1 676.4 L433.2 675.6 L433.4 675.2 L433.5 674.7 L433.6 674.2 L433.8 673.0 L433.9 673.0 L434.0 672.1 L434.1 671.6 L434.2 671.1 L434.3 670.5 L434.4 670.1 L434.5 669.7 L434.6 668.9 L434.7 668.0 L434.8 667.7 L434.9 667.0 L435.0 666.5 L435.1 665.7 L435.2 664.4 L435.3 664.0 L435.4 663.5 L435.5 663.4 L435.5 662.5 L435.6 662.2 L435.7 661.4 L435.8 660.4 L435.8 660.1 L435.9 659.7 L436.0 659.0 L436.1 657.8 L436.2 657.7 L436.2 656.8 L436.3 655.7 L436.4 655.5 L436.5 654.5 L436.5 654.0 L436.6 654.2 L436.7 653.9 L436.8 652.8 L436.8 652.0 L436.9 651.8 L437.0 650.8 L437.1 649.8 L437.2 648.7 L437.2 649.1 L437.3 647.5 L437.4 646.7 L437.5 646.7 L437.5 646.3 L437.6 645.4 L437.7 645.3 L437.8 644.4 L437.8 643.9 L437.9 643.3 L438.0 642.4 L438.1 642.0 L438.2 642.1 L438.2 640.5 L438.3 640.2 L438.4 639.8 L438.5 638.8 L438.6 638.3 L438.6 637.2 L438.7 636.9 L438.8 636.4 L438.9 636.1 L439.0 635.5 L439.1 634.4 L439.2 633.6 L439.2 633.9 L439.3 633.0 L439.4 631.6 L439.5 631.5 L439.6 630.8 L439.7 630.3 L439.8 629.4 L439.8 629.2 L439.9 628.7 L440.0 628.1 L440.1 627.8 L440.3 626.9 L440.4 625.8 L440.5 625.0 L440.6 624.8 L440.7 624.7 L440.8 624.0 L440.9 623.0 L441.0 622.9 L441.2 622.1 L441.3 621.3 L441.4 621.0 L441.5 620.3 L441.6 619.3 L441.7 618.8 L441.9 618.3 L442.0 618.0 L442.1 616.7 L442.2 616.5 L442.4 615.8 L442.5 615.3 L442.6 614.4 L442.7 614.6 L442.8 613.7 L443.0 613.0 L443.1 611.8 L443.2 611.4 L443.3 610.7 L443.5 610.7 L443.6 610.4 L443.7 611.0 L443.8 611.5 L443.9 612.1 L444.1 613.2 L444.2 613.9 L444.3 614.4 L444.4 615.2 L444.5 615.7 L444.7 617.1 L444.8 617.7 L444.9 618.2 L445.0 618.7 L445.1 618.9 L445.3 619.9 L445.4 620.1 L445.5 621.0 L445.5 621.6 L445.6 622.3 L445.7 623.3 L445.8 623.5 L445.8 625.1 L445.9 624.9 L445.9 625.9 L446.0 625.8 L446.1 627.2 L446.2 627.1 L446.2 628.1 L446.3 628.7 L446.4 629.6 L446.6 630.1 L446.7 630.6 L446.8 630.9 L446.9 632.1 L447.1 632.0 L447.2 632.8 L447.3 633.3 L447.4 634.0 L447.5 634.3 L447.6 635.0 L447.7 635.9 L447.8 636.2 L447.9 637.1 L448.0 637.4 L448.1 638.7 L448.2 638.9 L448.3 640.2 L448.4 640.5 L448.5 641.1 L448.6 642.0 L448.7 642.6 L448.8 643.2 L448.9 643.8 L448.9 644.2 L449.0 644.2 L449.1 645.4 L449.2 645.7 L449.3 646.5 L449.4 647.3 L449.4 647.4 L449.5 648.6 L449.6 649.6 L449.7 649.6 L449.8 650.0 L449.9 651.1 L450.0 651.4 L450.1 652.2 L450.2 652.9 L450.3 652.7 L450.4 653.8 L450.5 653.9 L450.6 654.7 L450.7 655.7 L450.8 655.8 L450.9 656.6 L451.0 657.3 L451.1 658.1 L451.2 658.7 L451.3 659.3 L451.4 659.7 L451.5 660.2 L451.6 661.1 L451.7 661.3 L451.8 661.9 L451.9 662.9 L452.1 663.1 L452.2 663.7 L452.4 665.0 L452.5 665.3 L452.7 665.3 L452.8 666.3 L453.0 667.8 L453.1 668.7 L453.3 668.3 L453.4 669.2 L453.6 669.8 L453.8 670.3 L453.9 670.2 L454.1 671.6 L454.2 672.0 L454.4 672.5 L454.6 672.7 L454.8 673.6 L454.9 674.4 L455.1 675.0 L455.3 675.7 L455.4 676.1 L455.6 677.1 L455.8 677.6 L456.0 677.6 L456.2 678.3 L456.3 679.2 L456.5 679.4 L456.8 680.7 L457.0 680.7 L457.3 681.6 L457.5 682.3 L457.8 682.4 L458.0 683.7 L458.3 683.8 L458.6 684.2 L458.8 684.7 L459.1 684.8 L459.3 685.3 L459.8 686.9 L460.3 687.0 L460.8 687.4 L461.3 687.9 L461.9 688.2 L462.5 688.0 L463.3 688.2 L464.0 688.4 L464.7 688.4 L465.3 688.4 L465.8 688.3" stroke="#e21616" stroke-width="1.1" fill="none" stroke-linejoin="round"/>
<rect x="344.5" y="591.8" width="160.0" height="96.90000000000009" fill="none" stroke="#333" stroke-width="0.9"/>
<text x="345.1" y="701.9000000000001" font-size="8.2" text-anchor="middle" fill="#222">10<tspan dy="-3" font-size="5.6">0</tspan></text>
<text x="385.1" y="701.9000000000001" font-size="8.2" text-anchor="middle" fill="#222">10<tspan dy="-3" font-size="5.6">1</tspan></text>
<text x="425.1" y="701.9000000000001" font-size="8.2" text-anchor="middle" fill="#222">10<tspan dy="-3" font-size="5.6">2</tspan></text>
<text x="465.1" y="701.9000000000001" font-size="8.2" text-anchor="middle" fill="#222">10<tspan dy="-3" font-size="5.6">3</tspan></text>
<text x="505.1" y="701.9000000000001" font-size="8.2" text-anchor="middle" fill="#222">10<tspan dy="-3" font-size="5.6">4</tspan></text>
<path d="M344.5 688.7v3M356.5 688.7v1.6M363.6 688.7v1.6M368.6 688.7v1.6M372.5 688.7v1.6M375.6 688.7v1.6M378.3 688.7v1.6M380.6 688.7v1.6M382.7 688.7v1.6M384.5 688.7v3M396.5 688.7v1.6M403.6 688.7v1.6M408.6 688.7v1.6M412.5 688.7v1.6M415.6 688.7v1.6M418.3 688.7v1.6M420.6 688.7v1.6M422.7 688.7v1.6M424.5 688.7v3M436.5 688.7v1.6M443.6 688.7v1.6M448.6 688.7v1.6M452.5 688.7v1.6M455.6 688.7v1.6M458.3 688.7v1.6M460.6 688.7v1.6M462.7 688.7v1.6M464.5 688.7v3M476.5 688.7v1.6M483.6 688.7v1.6M488.6 688.7v1.6M492.5 688.7v1.6M495.6 688.7v1.6M498.3 688.7v1.6M500.6 688.7v1.6M502.7 688.7v1.6M504.5 688.7v3" stroke="#333" stroke-width="0.6" fill="none"/>
<line x1="341.9" y1="591.8" x2="344.5" y2="591.8" stroke="#333" stroke-width="0.7"/>
<text x="338.8" y="591.8" font-size="8.2" text-anchor="middle" fill="#222" transform="rotate(-90 338.8 591.8)">64</text>
<line x1="341.9" y1="616.025" x2="344.5" y2="616.025" stroke="#333" stroke-width="0.7"/>
<text x="338.8" y="616.025" font-size="8.2" text-anchor="middle" fill="#222" transform="rotate(-90 338.8 616.025)">48</text>
<line x1="341.9" y1="640.25" x2="344.5" y2="640.25" stroke="#333" stroke-width="0.7"/>
<text x="338.8" y="640.25" font-size="8.2" text-anchor="middle" fill="#222" transform="rotate(-90 338.8 640.25)">32</text>
<line x1="341.9" y1="664.475" x2="344.5" y2="664.475" stroke="#333" stroke-width="0.7"/>
<text x="338.8" y="664.475" font-size="8.2" text-anchor="middle" fill="#222" transform="rotate(-90 338.8 664.475)">16</text>
<line x1="341.9" y1="688.7" x2="344.5" y2="688.7" stroke="#333" stroke-width="0.7"/>
<text x="338.8" y="688.7" font-size="8.2" text-anchor="middle" fill="#222" transform="rotate(-90 338.8 688.7)">0</text>
<text x="324.4" y="639.8" font-size="11.3" text-anchor="middle" fill="#111" transform="rotate(-90 324.4 639.8)" stroke="#111" stroke-width="0.22">Events</text>
<text x="312.2" y="605.8" font-size="18" text-anchor="start" font-weight="bold" fill="#000" stroke="#000" stroke-width="0.22">K</text>
<text x="424.8" y="717.7" font-size="11" text-anchor="middle" fill="#111" stroke="#111" stroke-width="0.22">CXCR4</text>
</g>
</svg>
</body></html>
